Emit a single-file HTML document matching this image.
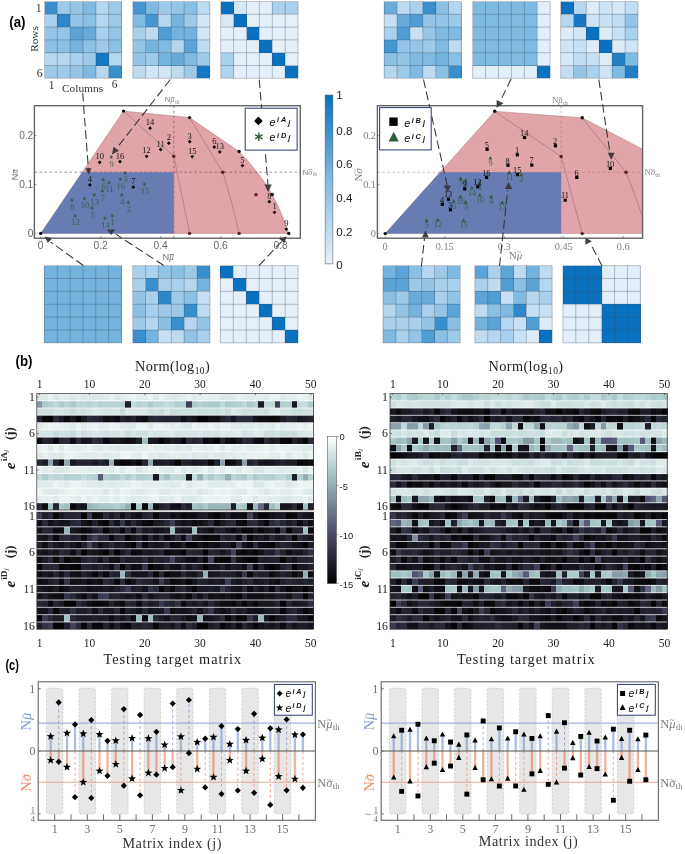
<!DOCTYPE html>
<html><head><meta charset="utf-8"><title>Figure</title><style>html,body{margin:0;padding:0;background:#fff}svg{display:block}.h rect{width:5.95px;height:7.5px}</style></head><body>
<svg width="685" height="854" viewBox="0 0 685 854">
<defs><linearGradient id="gb" x1="0" y1="0" x2="0" y2="1"><stop offset="0" stop-color="#0a71be"/><stop offset=".5" stop-color="#7fbae2"/><stop offset="1" stop-color="#e8f1fa"/></linearGradient>
<linearGradient id="gbone" x1="0" y1="0" x2="0" y2="1"><stop offset="0.000" stop-color="#ffffff"/><stop offset="0.050" stop-color="#edf3f3"/><stop offset="0.100" stop-color="#dbe8e8"/><stop offset="0.150" stop-color="#cadddd"/><stop offset="0.200" stop-color="#b8d2d2"/><stop offset="0.250" stop-color="#a7c7c7"/><stop offset="0.300" stop-color="#9cb7bc"/><stop offset="0.350" stop-color="#91a8b0"/><stop offset="0.400" stop-color="#8599a5"/><stop offset="0.450" stop-color="#7a899a"/><stop offset="0.500" stop-color="#6f7a8f"/><stop offset="0.550" stop-color="#646a84"/><stop offset="0.600" stop-color="#595b79"/><stop offset="0.650" stop-color="#4e4e6b"/><stop offset="0.700" stop-color="#42425c"/><stop offset="0.750" stop-color="#37374d"/><stop offset="0.800" stop-color="#2c2c3d"/><stop offset="0.850" stop-color="#21212e"/><stop offset="0.900" stop-color="#16161e"/><stop offset="0.950" stop-color="#0b0b0f"/><stop offset="1.000" stop-color="#000000"/></linearGradient>
<clipPath id="clipL"><rect x="34.4" y="105.7" width="265.9" height="132.5"/></clipPath>
<clipPath id="clipR"><rect x="377.4" y="105.7" width="265.2" height="132.5"/></clipPath>
</defs>
<rect width="685" height="854" fill="#fff"/>
<g shape-rendering="crispEdges">
<rect x="44.50" y="1.50" width="12.93" height="12.90" fill="#398ecc"/>
<rect x="57.33" y="1.50" width="12.93" height="12.90" fill="#9ecae9"/>
<rect x="70.17" y="1.50" width="12.93" height="12.90" fill="#94c5e7"/>
<rect x="83.00" y="1.50" width="12.93" height="12.90" fill="#7fbae2"/>
<rect x="95.83" y="1.50" width="12.93" height="12.90" fill="#b4d6ee"/>
<rect x="108.67" y="1.50" width="12.93" height="12.90" fill="#9ecae9"/>
<rect x="44.50" y="14.30" width="12.93" height="12.90" fill="#a9d0ec"/>
<rect x="57.33" y="14.30" width="12.93" height="12.90" fill="#2d87c9"/>
<rect x="70.17" y="14.30" width="12.93" height="12.90" fill="#94c5e7"/>
<rect x="83.00" y="14.30" width="12.93" height="12.90" fill="#8ac0e4"/>
<rect x="95.83" y="14.30" width="12.93" height="12.90" fill="#b4d6ee"/>
<rect x="108.67" y="14.30" width="12.93" height="12.90" fill="#9ecae9"/>
<rect x="44.50" y="27.10" width="12.93" height="12.90" fill="#94c5e7"/>
<rect x="57.33" y="27.10" width="12.93" height="12.90" fill="#94c5e7"/>
<rect x="70.17" y="27.10" width="12.93" height="12.90" fill="#5ca4d7"/>
<rect x="83.00" y="27.10" width="12.93" height="12.90" fill="#68abdb"/>
<rect x="95.83" y="27.10" width="12.93" height="12.90" fill="#a9d0ec"/>
<rect x="108.67" y="27.10" width="12.93" height="12.90" fill="#94c5e7"/>
<rect x="44.50" y="39.90" width="12.93" height="12.90" fill="#8ac0e4"/>
<rect x="57.33" y="39.90" width="12.93" height="12.90" fill="#8ac0e4"/>
<rect x="70.17" y="39.90" width="12.93" height="12.90" fill="#73b3de"/>
<rect x="83.00" y="39.90" width="12.93" height="12.90" fill="#8ac0e4"/>
<rect x="95.83" y="39.90" width="12.93" height="12.90" fill="#9ecae9"/>
<rect x="108.67" y="39.90" width="12.93" height="12.90" fill="#8ac0e4"/>
<rect x="44.50" y="52.70" width="12.93" height="12.90" fill="#b4d6ee"/>
<rect x="57.33" y="52.70" width="12.93" height="12.90" fill="#b4d6ee"/>
<rect x="70.17" y="52.70" width="12.93" height="12.90" fill="#a9d0ec"/>
<rect x="83.00" y="52.70" width="12.93" height="12.90" fill="#9ecae9"/>
<rect x="95.83" y="52.70" width="12.93" height="12.90" fill="#1678c2"/>
<rect x="108.67" y="52.70" width="12.93" height="12.90" fill="#b4d6ee"/>
<rect x="44.50" y="65.50" width="12.93" height="12.90" fill="#9ecae9"/>
<rect x="57.33" y="65.50" width="12.93" height="12.90" fill="#9ecae9"/>
<rect x="70.17" y="65.50" width="12.93" height="12.90" fill="#94c5e7"/>
<rect x="83.00" y="65.50" width="12.93" height="12.90" fill="#7fbae2"/>
<rect x="95.83" y="65.50" width="12.93" height="12.90" fill="#b4d6ee"/>
<rect x="108.67" y="65.50" width="12.93" height="12.90" fill="#398ecc"/>
</g>
<path d="M44.50 1.50V78.30M44.50 1.50H121.50M57.33 1.50V78.30M44.50 14.30H121.50M70.17 1.50V78.30M44.50 27.10H121.50M83.00 1.50V78.30M44.50 39.90H121.50M95.83 1.50V78.30M44.50 52.70H121.50M108.67 1.50V78.30M44.50 65.50H121.50M121.50 1.50V78.30M44.50 78.30H121.50" stroke="#3a4a5c" stroke-opacity=".6" stroke-width=".55" fill="none"/>
<g shape-rendering="crispEdges">
<rect x="132.80" y="1.50" width="12.93" height="12.90" fill="#4496d0"/>
<rect x="145.63" y="1.50" width="12.93" height="12.90" fill="#7fbae2"/>
<rect x="158.47" y="1.50" width="12.93" height="12.90" fill="#9ecae9"/>
<rect x="171.30" y="1.50" width="12.93" height="12.90" fill="#94c5e7"/>
<rect x="184.13" y="1.50" width="12.93" height="12.90" fill="#8ac0e4"/>
<rect x="196.97" y="1.50" width="12.93" height="12.90" fill="#bedbf0"/>
<rect x="132.80" y="14.30" width="12.93" height="12.90" fill="#7fbae2"/>
<rect x="145.63" y="14.30" width="12.93" height="12.90" fill="#4496d0"/>
<rect x="158.47" y="14.30" width="12.93" height="12.90" fill="#b4d6ee"/>
<rect x="171.30" y="14.30" width="12.93" height="12.90" fill="#73b3de"/>
<rect x="184.13" y="14.30" width="12.93" height="12.90" fill="#9ecae9"/>
<rect x="196.97" y="14.30" width="12.93" height="12.90" fill="#d3e6f5"/>
<rect x="132.80" y="27.10" width="12.93" height="12.90" fill="#a9d0ec"/>
<rect x="145.63" y="27.10" width="12.93" height="12.90" fill="#bedbf0"/>
<rect x="158.47" y="27.10" width="12.93" height="12.90" fill="#509dd4"/>
<rect x="171.30" y="27.10" width="12.93" height="12.90" fill="#73b3de"/>
<rect x="184.13" y="27.10" width="12.93" height="12.90" fill="#73b3de"/>
<rect x="196.97" y="27.10" width="12.93" height="12.90" fill="#d3e6f5"/>
<rect x="132.80" y="39.90" width="12.93" height="12.90" fill="#94c5e7"/>
<rect x="145.63" y="39.90" width="12.93" height="12.90" fill="#73b3de"/>
<rect x="158.47" y="39.90" width="12.93" height="12.90" fill="#7fbae2"/>
<rect x="171.30" y="39.90" width="12.93" height="12.90" fill="#b4d6ee"/>
<rect x="184.13" y="39.90" width="12.93" height="12.90" fill="#5ca4d7"/>
<rect x="196.97" y="39.90" width="12.93" height="12.90" fill="#bedbf0"/>
<rect x="132.80" y="52.70" width="12.93" height="12.90" fill="#94c5e7"/>
<rect x="145.63" y="52.70" width="12.93" height="12.90" fill="#9ecae9"/>
<rect x="158.47" y="52.70" width="12.93" height="12.90" fill="#73b3de"/>
<rect x="171.30" y="52.70" width="12.93" height="12.90" fill="#68abdb"/>
<rect x="184.13" y="52.70" width="12.93" height="12.90" fill="#7fbae2"/>
<rect x="196.97" y="52.70" width="12.93" height="12.90" fill="#9ecae9"/>
<rect x="132.80" y="65.50" width="12.93" height="12.90" fill="#bedbf0"/>
<rect x="145.63" y="65.50" width="12.93" height="12.90" fill="#d3e6f5"/>
<rect x="158.47" y="65.50" width="12.93" height="12.90" fill="#d3e6f5"/>
<rect x="171.30" y="65.50" width="12.93" height="12.90" fill="#bedbf0"/>
<rect x="184.13" y="65.50" width="12.93" height="12.90" fill="#9ecae9"/>
<rect x="196.97" y="65.50" width="12.93" height="12.90" fill="#1678c2"/>
</g>
<path d="M132.80 1.50V78.30M132.80 1.50H209.80M145.63 1.50V78.30M132.80 14.30H209.80M158.47 1.50V78.30M132.80 27.10H209.80M171.30 1.50V78.30M132.80 39.90H209.80M184.13 1.50V78.30M132.80 52.70H209.80M196.97 1.50V78.30M132.80 65.50H209.80M209.80 1.50V78.30M132.80 78.30H209.80" stroke="#3a4a5c" stroke-opacity=".6" stroke-width=".55" fill="none"/>
<g shape-rendering="crispEdges">
<rect x="220.70" y="1.50" width="13.00" height="12.90" fill="#0a71be"/>
<rect x="233.60" y="1.50" width="13.00" height="12.90" fill="#d7e8f6"/>
<rect x="246.50" y="1.50" width="13.00" height="12.90" fill="#e4eff9"/>
<rect x="259.40" y="1.50" width="13.00" height="12.90" fill="#e4eff9"/>
<rect x="272.30" y="1.50" width="13.00" height="12.90" fill="#a9d0ec"/>
<rect x="285.20" y="1.50" width="13.00" height="12.90" fill="#a9d0ec"/>
<rect x="220.70" y="14.30" width="13.00" height="12.90" fill="#d7e8f6"/>
<rect x="233.60" y="14.30" width="13.00" height="12.90" fill="#0a71be"/>
<rect x="246.50" y="14.30" width="13.00" height="12.90" fill="#e4eff9"/>
<rect x="259.40" y="14.30" width="13.00" height="12.90" fill="#e4eff9"/>
<rect x="272.30" y="14.30" width="13.00" height="12.90" fill="#e4eff9"/>
<rect x="285.20" y="14.30" width="13.00" height="12.90" fill="#e4eff9"/>
<rect x="220.70" y="27.10" width="13.00" height="12.90" fill="#e4eff9"/>
<rect x="233.60" y="27.10" width="13.00" height="12.90" fill="#e4eff9"/>
<rect x="246.50" y="27.10" width="13.00" height="12.90" fill="#0a71be"/>
<rect x="259.40" y="27.10" width="13.00" height="12.90" fill="#e4eff9"/>
<rect x="272.30" y="27.10" width="13.00" height="12.90" fill="#e4eff9"/>
<rect x="285.20" y="27.10" width="13.00" height="12.90" fill="#e4eff9"/>
<rect x="220.70" y="39.90" width="13.00" height="12.90" fill="#e4eff9"/>
<rect x="233.60" y="39.90" width="13.00" height="12.90" fill="#e4eff9"/>
<rect x="246.50" y="39.90" width="13.00" height="12.90" fill="#e4eff9"/>
<rect x="259.40" y="39.90" width="13.00" height="12.90" fill="#0a71be"/>
<rect x="272.30" y="39.90" width="13.00" height="12.90" fill="#e4eff9"/>
<rect x="285.20" y="39.90" width="13.00" height="12.90" fill="#e4eff9"/>
<rect x="220.70" y="52.70" width="13.00" height="12.90" fill="#a9d0ec"/>
<rect x="233.60" y="52.70" width="13.00" height="12.90" fill="#e4eff9"/>
<rect x="246.50" y="52.70" width="13.00" height="12.90" fill="#e4eff9"/>
<rect x="259.40" y="52.70" width="13.00" height="12.90" fill="#e4eff9"/>
<rect x="272.30" y="52.70" width="13.00" height="12.90" fill="#0a71be"/>
<rect x="285.20" y="52.70" width="13.00" height="12.90" fill="#e4eff9"/>
<rect x="220.70" y="65.50" width="13.00" height="12.90" fill="#afd3ed"/>
<rect x="233.60" y="65.50" width="13.00" height="12.90" fill="#e4eff9"/>
<rect x="246.50" y="65.50" width="13.00" height="12.90" fill="#e4eff9"/>
<rect x="259.40" y="65.50" width="13.00" height="12.90" fill="#e4eff9"/>
<rect x="272.30" y="65.50" width="13.00" height="12.90" fill="#e4eff9"/>
<rect x="285.20" y="65.50" width="13.00" height="12.90" fill="#0a71be"/>
</g>
<path d="M220.70 1.50V78.30M220.70 1.50H298.10M233.60 1.50V78.30M220.70 14.30H298.10M246.50 1.50V78.30M220.70 27.10H298.10M259.40 1.50V78.30M220.70 39.90H298.10M272.30 1.50V78.30M220.70 52.70H298.10M285.20 1.50V78.30M220.70 65.50H298.10M298.10 1.50V78.30M220.70 78.30H298.10" stroke="#3a4a5c" stroke-opacity=".6" stroke-width=".55" fill="none"/>
<g shape-rendering="crispEdges">
<rect x="384.20" y="1.50" width="12.97" height="12.90" fill="#68abdb"/>
<rect x="397.07" y="1.50" width="12.97" height="12.90" fill="#bedbf0"/>
<rect x="409.93" y="1.50" width="12.97" height="12.90" fill="#a9d0ec"/>
<rect x="422.80" y="1.50" width="12.97" height="12.90" fill="#398ecc"/>
<rect x="435.67" y="1.50" width="12.97" height="12.90" fill="#8ac0e4"/>
<rect x="448.53" y="1.50" width="12.97" height="12.90" fill="#b4d6ee"/>
<rect x="384.20" y="14.30" width="12.97" height="12.90" fill="#c8e0f3"/>
<rect x="397.07" y="14.30" width="12.97" height="12.90" fill="#68abdb"/>
<rect x="409.93" y="14.30" width="12.97" height="12.90" fill="#509dd4"/>
<rect x="422.80" y="14.30" width="12.97" height="12.90" fill="#94c5e7"/>
<rect x="435.67" y="14.30" width="12.97" height="12.90" fill="#94c5e7"/>
<rect x="448.53" y="14.30" width="12.97" height="12.90" fill="#9ecae9"/>
<rect x="384.20" y="27.10" width="12.97" height="12.90" fill="#a9d0ec"/>
<rect x="397.07" y="27.10" width="12.97" height="12.90" fill="#509dd4"/>
<rect x="409.93" y="27.10" width="12.97" height="12.90" fill="#c8e0f3"/>
<rect x="422.80" y="27.10" width="12.97" height="12.90" fill="#94c5e7"/>
<rect x="435.67" y="27.10" width="12.97" height="12.90" fill="#7fbae2"/>
<rect x="448.53" y="27.10" width="12.97" height="12.90" fill="#7fbae2"/>
<rect x="384.20" y="39.90" width="12.97" height="12.90" fill="#4496d0"/>
<rect x="397.07" y="39.90" width="12.97" height="12.90" fill="#94c5e7"/>
<rect x="409.93" y="39.90" width="12.97" height="12.90" fill="#94c5e7"/>
<rect x="422.80" y="39.90" width="12.97" height="12.90" fill="#9ecae9"/>
<rect x="435.67" y="39.90" width="12.97" height="12.90" fill="#7fbae2"/>
<rect x="448.53" y="39.90" width="12.97" height="12.90" fill="#bedbf0"/>
<rect x="384.20" y="52.70" width="12.97" height="12.90" fill="#8ac0e4"/>
<rect x="397.07" y="52.70" width="12.97" height="12.90" fill="#94c5e7"/>
<rect x="409.93" y="52.70" width="12.97" height="12.90" fill="#7fbae2"/>
<rect x="422.80" y="52.70" width="12.97" height="12.90" fill="#7fbae2"/>
<rect x="435.67" y="52.70" width="12.97" height="12.90" fill="#73b3de"/>
<rect x="448.53" y="52.70" width="12.97" height="12.90" fill="#8ac0e4"/>
<rect x="384.20" y="65.50" width="12.97" height="12.90" fill="#b4d6ee"/>
<rect x="397.07" y="65.50" width="12.97" height="12.90" fill="#9ecae9"/>
<rect x="409.93" y="65.50" width="12.97" height="12.90" fill="#7fbae2"/>
<rect x="422.80" y="65.50" width="12.97" height="12.90" fill="#bedbf0"/>
<rect x="435.67" y="65.50" width="12.97" height="12.90" fill="#8ac0e4"/>
<rect x="448.53" y="65.50" width="12.97" height="12.90" fill="#398ecc"/>
</g>
<path d="M384.20 1.50V78.30M384.20 1.50H461.40M397.07 1.50V78.30M384.20 14.30H461.40M409.93 1.50V78.30M384.20 27.10H461.40M422.80 1.50V78.30M384.20 39.90H461.40M435.67 1.50V78.30M384.20 52.70H461.40M448.53 1.50V78.30M384.20 65.50H461.40M461.40 1.50V78.30M384.20 78.30H461.40" stroke="#3a4a5c" stroke-opacity=".6" stroke-width=".55" fill="none"/>
<g shape-rendering="crispEdges">
<rect x="472.60" y="1.50" width="13.03" height="12.90" fill="#7fbae2"/>
<rect x="485.53" y="1.50" width="13.03" height="12.90" fill="#7fbae2"/>
<rect x="498.47" y="1.50" width="13.03" height="12.90" fill="#7fbae2"/>
<rect x="511.40" y="1.50" width="13.03" height="12.90" fill="#7fbae2"/>
<rect x="524.33" y="1.50" width="13.03" height="12.90" fill="#7fbae2"/>
<rect x="537.27" y="1.50" width="13.03" height="12.90" fill="#e2eef9"/>
<rect x="472.60" y="14.30" width="13.03" height="12.90" fill="#7fbae2"/>
<rect x="485.53" y="14.30" width="13.03" height="12.90" fill="#7fbae2"/>
<rect x="498.47" y="14.30" width="13.03" height="12.90" fill="#7fbae2"/>
<rect x="511.40" y="14.30" width="13.03" height="12.90" fill="#7fbae2"/>
<rect x="524.33" y="14.30" width="13.03" height="12.90" fill="#7fbae2"/>
<rect x="537.27" y="14.30" width="13.03" height="12.90" fill="#e2eef9"/>
<rect x="472.60" y="27.10" width="13.03" height="12.90" fill="#7fbae2"/>
<rect x="485.53" y="27.10" width="13.03" height="12.90" fill="#7fbae2"/>
<rect x="498.47" y="27.10" width="13.03" height="12.90" fill="#7fbae2"/>
<rect x="511.40" y="27.10" width="13.03" height="12.90" fill="#7fbae2"/>
<rect x="524.33" y="27.10" width="13.03" height="12.90" fill="#7fbae2"/>
<rect x="537.27" y="27.10" width="13.03" height="12.90" fill="#e2eef9"/>
<rect x="472.60" y="39.90" width="13.03" height="12.90" fill="#7fbae2"/>
<rect x="485.53" y="39.90" width="13.03" height="12.90" fill="#7fbae2"/>
<rect x="498.47" y="39.90" width="13.03" height="12.90" fill="#7fbae2"/>
<rect x="511.40" y="39.90" width="13.03" height="12.90" fill="#7fbae2"/>
<rect x="524.33" y="39.90" width="13.03" height="12.90" fill="#7fbae2"/>
<rect x="537.27" y="39.90" width="13.03" height="12.90" fill="#e2eef9"/>
<rect x="472.60" y="52.70" width="13.03" height="12.90" fill="#7fbae2"/>
<rect x="485.53" y="52.70" width="13.03" height="12.90" fill="#7fbae2"/>
<rect x="498.47" y="52.70" width="13.03" height="12.90" fill="#7fbae2"/>
<rect x="511.40" y="52.70" width="13.03" height="12.90" fill="#7fbae2"/>
<rect x="524.33" y="52.70" width="13.03" height="12.90" fill="#7fbae2"/>
<rect x="537.27" y="52.70" width="13.03" height="12.90" fill="#e2eef9"/>
<rect x="472.60" y="65.50" width="13.03" height="12.90" fill="#e2eef9"/>
<rect x="485.53" y="65.50" width="13.03" height="12.90" fill="#e2eef9"/>
<rect x="498.47" y="65.50" width="13.03" height="12.90" fill="#e2eef9"/>
<rect x="511.40" y="65.50" width="13.03" height="12.90" fill="#e2eef9"/>
<rect x="524.33" y="65.50" width="13.03" height="12.90" fill="#e2eef9"/>
<rect x="537.27" y="65.50" width="13.03" height="12.90" fill="#0a71be"/>
</g>
<path d="M472.60 1.50V78.30M472.60 1.50H550.20M485.53 1.50V78.30M472.60 14.30H550.20M498.47 1.50V78.30M472.60 27.10H550.20M511.40 1.50V78.30M472.60 39.90H550.20M524.33 1.50V78.30M472.60 52.70H550.20M537.27 1.50V78.30M472.60 65.50H550.20M550.20 1.50V78.30M472.60 78.30H550.20" stroke="#3a4a5c" stroke-opacity=".6" stroke-width=".55" fill="none"/>
<g shape-rendering="crispEdges">
<rect x="560.60" y="1.50" width="13.00" height="12.90" fill="#0a71be"/>
<rect x="573.50" y="1.50" width="13.00" height="12.90" fill="#b4d6ee"/>
<rect x="586.40" y="1.50" width="13.00" height="12.90" fill="#deecf8"/>
<rect x="599.30" y="1.50" width="13.00" height="12.90" fill="#cfe4f4"/>
<rect x="612.20" y="1.50" width="13.00" height="12.90" fill="#d7e8f6"/>
<rect x="625.10" y="1.50" width="13.00" height="12.90" fill="#c2ddf1"/>
<rect x="560.60" y="14.30" width="13.00" height="12.90" fill="#b4d6ee"/>
<rect x="573.50" y="14.30" width="13.00" height="12.90" fill="#1678c2"/>
<rect x="586.40" y="14.30" width="13.00" height="12.90" fill="#cfe4f4"/>
<rect x="599.30" y="14.30" width="13.00" height="12.90" fill="#c8e0f3"/>
<rect x="612.20" y="14.30" width="13.00" height="12.90" fill="#c2ddf1"/>
<rect x="625.10" y="14.30" width="13.00" height="12.90" fill="#94c5e7"/>
<rect x="560.60" y="27.10" width="13.00" height="12.90" fill="#deecf8"/>
<rect x="573.50" y="27.10" width="13.00" height="12.90" fill="#d3e6f5"/>
<rect x="586.40" y="27.10" width="13.00" height="12.90" fill="#0a71be"/>
<rect x="599.30" y="27.10" width="13.00" height="12.90" fill="#deecf8"/>
<rect x="612.20" y="27.10" width="13.00" height="12.90" fill="#c8e0f3"/>
<rect x="625.10" y="27.10" width="13.00" height="12.90" fill="#a9d0ec"/>
<rect x="560.60" y="39.90" width="13.00" height="12.90" fill="#cfe4f4"/>
<rect x="573.50" y="39.90" width="13.00" height="12.90" fill="#c8e0f3"/>
<rect x="586.40" y="39.90" width="13.00" height="12.90" fill="#deecf8"/>
<rect x="599.30" y="39.90" width="13.00" height="12.90" fill="#0a71be"/>
<rect x="612.20" y="39.90" width="13.00" height="12.90" fill="#deecf8"/>
<rect x="625.10" y="39.90" width="13.00" height="12.90" fill="#cfe4f4"/>
<rect x="560.60" y="52.70" width="13.00" height="12.90" fill="#d7e8f6"/>
<rect x="573.50" y="52.70" width="13.00" height="12.90" fill="#c2ddf1"/>
<rect x="586.40" y="52.70" width="13.00" height="12.90" fill="#c8e0f3"/>
<rect x="599.30" y="52.70" width="13.00" height="12.90" fill="#deecf8"/>
<rect x="612.20" y="52.70" width="13.00" height="12.90" fill="#2180c5"/>
<rect x="625.10" y="52.70" width="13.00" height="12.90" fill="#7fbae2"/>
<rect x="560.60" y="65.50" width="13.00" height="12.90" fill="#c2ddf1"/>
<rect x="573.50" y="65.50" width="13.00" height="12.90" fill="#94c5e7"/>
<rect x="586.40" y="65.50" width="13.00" height="12.90" fill="#a9d0ec"/>
<rect x="599.30" y="65.50" width="13.00" height="12.90" fill="#cfe4f4"/>
<rect x="612.20" y="65.50" width="13.00" height="12.90" fill="#7fbae2"/>
<rect x="625.10" y="65.50" width="13.00" height="12.90" fill="#2180c5"/>
</g>
<path d="M560.60 1.50V78.30M560.60 1.50H638.00M573.50 1.50V78.30M560.60 14.30H638.00M586.40 1.50V78.30M560.60 27.10H638.00M599.30 1.50V78.30M560.60 39.90H638.00M612.20 1.50V78.30M560.60 52.70H638.00M625.10 1.50V78.30M560.60 65.50H638.00M638.00 1.50V78.30M560.60 78.30H638.00" stroke="#3a4a5c" stroke-opacity=".6" stroke-width=".55" fill="none"/>
<g shape-rendering="crispEdges">
<rect x="44.40" y="265.60" width="12.95" height="12.98" fill="#73b3de"/>
<rect x="57.25" y="265.60" width="12.95" height="12.98" fill="#73b3de"/>
<rect x="70.10" y="265.60" width="12.95" height="12.98" fill="#73b3de"/>
<rect x="82.95" y="265.60" width="12.95" height="12.98" fill="#73b3de"/>
<rect x="95.80" y="265.60" width="12.95" height="12.98" fill="#73b3de"/>
<rect x="108.65" y="265.60" width="12.95" height="12.98" fill="#73b3de"/>
<rect x="44.40" y="278.48" width="12.95" height="12.98" fill="#73b3de"/>
<rect x="57.25" y="278.48" width="12.95" height="12.98" fill="#73b3de"/>
<rect x="70.10" y="278.48" width="12.95" height="12.98" fill="#73b3de"/>
<rect x="82.95" y="278.48" width="12.95" height="12.98" fill="#73b3de"/>
<rect x="95.80" y="278.48" width="12.95" height="12.98" fill="#73b3de"/>
<rect x="108.65" y="278.48" width="12.95" height="12.98" fill="#73b3de"/>
<rect x="44.40" y="291.37" width="12.95" height="12.98" fill="#73b3de"/>
<rect x="57.25" y="291.37" width="12.95" height="12.98" fill="#73b3de"/>
<rect x="70.10" y="291.37" width="12.95" height="12.98" fill="#73b3de"/>
<rect x="82.95" y="291.37" width="12.95" height="12.98" fill="#73b3de"/>
<rect x="95.80" y="291.37" width="12.95" height="12.98" fill="#73b3de"/>
<rect x="108.65" y="291.37" width="12.95" height="12.98" fill="#73b3de"/>
<rect x="44.40" y="304.25" width="12.95" height="12.98" fill="#73b3de"/>
<rect x="57.25" y="304.25" width="12.95" height="12.98" fill="#73b3de"/>
<rect x="70.10" y="304.25" width="12.95" height="12.98" fill="#73b3de"/>
<rect x="82.95" y="304.25" width="12.95" height="12.98" fill="#73b3de"/>
<rect x="95.80" y="304.25" width="12.95" height="12.98" fill="#73b3de"/>
<rect x="108.65" y="304.25" width="12.95" height="12.98" fill="#73b3de"/>
<rect x="44.40" y="317.13" width="12.95" height="12.98" fill="#73b3de"/>
<rect x="57.25" y="317.13" width="12.95" height="12.98" fill="#73b3de"/>
<rect x="70.10" y="317.13" width="12.95" height="12.98" fill="#73b3de"/>
<rect x="82.95" y="317.13" width="12.95" height="12.98" fill="#73b3de"/>
<rect x="95.80" y="317.13" width="12.95" height="12.98" fill="#73b3de"/>
<rect x="108.65" y="317.13" width="12.95" height="12.98" fill="#73b3de"/>
<rect x="44.40" y="330.02" width="12.95" height="12.98" fill="#73b3de"/>
<rect x="57.25" y="330.02" width="12.95" height="12.98" fill="#73b3de"/>
<rect x="70.10" y="330.02" width="12.95" height="12.98" fill="#73b3de"/>
<rect x="82.95" y="330.02" width="12.95" height="12.98" fill="#73b3de"/>
<rect x="95.80" y="330.02" width="12.95" height="12.98" fill="#73b3de"/>
<rect x="108.65" y="330.02" width="12.95" height="12.98" fill="#73b3de"/>
</g>
<path d="M44.40 265.60V342.90M44.40 265.60H121.50M57.25 265.60V342.90M44.40 278.48H121.50M70.10 265.60V342.90M44.40 291.37H121.50M82.95 265.60V342.90M44.40 304.25H121.50M95.80 265.60V342.90M44.40 317.13H121.50M108.65 265.60V342.90M44.40 330.02H121.50M121.50 265.60V342.90M44.40 342.90H121.50" stroke="#3a4a5c" stroke-opacity=".6" stroke-width=".55" fill="none"/>
<g shape-rendering="crispEdges">
<rect x="132.60" y="265.60" width="13.00" height="12.98" fill="#a9d0ec"/>
<rect x="145.50" y="265.60" width="13.00" height="12.98" fill="#a9d0ec"/>
<rect x="158.40" y="265.60" width="13.00" height="12.98" fill="#94c5e7"/>
<rect x="171.30" y="265.60" width="13.00" height="12.98" fill="#8ac0e4"/>
<rect x="184.20" y="265.60" width="13.00" height="12.98" fill="#9ecae9"/>
<rect x="197.10" y="265.60" width="13.00" height="12.98" fill="#398ecc"/>
<rect x="132.60" y="278.48" width="13.00" height="12.98" fill="#a9d0ec"/>
<rect x="145.50" y="278.48" width="13.00" height="12.98" fill="#398ecc"/>
<rect x="158.40" y="278.48" width="13.00" height="12.98" fill="#a9d0ec"/>
<rect x="171.30" y="278.48" width="13.00" height="12.98" fill="#a9d0ec"/>
<rect x="184.20" y="278.48" width="13.00" height="12.98" fill="#b4d6ee"/>
<rect x="197.10" y="278.48" width="13.00" height="12.98" fill="#73b3de"/>
<rect x="132.60" y="291.37" width="13.00" height="12.98" fill="#94c5e7"/>
<rect x="145.50" y="291.37" width="13.00" height="12.98" fill="#a9d0ec"/>
<rect x="158.40" y="291.37" width="13.00" height="12.98" fill="#2d87c9"/>
<rect x="171.30" y="291.37" width="13.00" height="12.98" fill="#9ecae9"/>
<rect x="184.20" y="291.37" width="13.00" height="12.98" fill="#8ac0e4"/>
<rect x="197.10" y="291.37" width="13.00" height="12.98" fill="#c8e0f3"/>
<rect x="132.60" y="304.25" width="13.00" height="12.98" fill="#8ac0e4"/>
<rect x="145.50" y="304.25" width="13.00" height="12.98" fill="#a9d0ec"/>
<rect x="158.40" y="304.25" width="13.00" height="12.98" fill="#9ecae9"/>
<rect x="171.30" y="304.25" width="13.00" height="12.98" fill="#9ecae9"/>
<rect x="184.20" y="304.25" width="13.00" height="12.98" fill="#398ecc"/>
<rect x="197.10" y="304.25" width="13.00" height="12.98" fill="#bedbf0"/>
<rect x="132.60" y="317.13" width="13.00" height="12.98" fill="#9ecae9"/>
<rect x="145.50" y="317.13" width="13.00" height="12.98" fill="#b4d6ee"/>
<rect x="158.40" y="317.13" width="13.00" height="12.98" fill="#8ac0e4"/>
<rect x="171.30" y="317.13" width="13.00" height="12.98" fill="#398ecc"/>
<rect x="184.20" y="317.13" width="13.00" height="12.98" fill="#b4d6ee"/>
<rect x="197.10" y="317.13" width="13.00" height="12.98" fill="#94c5e7"/>
<rect x="132.60" y="330.02" width="13.00" height="12.98" fill="#398ecc"/>
<rect x="145.50" y="330.02" width="13.00" height="12.98" fill="#73b3de"/>
<rect x="158.40" y="330.02" width="13.00" height="12.98" fill="#c8e0f3"/>
<rect x="171.30" y="330.02" width="13.00" height="12.98" fill="#bedbf0"/>
<rect x="184.20" y="330.02" width="13.00" height="12.98" fill="#94c5e7"/>
<rect x="197.10" y="330.02" width="13.00" height="12.98" fill="#a9d0ec"/>
</g>
<path d="M132.60 265.60V342.90M132.60 265.60H210.00M145.50 265.60V342.90M132.60 278.48H210.00M158.40 265.60V342.90M132.60 291.37H210.00M171.30 265.60V342.90M132.60 304.25H210.00M184.20 265.60V342.90M132.60 317.13H210.00M197.10 265.60V342.90M132.60 330.02H210.00M210.00 265.60V342.90M132.60 342.90H210.00" stroke="#3a4a5c" stroke-opacity=".6" stroke-width=".55" fill="none"/>
<g shape-rendering="crispEdges">
<rect x="220.40" y="265.60" width="13.05" height="12.98" fill="#0a71be"/>
<rect x="233.35" y="265.60" width="13.05" height="12.98" fill="#e4eff9"/>
<rect x="246.30" y="265.60" width="13.05" height="12.98" fill="#e4eff9"/>
<rect x="259.25" y="265.60" width="13.05" height="12.98" fill="#e4eff9"/>
<rect x="272.20" y="265.60" width="13.05" height="12.98" fill="#e4eff9"/>
<rect x="285.15" y="265.60" width="13.05" height="12.98" fill="#e4eff9"/>
<rect x="220.40" y="278.48" width="13.05" height="12.98" fill="#e4eff9"/>
<rect x="233.35" y="278.48" width="13.05" height="12.98" fill="#0a71be"/>
<rect x="246.30" y="278.48" width="13.05" height="12.98" fill="#e4eff9"/>
<rect x="259.25" y="278.48" width="13.05" height="12.98" fill="#e4eff9"/>
<rect x="272.20" y="278.48" width="13.05" height="12.98" fill="#e4eff9"/>
<rect x="285.15" y="278.48" width="13.05" height="12.98" fill="#e4eff9"/>
<rect x="220.40" y="291.37" width="13.05" height="12.98" fill="#e4eff9"/>
<rect x="233.35" y="291.37" width="13.05" height="12.98" fill="#e4eff9"/>
<rect x="246.30" y="291.37" width="13.05" height="12.98" fill="#0a71be"/>
<rect x="259.25" y="291.37" width="13.05" height="12.98" fill="#e4eff9"/>
<rect x="272.20" y="291.37" width="13.05" height="12.98" fill="#e4eff9"/>
<rect x="285.15" y="291.37" width="13.05" height="12.98" fill="#e4eff9"/>
<rect x="220.40" y="304.25" width="13.05" height="12.98" fill="#e4eff9"/>
<rect x="233.35" y="304.25" width="13.05" height="12.98" fill="#e4eff9"/>
<rect x="246.30" y="304.25" width="13.05" height="12.98" fill="#e4eff9"/>
<rect x="259.25" y="304.25" width="13.05" height="12.98" fill="#0a71be"/>
<rect x="272.20" y="304.25" width="13.05" height="12.98" fill="#e4eff9"/>
<rect x="285.15" y="304.25" width="13.05" height="12.98" fill="#e4eff9"/>
<rect x="220.40" y="317.13" width="13.05" height="12.98" fill="#e4eff9"/>
<rect x="233.35" y="317.13" width="13.05" height="12.98" fill="#e4eff9"/>
<rect x="246.30" y="317.13" width="13.05" height="12.98" fill="#e4eff9"/>
<rect x="259.25" y="317.13" width="13.05" height="12.98" fill="#e4eff9"/>
<rect x="272.20" y="317.13" width="13.05" height="12.98" fill="#0a71be"/>
<rect x="285.15" y="317.13" width="13.05" height="12.98" fill="#e4eff9"/>
<rect x="220.40" y="330.02" width="13.05" height="12.98" fill="#e4eff9"/>
<rect x="233.35" y="330.02" width="13.05" height="12.98" fill="#e4eff9"/>
<rect x="246.30" y="330.02" width="13.05" height="12.98" fill="#e4eff9"/>
<rect x="259.25" y="330.02" width="13.05" height="12.98" fill="#e4eff9"/>
<rect x="272.20" y="330.02" width="13.05" height="12.98" fill="#e4eff9"/>
<rect x="285.15" y="330.02" width="13.05" height="12.98" fill="#0a71be"/>
</g>
<path d="M220.40 265.60V342.90M220.40 265.60H298.10M233.35 265.60V342.90M220.40 278.48H298.10M246.30 265.60V342.90M220.40 291.37H298.10M259.25 265.60V342.90M220.40 304.25H298.10M272.20 265.60V342.90M220.40 317.13H298.10M285.15 265.60V342.90M220.40 330.02H298.10M298.10 265.60V342.90M220.40 342.90H298.10" stroke="#3a4a5c" stroke-opacity=".6" stroke-width=".55" fill="none"/>
<g shape-rendering="crispEdges">
<rect x="383.00" y="265.60" width="12.98" height="12.98" fill="#73b3de"/>
<rect x="395.88" y="265.60" width="12.98" height="12.98" fill="#5ca4d7"/>
<rect x="408.77" y="265.60" width="12.98" height="12.98" fill="#8ac0e4"/>
<rect x="421.65" y="265.60" width="12.98" height="12.98" fill="#b4d6ee"/>
<rect x="434.53" y="265.60" width="12.98" height="12.98" fill="#9ecae9"/>
<rect x="447.42" y="265.60" width="12.98" height="12.98" fill="#7fbae2"/>
<rect x="383.00" y="278.48" width="12.98" height="12.98" fill="#5ca4d7"/>
<rect x="395.88" y="278.48" width="12.98" height="12.98" fill="#5ca4d7"/>
<rect x="408.77" y="278.48" width="12.98" height="12.98" fill="#9ecae9"/>
<rect x="421.65" y="278.48" width="12.98" height="12.98" fill="#94c5e7"/>
<rect x="434.53" y="278.48" width="12.98" height="12.98" fill="#a9d0ec"/>
<rect x="447.42" y="278.48" width="12.98" height="12.98" fill="#a9d0ec"/>
<rect x="383.00" y="291.37" width="12.98" height="12.98" fill="#8ac0e4"/>
<rect x="395.88" y="291.37" width="12.98" height="12.98" fill="#9ecae9"/>
<rect x="408.77" y="291.37" width="12.98" height="12.98" fill="#68abdb"/>
<rect x="421.65" y="291.37" width="12.98" height="12.98" fill="#68abdb"/>
<rect x="434.53" y="291.37" width="12.98" height="12.98" fill="#a9d0ec"/>
<rect x="447.42" y="291.37" width="12.98" height="12.98" fill="#94c5e7"/>
<rect x="383.00" y="304.25" width="12.98" height="12.98" fill="#b4d6ee"/>
<rect x="395.88" y="304.25" width="12.98" height="12.98" fill="#94c5e7"/>
<rect x="408.77" y="304.25" width="12.98" height="12.98" fill="#73b3de"/>
<rect x="421.65" y="304.25" width="12.98" height="12.98" fill="#a9d0ec"/>
<rect x="434.53" y="304.25" width="12.98" height="12.98" fill="#94c5e7"/>
<rect x="447.42" y="304.25" width="12.98" height="12.98" fill="#5ca4d7"/>
<rect x="383.00" y="317.13" width="12.98" height="12.98" fill="#a9d0ec"/>
<rect x="395.88" y="317.13" width="12.98" height="12.98" fill="#a9d0ec"/>
<rect x="408.77" y="317.13" width="12.98" height="12.98" fill="#a9d0ec"/>
<rect x="421.65" y="317.13" width="12.98" height="12.98" fill="#94c5e7"/>
<rect x="434.53" y="317.13" width="12.98" height="12.98" fill="#398ecc"/>
<rect x="447.42" y="317.13" width="12.98" height="12.98" fill="#8ac0e4"/>
<rect x="383.00" y="330.02" width="12.98" height="12.98" fill="#7fbae2"/>
<rect x="395.88" y="330.02" width="12.98" height="12.98" fill="#a9d0ec"/>
<rect x="408.77" y="330.02" width="12.98" height="12.98" fill="#94c5e7"/>
<rect x="421.65" y="330.02" width="12.98" height="12.98" fill="#509dd4"/>
<rect x="434.53" y="330.02" width="12.98" height="12.98" fill="#8ac0e4"/>
<rect x="447.42" y="330.02" width="12.98" height="12.98" fill="#9ecae9"/>
</g>
<path d="M383.00 265.60V342.90M383.00 265.60H460.30M395.88 265.60V342.90M383.00 278.48H460.30M408.77 265.60V342.90M383.00 291.37H460.30M421.65 265.60V342.90M383.00 304.25H460.30M434.53 265.60V342.90M383.00 317.13H460.30M447.42 265.60V342.90M383.00 330.02H460.30M460.30 265.60V342.90M383.00 342.90H460.30" stroke="#3a4a5c" stroke-opacity=".6" stroke-width=".55" fill="none"/>
<g shape-rendering="crispEdges">
<rect x="474.80" y="265.60" width="13.00" height="12.98" fill="#5ca4d7"/>
<rect x="487.70" y="265.60" width="13.00" height="12.98" fill="#a9d0ec"/>
<rect x="500.60" y="265.60" width="13.00" height="12.98" fill="#5ca4d7"/>
<rect x="513.50" y="265.60" width="13.00" height="12.98" fill="#bedbf0"/>
<rect x="526.40" y="265.60" width="13.00" height="12.98" fill="#73b3de"/>
<rect x="539.30" y="265.60" width="13.00" height="12.98" fill="#bedbf0"/>
<rect x="474.80" y="278.48" width="13.00" height="12.98" fill="#a9d0ec"/>
<rect x="487.70" y="278.48" width="13.00" height="12.98" fill="#bedbf0"/>
<rect x="500.60" y="278.48" width="13.00" height="12.98" fill="#509dd4"/>
<rect x="513.50" y="278.48" width="13.00" height="12.98" fill="#8ac0e4"/>
<rect x="526.40" y="278.48" width="13.00" height="12.98" fill="#5ca4d7"/>
<rect x="539.30" y="278.48" width="13.00" height="12.98" fill="#b4d6ee"/>
<rect x="474.80" y="291.37" width="13.00" height="12.98" fill="#5ca4d7"/>
<rect x="487.70" y="291.37" width="13.00" height="12.98" fill="#509dd4"/>
<rect x="500.60" y="291.37" width="13.00" height="12.98" fill="#c8e0f3"/>
<rect x="513.50" y="291.37" width="13.00" height="12.98" fill="#7fbae2"/>
<rect x="526.40" y="291.37" width="13.00" height="12.98" fill="#b4d6ee"/>
<rect x="539.30" y="291.37" width="13.00" height="12.98" fill="#a9d0ec"/>
<rect x="474.80" y="304.25" width="13.00" height="12.98" fill="#bedbf0"/>
<rect x="487.70" y="304.25" width="13.00" height="12.98" fill="#8ac0e4"/>
<rect x="500.60" y="304.25" width="13.00" height="12.98" fill="#7fbae2"/>
<rect x="513.50" y="304.25" width="13.00" height="12.98" fill="#2d87c9"/>
<rect x="526.40" y="304.25" width="13.00" height="12.98" fill="#c8e0f3"/>
<rect x="539.30" y="304.25" width="13.00" height="12.98" fill="#c8e0f3"/>
<rect x="474.80" y="317.13" width="13.00" height="12.98" fill="#73b3de"/>
<rect x="487.70" y="317.13" width="13.00" height="12.98" fill="#5ca4d7"/>
<rect x="500.60" y="317.13" width="13.00" height="12.98" fill="#b4d6ee"/>
<rect x="513.50" y="317.13" width="13.00" height="12.98" fill="#c8e0f3"/>
<rect x="526.40" y="317.13" width="13.00" height="12.98" fill="#509dd4"/>
<rect x="539.30" y="317.13" width="13.00" height="12.98" fill="#deecf8"/>
<rect x="474.80" y="330.02" width="13.00" height="12.98" fill="#bedbf0"/>
<rect x="487.70" y="330.02" width="13.00" height="12.98" fill="#b4d6ee"/>
<rect x="500.60" y="330.02" width="13.00" height="12.98" fill="#a9d0ec"/>
<rect x="513.50" y="330.02" width="13.00" height="12.98" fill="#c8e0f3"/>
<rect x="526.40" y="330.02" width="13.00" height="12.98" fill="#deecf8"/>
<rect x="539.30" y="330.02" width="13.00" height="12.98" fill="#0a71be"/>
</g>
<path d="M474.80 265.60V342.90M474.80 265.60H552.20M487.70 265.60V342.90M474.80 278.48H552.20M500.60 265.60V342.90M474.80 291.37H552.20M513.50 265.60V342.90M474.80 304.25H552.20M526.40 265.60V342.90M474.80 317.13H552.20M539.30 265.60V342.90M474.80 330.02H552.20M552.20 265.60V342.90M474.80 342.90H552.20" stroke="#3a4a5c" stroke-opacity=".6" stroke-width=".55" fill="none"/>
<g shape-rendering="crispEdges">
<rect x="562.90" y="265.60" width="13.02" height="12.98" fill="#0a71be"/>
<rect x="575.82" y="265.60" width="13.02" height="12.98" fill="#0a71be"/>
<rect x="588.73" y="265.60" width="13.02" height="12.98" fill="#0a71be"/>
<rect x="601.65" y="265.60" width="13.02" height="12.98" fill="#e2eef9"/>
<rect x="614.57" y="265.60" width="13.02" height="12.98" fill="#e2eef9"/>
<rect x="627.48" y="265.60" width="13.02" height="12.98" fill="#e2eef9"/>
<rect x="562.90" y="278.48" width="13.02" height="12.98" fill="#0a71be"/>
<rect x="575.82" y="278.48" width="13.02" height="12.98" fill="#0a71be"/>
<rect x="588.73" y="278.48" width="13.02" height="12.98" fill="#0a71be"/>
<rect x="601.65" y="278.48" width="13.02" height="12.98" fill="#e2eef9"/>
<rect x="614.57" y="278.48" width="13.02" height="12.98" fill="#e2eef9"/>
<rect x="627.48" y="278.48" width="13.02" height="12.98" fill="#e2eef9"/>
<rect x="562.90" y="291.37" width="13.02" height="12.98" fill="#0a71be"/>
<rect x="575.82" y="291.37" width="13.02" height="12.98" fill="#0a71be"/>
<rect x="588.73" y="291.37" width="13.02" height="12.98" fill="#0a71be"/>
<rect x="601.65" y="291.37" width="13.02" height="12.98" fill="#e2eef9"/>
<rect x="614.57" y="291.37" width="13.02" height="12.98" fill="#e2eef9"/>
<rect x="627.48" y="291.37" width="13.02" height="12.98" fill="#e2eef9"/>
<rect x="562.90" y="304.25" width="13.02" height="12.98" fill="#e2eef9"/>
<rect x="575.82" y="304.25" width="13.02" height="12.98" fill="#e2eef9"/>
<rect x="588.73" y="304.25" width="13.02" height="12.98" fill="#e2eef9"/>
<rect x="601.65" y="304.25" width="13.02" height="12.98" fill="#0a71be"/>
<rect x="614.57" y="304.25" width="13.02" height="12.98" fill="#0a71be"/>
<rect x="627.48" y="304.25" width="13.02" height="12.98" fill="#0a71be"/>
<rect x="562.90" y="317.13" width="13.02" height="12.98" fill="#e2eef9"/>
<rect x="575.82" y="317.13" width="13.02" height="12.98" fill="#e2eef9"/>
<rect x="588.73" y="317.13" width="13.02" height="12.98" fill="#e2eef9"/>
<rect x="601.65" y="317.13" width="13.02" height="12.98" fill="#0a71be"/>
<rect x="614.57" y="317.13" width="13.02" height="12.98" fill="#0a71be"/>
<rect x="627.48" y="317.13" width="13.02" height="12.98" fill="#0a71be"/>
<rect x="562.90" y="330.02" width="13.02" height="12.98" fill="#e2eef9"/>
<rect x="575.82" y="330.02" width="13.02" height="12.98" fill="#e2eef9"/>
<rect x="588.73" y="330.02" width="13.02" height="12.98" fill="#e2eef9"/>
<rect x="601.65" y="330.02" width="13.02" height="12.98" fill="#0a71be"/>
<rect x="614.57" y="330.02" width="13.02" height="12.98" fill="#0a71be"/>
<rect x="627.48" y="330.02" width="13.02" height="12.98" fill="#0a71be"/>
</g>
<path d="M562.90 265.60V342.90M562.90 265.60H640.40M575.82 265.60V342.90M562.90 278.48H640.40M588.73 265.60V342.90M562.90 291.37H640.40M601.65 265.60V342.90M562.90 304.25H640.40M614.57 265.60V342.90M562.90 317.13H640.40M627.48 265.60V342.90M562.90 330.02H640.40M640.40 265.60V342.90M562.90 342.90H640.40" stroke="#3a4a5c" stroke-opacity=".6" stroke-width=".55" fill="none"/>
<g clip-path="url(#clipL)">
<path d="M34.4 172.2H300.3" stroke="#8a8a8a" stroke-width="0.9" stroke-dasharray="2.6 2.4" fill="none"/>
<path d="M173.8 105.7V238.2" stroke="#8a8a8a" stroke-width="0.9" stroke-dasharray="2.6 2.4" fill="none"/>
<path d="M40.7 233.4L123.5 111.1L189.6 117.6L239.1 151.5Q258.2 170.7 272.3 194.5Q282.2 212.8 288.8 233.4 Z" fill="#d88d94" fill-opacity=".8" stroke="#9a6a70" stroke-width=".4"/>
<clipPath id="redL"><path d="M40.7 233.4L123.5 111.1L189.6 117.6L239.1 151.5Q258.2 170.7 272.3 194.5Q282.2 212.8 288.8 233.4 Z"/></clipPath>
<g clip-path="url(#redL)"><path d="M34.4 172.2H300.3M173.8 105.7V238.2" stroke="#b06a74" stroke-width="0.9" stroke-dasharray="2.6 2.4" fill="none"/></g>
<path d="M40.7 233.4L82.2 172.2L173.8 172.2L173.8 233.4Z" fill="#687bb2"/>
<path d="M123.5 111.1L173.8 156.3Q181.7 194.2 189.6 233.4" fill="none" stroke="#7a5c62" stroke-width=".45"/>
<path d="M189.6 117.6L222.8 172.2Q232.7 204.0 239.1 233.4" fill="none" stroke="#7a5c62" stroke-width=".45"/>
<circle cx="40.7" cy="233.4" r="1.7" fill="#111"/>
<circle cx="123.5" cy="111.1" r="1.7" fill="#111"/>
<circle cx="189.6" cy="117.6" r="1.7" fill="#111"/>
<circle cx="239.1" cy="151.5" r="1.7" fill="#111"/>
<circle cx="272.3" cy="194.5" r="1.7" fill="#111"/>
<circle cx="288.8" cy="233.4" r="1.7" fill="#111"/>
<circle cx="173.8" cy="156.3" r="1.7" fill="#5a2025"/>
<circle cx="222.8" cy="172.2" r="1.7" fill="#5a2025"/>
<circle cx="256.0" cy="194.7" r="1.7" fill="#5a2025"/>
<circle cx="189.6" cy="233.4" r="1.7" fill="#5a2025"/>
<circle cx="239.1" cy="233.4" r="1.7" fill="#5a2025"/>
</g>
<rect x="34.4" y="105.7" width="265.9" height="132.5" fill="none" stroke="#646464" stroke-width="1.4"/>
<g clip-path="url(#clipR)">
<path d="M377.4 172.3H642.6" stroke="#a8a8a8" stroke-width="0.7" stroke-dasharray="2.6 2.4" fill="none"/>
<path d="M561.1 105.7V238.2" stroke="#a8a8a8" stroke-width="0.7" stroke-dasharray="2.6 2.4" fill="none"/>
<path d="M385.2 233.6L494.7 111.3L582.2 117.8L647.5 151.7Q672.8 170.9 691.5 194.7Q704.5 213.0 713.3 233.6 Z" fill="#d88d94" fill-opacity=".8" stroke="#9a6a70" stroke-width=".4"/>
<clipPath id="redR"><path d="M385.2 233.6L494.7 111.3L582.2 117.8L647.5 151.7Q672.8 170.9 691.5 194.7Q704.5 213.0 713.3 233.6 Z"/></clipPath>
<g clip-path="url(#redR)"><path d="M377.4 172.3H642.6M561.1 105.7V238.2" stroke="#c08890" stroke-width="0.7" stroke-dasharray="2.6 2.4" fill="none"/></g>
<path d="M385.2 233.6L440.0 172.3L561.1 172.3L561.1 233.6Z" fill="#687bb2"/>
<path d="M494.7 111.3L561.1 156.5Q571.6 194.4 582.2 233.6" fill="none" stroke="#7a5c62" stroke-width=".45"/>
<path d="M582.2 117.8L626.0 172.3Q639.1 204.2 647.5 233.6" fill="none" stroke="#7a5c62" stroke-width=".45"/>
<circle cx="385.2" cy="233.6" r="1.7" fill="#111"/>
<circle cx="494.7" cy="111.3" r="1.7" fill="#111"/>
<circle cx="582.2" cy="117.8" r="1.7" fill="#111"/>
<circle cx="647.5" cy="151.7" r="1.7" fill="#111"/>
<circle cx="691.5" cy="194.7" r="1.7" fill="#111"/>
<circle cx="713.3" cy="233.6" r="1.7" fill="#111"/>
<circle cx="561.1" cy="156.5" r="1.7" fill="#5a2025"/>
<circle cx="626.0" cy="172.3" r="1.7" fill="#5a2025"/>
<circle cx="669.9" cy="194.9" r="1.7" fill="#5a2025"/>
<circle cx="582.2" cy="233.6" r="1.7" fill="#5a2025"/>
<circle cx="647.5" cy="233.6" r="1.7" fill="#5a2025"/>
</g>
<rect x="377.4" y="105.7" width="265.2" height="132.5" fill="none" stroke="#646464" stroke-width="1.4"/>
<path d="M40.7 238.2v-2M100.7 238.2v-2M160.7 238.2v-2M220.7 238.2v-2M280.7 238.2v-2M34.4 233.4h2M34.4 184.4h2M34.4 135.4h2" stroke="#666" stroke-width=".7" fill="none"/>
<path d="M385.2 238.2v-2M444.7 238.2v-2M504.2 238.2v-2M563.7 238.2v-2M623.2 238.2v-2M377.4 233.6h2M377.4 184.6h2M377.4 135.6h2" stroke="#666" stroke-width=".7" fill="none"/>
<path d="M111.20 155.40L111.20 158.80M112.67 156.25L109.73 157.95M112.67 157.95L109.73 156.25" stroke="#2f5d3a" stroke-width="0.8" fill="none"/>
<text x="111.7" y="166.6" font-family='"Liberation Serif","DejaVu Serif",serif' font-size="8.5" fill="#2f5d3a" text-anchor="middle" fill-opacity=".85">9</text>
<path d="M125.00 171.20L125.00 174.60M126.47 172.05L123.53 173.75M126.47 173.75L123.53 172.05" stroke="#2f5d3a" stroke-width="0.8" fill="none"/>
<text x="125.5" y="182.4" font-family='"Liberation Serif","DejaVu Serif",serif' font-size="8.5" fill="#2f5d3a" text-anchor="middle" fill-opacity=".85">3</text>
<path d="M103.20 178.20L103.20 181.60M104.67 179.05L101.73 180.75M104.67 180.75L101.73 179.05" stroke="#2f5d3a" stroke-width="0.8" fill="none"/>
<text x="103.7" y="189.4" font-family='"Liberation Serif","DejaVu Serif",serif' font-size="8.5" fill="#2f5d3a" text-anchor="middle" fill-opacity=".85">6</text>
<path d="M109.00 181.20L109.00 184.60M110.47 182.05L107.53 183.75M110.47 183.75L107.53 182.05" stroke="#2f5d3a" stroke-width="0.8" fill="none"/>
<text x="109.5" y="192.4" font-family='"Liberation Serif","DejaVu Serif",serif' font-size="8.5" fill="#2f5d3a" text-anchor="middle" fill-opacity=".85">11</text>
<path d="M120.30 177.50L120.30 180.90M121.77 178.35L118.83 180.05M121.77 180.05L118.83 178.35" stroke="#2f5d3a" stroke-width="0.8" fill="none"/>
<text x="120.8" y="188.7" font-family='"Liberation Serif","DejaVu Serif",serif' font-size="8.5" fill="#2f5d3a" text-anchor="middle" fill-opacity=".85">16</text>
<path d="M144.40 182.50L144.40 185.90M145.87 183.35L142.93 185.05M145.87 185.05L142.93 183.35" stroke="#2f5d3a" stroke-width="0.8" fill="none"/>
<text x="144.9" y="193.7" font-family='"Liberation Serif","DejaVu Serif",serif' font-size="8.5" fill="#2f5d3a" text-anchor="middle" fill-opacity=".85">15</text>
<path d="M102.40 189.30L102.40 192.70M103.87 190.15L100.93 191.85M103.87 191.85L100.93 190.15" stroke="#2f5d3a" stroke-width="0.8" fill="none"/>
<text x="102.9" y="200.5" font-family='"Liberation Serif","DejaVu Serif",serif' font-size="8.5" fill="#2f5d3a" text-anchor="middle" fill-opacity=".85">7</text>
<path d="M94.20 193.30L94.20 196.70M95.67 194.15L92.73 195.85M95.67 195.85L92.73 194.15" stroke="#2f5d3a" stroke-width="0.8" fill="none"/>
<text x="94.7" y="204.5" font-family='"Liberation Serif","DejaVu Serif",serif' font-size="8.5" fill="#2f5d3a" text-anchor="middle" fill-opacity=".85">13</text>
<path d="M121.80 193.30L121.80 196.70M123.27 194.15L120.33 195.85M123.27 195.85L120.33 194.15" stroke="#2f5d3a" stroke-width="0.8" fill="none"/>
<text x="122.3" y="204.5" font-family='"Liberation Serif","DejaVu Serif",serif' font-size="8.5" fill="#2f5d3a" text-anchor="middle" fill-opacity=".85">4</text>
<path d="M84.40 197.00L84.40 200.40M85.87 197.85L82.93 199.55M85.87 199.55L82.93 197.85" stroke="#2f5d3a" stroke-width="0.8" fill="none"/>
<text x="84.9" y="208.2" font-family='"Liberation Serif","DejaVu Serif",serif' font-size="8.5" fill="#2f5d3a" text-anchor="middle" fill-opacity=".85">10</text>
<path d="M71.80 198.50L71.80 201.90M73.27 199.35L70.33 201.05M73.27 201.05L70.33 199.35" stroke="#2f5d3a" stroke-width="0.8" fill="none"/>
<text x="72.3" y="209.7" font-family='"Liberation Serif","DejaVu Serif",serif' font-size="8.5" fill="#2f5d3a" text-anchor="middle" fill-opacity=".85">8</text>
<path d="M128.30 200.80L128.30 204.20M129.77 201.65L126.83 203.35M129.77 203.35L126.83 201.65" stroke="#2f5d3a" stroke-width="0.8" fill="none"/>
<text x="128.8" y="212.0" font-family='"Liberation Serif","DejaVu Serif",serif' font-size="8.5" fill="#2f5d3a" text-anchor="middle" fill-opacity=".85">2</text>
<path d="M92.10 206.30L92.10 209.70M93.57 207.15L90.63 208.85M93.57 208.85L90.63 207.15" stroke="#2f5d3a" stroke-width="0.8" fill="none"/>
<text x="92.6" y="217.5" font-family='"Liberation Serif","DejaVu Serif",serif' font-size="8.5" fill="#2f5d3a" text-anchor="middle" fill-opacity=".85">5</text>
<path d="M75.10 214.10L75.10 217.50M76.57 214.95L73.63 216.65M76.57 216.65L73.63 214.95" stroke="#2f5d3a" stroke-width="0.8" fill="none"/>
<text x="75.6" y="225.3" font-family='"Liberation Serif","DejaVu Serif",serif' font-size="8.5" fill="#2f5d3a" text-anchor="middle" fill-opacity=".85">12</text>
<path d="M104.90 216.60L104.90 220.00M106.37 217.45L103.43 219.15M106.37 219.15L103.43 217.45" stroke="#2f5d3a" stroke-width="0.8" fill="none"/>
<text x="105.4" y="227.8" font-family='"Liberation Serif","DejaVu Serif",serif' font-size="8.5" fill="#2f5d3a" text-anchor="middle" fill-opacity=".85">14</text>
<path d="M112.20 214.10L112.20 217.50M113.67 214.95L110.73 216.65M113.67 216.65L110.73 214.95" stroke="#2f5d3a" stroke-width="0.8" fill="none"/>
<text x="112.7" y="225.3" font-family='"Liberation Serif","DejaVu Serif",serif' font-size="8.5" fill="#2f5d3a" text-anchor="middle" fill-opacity=".85">1</text>
<path d="M150.1 126.3L152.0 128.2L150.1 130.1L148.2 128.2Z" fill="#000"/>
<text x="150.1" y="125.2" font-family='"Liberation Serif","DejaVu Serif",serif' font-size="8.5" fill="#111" text-anchor="middle" >14</text>
<path d="M168.8 141.3L170.7 143.2L168.8 145.1L166.9 143.2Z" fill="#000"/>
<text x="168.8" y="140.2" font-family='"Liberation Serif","DejaVu Serif",serif' font-size="8.5" fill="#111" text-anchor="middle" >2</text>
<path d="M160.7 147.6L162.6 149.5L160.7 151.4L158.8 149.5Z" fill="#000"/>
<text x="160.7" y="146.5" font-family='"Liberation Serif","DejaVu Serif",serif' font-size="8.5" fill="#111" text-anchor="middle" >11</text>
<path d="M146.6 154.4L148.5 156.3L146.6 158.2L144.7 156.3Z" fill="#000"/>
<text x="146.6" y="153.3" font-family='"Liberation Serif","DejaVu Serif",serif' font-size="8.5" fill="#111" text-anchor="middle" >12</text>
<path d="M99.7 160.4L101.6 162.3L99.7 164.2L97.8 162.3Z" fill="#000"/>
<text x="99.7" y="159.3" font-family='"Liberation Serif","DejaVu Serif",serif' font-size="8.5" fill="#111" text-anchor="middle" >10</text>
<path d="M120.0 159.7L121.9 161.6L120.0 163.5L118.1 161.6Z" fill="#000"/>
<text x="120.0" y="158.6" font-family='"Liberation Serif","DejaVu Serif",serif' font-size="8.5" fill="#111" text-anchor="middle" >16</text>
<path d="M89.9 183.0L91.8 184.9L89.9 186.8L88.0 184.9Z" fill="#000"/>
<text x="89.9" y="181.9" font-family='"Liberation Serif","DejaVu Serif",serif' font-size="8.5" fill="#111" text-anchor="middle" >4</text>
<path d="M133.3 185.3L135.2 187.2L133.3 189.1L131.4 187.2Z" fill="#000"/>
<text x="133.3" y="184.2" font-family='"Liberation Serif","DejaVu Serif",serif' font-size="8.5" fill="#111" text-anchor="middle" >7</text>
<path d="M189.7 139.8L191.6 141.7L189.7 143.6L187.8 141.7Z" fill="#000"/>
<text x="189.7" y="138.7" font-family='"Liberation Serif","DejaVu Serif",serif' font-size="8.5" fill="#111" text-anchor="middle" >3</text>
<path d="M192.2 154.7L194.1 156.6L192.2 158.5L190.3 156.6Z" fill="#000"/>
<text x="192.2" y="153.6" font-family='"Liberation Serif","DejaVu Serif",serif' font-size="8.5" fill="#111" text-anchor="middle" >15</text>
<path d="M214.3 145.1L216.2 147.0L214.3 148.9L212.4 147.0Z" fill="#000"/>
<text x="214.3" y="144.0" font-family='"Liberation Serif","DejaVu Serif",serif' font-size="8.5" fill="#111" text-anchor="middle" >6</text>
<path d="M219.8 149.9L221.7 151.8L219.8 153.7L217.9 151.8Z" fill="#000"/>
<text x="219.8" y="148.8" font-family='"Liberation Serif","DejaVu Serif",serif' font-size="8.5" fill="#111" text-anchor="middle" >13</text>
<path d="M242.4 163.7L244.3 165.6L242.4 167.5L240.5 165.6Z" fill="#000"/>
<text x="242.4" y="162.6" font-family='"Liberation Serif","DejaVu Serif",serif' font-size="8.5" fill="#111" text-anchor="middle" >5</text>
<path d="M269.3 199.8L271.2 201.7L269.3 203.6L267.4 201.7Z" fill="#000"/>
<text x="269.3" y="198.7" font-family='"Liberation Serif","DejaVu Serif",serif' font-size="8.5" fill="#111" text-anchor="middle" >8</text>
<path d="M274.5 210.4L276.4 212.3L274.5 214.2L272.6 212.3Z" fill="#000"/>
<text x="274.5" y="209.3" font-family='"Liberation Serif","DejaVu Serif",serif' font-size="8.5" fill="#111" text-anchor="middle" >1</text>
<path d="M286.3 227.2L288.2 229.1L286.3 231.0L284.4 229.1Z" fill="#000"/>
<text x="286.3" y="226.1" font-family='"Liberation Serif","DejaVu Serif",serif' font-size="8.5" fill="#111" text-anchor="middle" >9</text>
<path d="M490.4 156.0L492.3 159.6L488.5 159.6Z" fill="#2f5d3a"/>
<text x="490.7" y="165.7" font-family='"Liberation Serif","DejaVu Serif",serif' font-size="8.3" fill="#2f5d3a" text-anchor="middle" fill-opacity=".85">9</text>
<path d="M509.2 170.3L511.1 173.9L507.3 173.9Z" fill="#2f5d3a"/>
<text x="509.5" y="180.0" font-family='"Liberation Serif","DejaVu Serif",serif' font-size="8.3" fill="#2f5d3a" text-anchor="middle" fill-opacity=".85">11</text>
<path d="M460.5 176.5L462.4 180.1L458.6 180.1Z" fill="#2f5d3a"/>
<text x="460.8" y="186.2" font-family='"Liberation Serif","DejaVu Serif",serif' font-size="8.3" fill="#2f5d3a" text-anchor="middle" fill-opacity=".85">7</text>
<path d="M465.8 177.8L467.7 181.4L463.9 181.4Z" fill="#2f5d3a"/>
<text x="466.1" y="187.5" font-family='"Liberation Serif","DejaVu Serif",serif' font-size="8.3" fill="#2f5d3a" text-anchor="middle" fill-opacity=".85">8</text>
<path d="M479.8 180.1L481.7 183.7L477.9 183.7Z" fill="#2f5d3a"/>
<text x="480.1" y="189.8" font-family='"Liberation Serif","DejaVu Serif",serif' font-size="8.3" fill="#2f5d3a" text-anchor="middle" fill-opacity=".85">1</text>
<path d="M471.8 185.8L473.7 189.4L469.9 189.4Z" fill="#2f5d3a"/>
<text x="472.1" y="195.5" font-family='"Liberation Serif","DejaVu Serif",serif' font-size="8.3" fill="#2f5d3a" text-anchor="middle" fill-opacity=".85">14</text>
<path d="M479.8 192.9L481.7 196.5L477.9 196.5Z" fill="#2f5d3a"/>
<text x="480.1" y="202.6" font-family='"Liberation Serif","DejaVu Serif",serif' font-size="8.3" fill="#2f5d3a" text-anchor="middle" fill-opacity=".85">10</text>
<path d="M491.1 194.6L493.0 198.2L489.2 198.2Z" fill="#2f5d3a"/>
<text x="491.4" y="204.3" font-family='"Liberation Serif","DejaVu Serif",serif' font-size="8.3" fill="#2f5d3a" text-anchor="middle" fill-opacity=".85">4</text>
<path d="M460.5 194.6L462.4 198.2L458.6 198.2Z" fill="#2f5d3a"/>
<text x="460.8" y="204.3" font-family='"Liberation Serif","DejaVu Serif",serif' font-size="8.3" fill="#2f5d3a" text-anchor="middle" fill-opacity=".85">16</text>
<path d="M453.7 198.9L455.6 202.5L451.8 202.5Z" fill="#2f5d3a"/>
<text x="454.0" y="208.6" font-family='"Liberation Serif","DejaVu Serif",serif' font-size="8.3" fill="#2f5d3a" text-anchor="middle" fill-opacity=".85">6</text>
<path d="M465.8 200.1L467.7 203.7L463.9 203.7Z" fill="#2f5d3a"/>
<text x="466.1" y="209.8" font-family='"Liberation Serif","DejaVu Serif",serif' font-size="8.3" fill="#2f5d3a" text-anchor="middle" fill-opacity=".85">3</text>
<path d="M502.2 200.4L504.1 204.0L500.3 204.0Z" fill="#2f5d3a"/>
<text x="502.5" y="210.1" font-family='"Liberation Serif","DejaVu Serif",serif' font-size="8.3" fill="#2f5d3a" text-anchor="middle" fill-opacity=".85">13</text>
<path d="M426.6 218.2L428.5 221.8L424.7 221.8Z" fill="#2f5d3a"/>
<text x="426.9" y="227.9" font-family='"Liberation Serif","DejaVu Serif",serif' font-size="8.3" fill="#2f5d3a" text-anchor="middle" fill-opacity=".85">5</text>
<path d="M437.7 217.7L439.6 221.3L435.8 221.3Z" fill="#2f5d3a"/>
<text x="438.0" y="227.4" font-family='"Liberation Serif","DejaVu Serif",serif' font-size="8.3" fill="#2f5d3a" text-anchor="middle" fill-opacity=".85">12</text>
<path d="M463.5 218.2L465.4 221.8L461.6 221.8Z" fill="#2f5d3a"/>
<text x="463.8" y="227.9" font-family='"Liberation Serif","DejaVu Serif",serif' font-size="8.3" fill="#2f5d3a" text-anchor="middle" fill-opacity=".85">15</text>
<path d="M521.3 172.5L523.2 176.1L519.4 176.1Z" fill="#2f5d3a"/>
<text x="521.6" y="182.2" font-family='"Liberation Serif","DejaVu Serif",serif' font-size="8.3" fill="#2f5d3a" text-anchor="middle" fill-opacity=".85">2</text>
<rect x="485.5" y="147.7" width="3.2" height="3.2" fill="#000"/>
<text x="486.8" y="147.5" font-family='"Liberation Serif","DejaVu Serif",serif' font-size="8.3" fill="#111" text-anchor="middle" >5</text>
<rect x="506.4" y="163.7" width="3.2" height="3.2" fill="#000"/>
<text x="507.7" y="163.5" font-family='"Liberation Serif","DejaVu Serif",serif' font-size="8.3" fill="#111" text-anchor="middle" >8</text>
<rect x="485.0" y="175.8" width="3.2" height="3.2" fill="#000"/>
<text x="486.3" y="175.6" font-family='"Liberation Serif","DejaVu Serif",serif' font-size="8.3" fill="#111" text-anchor="middle" >16</text>
<rect x="476.2" y="185.1" width="3.2" height="3.2" fill="#000"/>
<text x="477.5" y="184.9" font-family='"Liberation Serif","DejaVu Serif",serif' font-size="8.3" fill="#111" text-anchor="middle" >12</text>
<rect x="463.2" y="187.3" width="3.2" height="3.2" fill="#000"/>
<text x="464.5" y="187.1" font-family='"Liberation Serif","DejaVu Serif",serif' font-size="8.3" fill="#111" text-anchor="middle" >9</text>
<rect x="446.8" y="197.6" width="3.2" height="3.2" fill="#000"/>
<text x="448.1" y="197.4" font-family='"Liberation Serif","DejaVu Serif",serif' font-size="8.3" fill="#111" text-anchor="middle" >13</text>
<rect x="440.8" y="202.7" width="3.2" height="3.2" fill="#000"/>
<text x="442.1" y="202.5" font-family='"Liberation Serif","DejaVu Serif",serif' font-size="8.3" fill="#111" text-anchor="middle" >4</text>
<rect x="448.9" y="208.2" width="3.2" height="3.2" fill="#000"/>
<text x="450.2" y="208.0" font-family='"Liberation Serif","DejaVu Serif",serif' font-size="8.3" fill="#111" text-anchor="middle" >3</text>
<rect x="522.9" y="135.9" width="3.2" height="3.2" fill="#000"/>
<text x="524.2" y="135.7" font-family='"Liberation Serif","DejaVu Serif",serif' font-size="8.3" fill="#111" text-anchor="middle" >14</text>
<rect x="553.8" y="144.2" width="3.2" height="3.2" fill="#000"/>
<text x="555.1" y="144.0" font-family='"Liberation Serif","DejaVu Serif",serif' font-size="8.3" fill="#111" text-anchor="middle" >2</text>
<rect x="515.7" y="153.2" width="3.2" height="3.2" fill="#000"/>
<text x="517.0" y="153.0" font-family='"Liberation Serif","DejaVu Serif",serif' font-size="8.3" fill="#111" text-anchor="middle" >1</text>
<rect x="530.2" y="163.5" width="3.2" height="3.2" fill="#000"/>
<text x="531.5" y="163.3" font-family='"Liberation Serif","DejaVu Serif",serif' font-size="8.3" fill="#111" text-anchor="middle" >7</text>
<rect x="515.9" y="173.0" width="3.2" height="3.2" fill="#000"/>
<text x="517.2" y="172.8" font-family='"Liberation Serif","DejaVu Serif",serif' font-size="8.3" fill="#111" text-anchor="middle" >15</text>
<rect x="575.2" y="175.8" width="3.2" height="3.2" fill="#000"/>
<text x="576.5" y="175.6" font-family='"Liberation Serif","DejaVu Serif",serif' font-size="8.3" fill="#111" text-anchor="middle" >6</text>
<rect x="563.6" y="198.6" width="3.2" height="3.2" fill="#000"/>
<text x="564.9" y="198.4" font-family='"Liberation Serif","DejaVu Serif",serif' font-size="8.3" fill="#111" text-anchor="middle" >11</text>
<rect x="608.8" y="166.8" width="3.2" height="3.2" fill="#000"/>
<text x="610.1" y="166.6" font-family='"Liberation Serif","DejaVu Serif",serif' font-size="8.3" fill="#111" text-anchor="middle" >10</text>
<text x="40.7" y="249.2" font-family='"Liberation Sans","DejaVu Sans",sans-serif' font-size="10.2" fill="#686868" text-anchor="middle" >0</text>
<text x="100.7" y="249.2" font-family='"Liberation Sans","DejaVu Sans",sans-serif' font-size="10.2" fill="#686868" text-anchor="middle" >0.2</text>
<text x="160.7" y="249.2" font-family='"Liberation Sans","DejaVu Sans",sans-serif' font-size="10.2" fill="#686868" text-anchor="middle" >0.4</text>
<text x="220.7" y="249.2" font-family='"Liberation Sans","DejaVu Sans",sans-serif' font-size="10.2" fill="#686868" text-anchor="middle" >0.6</text>
<text x="280.7" y="249.2" font-family='"Liberation Sans","DejaVu Sans",sans-serif' font-size="10.2" fill="#686868" text-anchor="middle" >0.8</text>
<text x="33.3" y="237.1" font-family='"Liberation Sans","DejaVu Sans",sans-serif' font-size="10.2" fill="#686868" text-anchor="end" >0</text>
<text x="33.3" y="188.1" font-family='"Liberation Sans","DejaVu Sans",sans-serif' font-size="10.2" fill="#686868" text-anchor="end" >0.1</text>
<text x="33.3" y="139.1" font-family='"Liberation Sans","DejaVu Sans",sans-serif' font-size="10.2" fill="#686868" text-anchor="end" >0.2</text>
<text x="168.3" y="260.0" font-family='"Liberation Sans","DejaVu Sans",sans-serif' font-size="9.3" fill="#6e6e6e" text-anchor="middle" >N<tspan font-family='"Liberation Serif","DejaVu Serif",serif' font-style="italic">&#956;</tspan><tspan font-size="7.9" font-weight="bold" dx="-4.55" dy="-2.79">~</tspan><tspan font-family='"Liberation Serif","DejaVu Serif",serif' font-size="9.3" dy="2.79" dx="0.28">&#8203;</tspan></text>
<text x="18.5" y="174.6" font-family='"Liberation Sans","DejaVu Sans",sans-serif' font-size="9.0" fill="#6e6e6e" text-anchor="middle" transform="rotate(-90 18.5 174.6)">N<tspan font-family='"Liberation Serif","DejaVu Serif",serif' font-style="italic">&#963;</tspan><tspan font-size="7.6" font-weight="bold" dx="-4.41" dy="-2.70">~</tspan><tspan font-family='"Liberation Serif","DejaVu Serif",serif' font-size="9.0" dy="2.70" dx="0.27">&#8203;</tspan></text>
<text x="164.8" y="102.2" font-family='"Liberation Sans","DejaVu Sans",sans-serif' font-size="8.0" fill="#8a8a8a" text-anchor="start" >N<tspan font-family='"Liberation Serif","DejaVu Serif",serif' font-style="italic">&#956;</tspan><tspan font-size="6.8" font-weight="bold" dx="-3.92" dy="-2.40">~</tspan><tspan font-family='"Liberation Serif","DejaVu Serif",serif' font-size="5.5" dy="3.84" dx="0.54">th</tspan></text>
<text x="302.5" y="174.8" font-family='"Liberation Sans","DejaVu Sans",sans-serif' font-size="8.0" fill="#8a8a8a" text-anchor="start" >N<tspan font-family='"Liberation Serif","DejaVu Serif",serif' font-style="italic">&#963;</tspan><tspan font-size="6.8" font-weight="bold" dx="-3.92" dy="-2.40">~</tspan><tspan font-family='"Liberation Serif","DejaVu Serif",serif' font-size="5.5" dy="3.84" dx="0.54">th</tspan></text>
<text x="385.2" y="249.6" font-family='"Liberation Serif","DejaVu Serif",serif' font-size="10.3" fill="#808080" text-anchor="middle" >0</text>
<text x="444.7" y="249.6" font-family='"Liberation Serif","DejaVu Serif",serif' font-size="10.3" fill="#808080" text-anchor="middle" >0.15</text>
<text x="504.2" y="249.6" font-family='"Liberation Serif","DejaVu Serif",serif' font-size="10.3" fill="#808080" text-anchor="middle" >0.3</text>
<text x="563.7" y="249.6" font-family='"Liberation Serif","DejaVu Serif",serif' font-size="10.3" fill="#808080" text-anchor="middle" >0.45</text>
<text x="623.2" y="249.6" font-family='"Liberation Serif","DejaVu Serif",serif' font-size="10.3" fill="#808080" text-anchor="middle" >0.6</text>
<text x="376.0" y="236.9" font-family='"Liberation Serif","DejaVu Serif",serif' font-size="10.3" fill="#808080" text-anchor="end" >0</text>
<text x="376.0" y="187.9" font-family='"Liberation Serif","DejaVu Serif",serif' font-size="10.3" fill="#808080" text-anchor="end" >0.1</text>
<text x="376.0" y="138.9" font-family='"Liberation Serif","DejaVu Serif",serif' font-size="10.3" fill="#808080" text-anchor="end" >0.2</text>
<text x="515.5" y="258.5" font-family='"Liberation Serif","DejaVu Serif",serif' font-size="11.0" fill="#808080" text-anchor="middle" >N<tspan font-family='"Liberation Serif","DejaVu Serif",serif' font-style="italic">&#956;</tspan><tspan font-size="7.5" font-weight="normal" dx="-4.88" dy="-3.74">~</tspan><tspan font-family='"Liberation Serif","DejaVu Serif",serif' font-size="11.0" dy="3.74" dx="0.84">&#8203;</tspan></text>
<text x="362.0" y="174.8" font-family='"Liberation Serif","DejaVu Serif",serif' font-size="11.0" fill="#808080" text-anchor="middle" transform="rotate(-90 362.0 174.8)">N<tspan font-family='"Liberation Serif","DejaVu Serif",serif' font-style="italic">&#963;</tspan><tspan font-size="7.5" font-weight="normal" dx="-4.88" dy="-3.74">~</tspan><tspan font-family='"Liberation Serif","DejaVu Serif",serif' font-size="11.0" dy="3.74" dx="0.84">&#8203;</tspan></text>
<text x="552.0" y="103.2" font-family='"Liberation Serif","DejaVu Serif",serif' font-size="8.8" fill="#8a8a8a" text-anchor="start" >N<tspan font-family='"Liberation Serif","DejaVu Serif",serif' font-style="italic">&#956;</tspan><tspan font-size="7.5" font-weight="bold" dx="-4.31" dy="-2.64">~</tspan><tspan font-family='"Liberation Serif","DejaVu Serif",serif' font-size="6.2" dy="4.22" dx="0.57">th</tspan></text>
<text x="644.4" y="175.2" font-family='"Liberation Serif","DejaVu Serif",serif' font-size="8.8" fill="#8a8a8a" text-anchor="start" >N<tspan font-family='"Liberation Serif","DejaVu Serif",serif' font-style="italic">&#963;</tspan><tspan font-size="7.5" font-weight="bold" dx="-4.31" dy="-2.64">~</tspan><tspan font-family='"Liberation Serif","DejaVu Serif",serif' font-size="6.2" dy="4.22" dx="0.57">th</tspan></text>
<path d="M82.7 93.0L88.5 170.0" stroke="#333336" stroke-width="1.05" stroke-dasharray="8.6 3.9" fill="none"/>
<polygon points="85.3,168.3 91.5,168.3 88.7,174.8" fill="#38363a" fill-opacity=".95"/>
<path d="M170.3 79.5L116.5 148.5" stroke="#333336" stroke-width="1.05" stroke-dasharray="8.6 3.9" fill="none"/>
<polygon points="113.5,146.8 119.0,150.8 111.9,154.4" fill="#38363a" fill-opacity=".95"/>
<path d="M259.2 79.5L268.1 186.0" stroke="#333336" stroke-width="1.05" stroke-dasharray="8.6 3.9" fill="none"/>
<polygon points="264.4,184.6 271.8,184.6 268.2,191.9" fill="#38363a" fill-opacity=".95"/>
<path d="M83.3 265.5L50.4 241.9" stroke="#333336" stroke-width="1.05" stroke-dasharray="8.6 3.9" fill="none"/>
<polygon points="44.6,236.4 52.2,238.2 47.8,243.1" fill="#38363a" fill-opacity=".95"/>
<path d="M163.7 265.5L116.1 234.3" stroke="#333336" stroke-width="1.05" stroke-dasharray="8.6 3.9" fill="none"/>
<polygon points="106.9,229.5 115.1,229.5 111.0,234.9" fill="#38363a" fill-opacity=".95"/>
<path d="M259.0 265.6L281.6 241.5" stroke="#333336" stroke-width="1.05" stroke-dasharray="8.6 3.9" fill="none"/>
<polygon points="286.7,236.4 278.7,238.6 284.5,243.0" fill="#38363a" fill-opacity=".95"/>
<path d="M423.5 79.5L447.3 186.0" stroke="#333336" stroke-width="1.05" stroke-dasharray="8.6 3.9" fill="none"/>
<polygon points="443.8,185.4 450.8,185.4 447.7,192.4" fill="#38363a" fill-opacity=".95"/>
<path d="M511.1 78.9L501.5 98.6" stroke="#333336" stroke-width="1.05" stroke-dasharray="8.6 3.9" fill="none"/>
<polygon points="496.6,100.0 496.6,107.8 503.5,103.3" fill="#38363a" fill-opacity=".95"/>
<path d="M598.8 79.5L610.0 153.0" stroke="#333336" stroke-width="1.05" stroke-dasharray="8.6 3.9" fill="none"/>
<polygon points="607.7,152.8 614.7,152.8 611.2,159.8" fill="#38363a" fill-opacity=".95"/>
<path d="M421.4 266.0L424.5 238.3" stroke="#333336" stroke-width="1.05" stroke-dasharray="8.6 3.9" fill="none"/>
<polygon points="421.9,237.4 428.9,237.4 425.4,230.4" fill="#38363a" fill-opacity=".95"/>
<path d="M499.5 266.0L507.7 190.1" stroke="#333336" stroke-width="1.05" stroke-dasharray="8.6 3.9" fill="none"/>
<polygon points="504.8,188.9 512.1,188.9 508.6,181.9" fill="#38363a" fill-opacity=".95"/>
<path d="M602.0 265.8L591.5 245.6" stroke="#333336" stroke-width="1.05" stroke-dasharray="8.6 3.9" fill="none"/>
<polygon points="585.4,237.7 585.4,244.8 591.9,241.2" fill="#38363a" fill-opacity=".95"/>
<rect x="245.2" y="108.2" width="51.9" height="41.9" fill="#fff" stroke="#33427a" stroke-width="1.05"/>
<path d="M258.4 116.6L262.7 120.9L258.4 125.2L254.1 120.9Z" fill="#000"/>
<text font-family='"Liberation Sans","DejaVu Sans",sans-serif' font-style="italic" fill="#111"><tspan x="269.6" y="126.0" font-size="10.8">e</tspan><tspan x="277.0" y="122.4" font-size="7.2" font-weight="bold">i</tspan><tspan x="280.9" font-size="7.4" font-weight="bold">A</tspan><tspan x="288.2" y="124.6" font-size="7.2" font-weight="bold">j</tspan></text>
<path d="M258.80 132.40L258.80 141.00M262.52 134.55L255.08 138.85M262.52 138.85L255.08 134.55" stroke="#2f5d3a" stroke-width="1.4" fill="none"/>
<text font-family='"Liberation Sans","DejaVu Sans",sans-serif' font-style="italic" fill="#111"><tspan x="269.6" y="141.3" font-size="10.8">e</tspan><tspan x="277.0" y="137.7" font-size="7.2" font-weight="bold">i</tspan><tspan x="280.9" font-size="7.4" font-weight="bold">D</tspan><tspan x="288.2" y="139.9" font-size="7.2" font-weight="bold">j</tspan></text>
<rect x="379.6" y="107.6" width="51.6" height="42.3" fill="#fff" stroke="#33427a" stroke-width="1.05"/>
<rect x="389.3" y="117.5" width="8.4" height="8.4" fill="#000"/>
<text font-family='"Liberation Sans","DejaVu Sans",sans-serif' font-style="italic" fill="#111"><tspan x="404.3" y="126.6" font-size="10.8">e</tspan><tspan x="411.7" y="123.0" font-size="7.2" font-weight="bold">i</tspan><tspan x="415.6" font-size="7.4" font-weight="bold">B</tspan><tspan x="422.9" y="125.2" font-size="7.2" font-weight="bold">j</tspan></text>
<path d="M393.7 131.8L398.8 141.5L388.6 141.5Z" fill="#2f5d3a"/>
<text font-family='"Liberation Sans","DejaVu Sans",sans-serif' font-style="italic" fill="#111"><tspan x="404.3" y="142.2" font-size="10.8">e</tspan><tspan x="411.7" y="138.6" font-size="7.2" font-weight="bold">i</tspan><tspan x="415.6" font-size="7.4" font-weight="bold">C</tspan><tspan x="422.9" y="140.8" font-size="7.2" font-weight="bold">j</tspan></text>
<rect x="325.1" y="95" width="7.8" height="168.9" fill="url(#gb)" stroke="#555" stroke-width=".5"/>
<text x="336.3" y="99.2" font-family='"Liberation Sans","DejaVu Sans",sans-serif' font-size="11.6" fill="#222" text-anchor="start" >1</text>
<text x="336.3" y="134.8" font-family='"Liberation Sans","DejaVu Sans",sans-serif' font-size="11.6" fill="#222" text-anchor="start" >0.8</text>
<text x="336.3" y="168.1" font-family='"Liberation Sans","DejaVu Sans",sans-serif' font-size="11.6" fill="#222" text-anchor="start" >0.6</text>
<text x="336.3" y="202.1" font-family='"Liberation Sans","DejaVu Sans",sans-serif' font-size="11.6" fill="#222" text-anchor="start" >0.4</text>
<text x="336.3" y="235.9" font-family='"Liberation Sans","DejaVu Sans",sans-serif' font-size="11.6" fill="#222" text-anchor="start" >0.2</text>
<text x="336.3" y="269.2" font-family='"Liberation Sans","DejaVu Sans",sans-serif' font-size="11.6" fill="#222" text-anchor="start" >0</text>
<text x="9.3" y="26.6" font-family='"Liberation Sans","DejaVu Sans",sans-serif' font-size="15.5" fill="#000" text-anchor="start" font-weight="bold" textLength="16.2" lengthAdjust="spacingAndGlyphs">(a)</text>
<text x="41.7" y="12.2" font-family='"Liberation Serif","DejaVu Serif",serif' font-size="11.8" fill="#333" text-anchor="end" >1</text>
<text x="42.6" y="77.0" font-family='"Liberation Serif","DejaVu Serif",serif' font-size="11.8" fill="#333" text-anchor="end" >6</text>
<text x="38.3" y="39.0" font-family='"Liberation Serif","DejaVu Serif",serif' font-size="11.2" fill="#333" text-anchor="middle" transform="rotate(-90 38.3 39)">Rows</text>
<text x="51.5" y="88.5" font-family='"Liberation Serif","DejaVu Serif",serif' font-size="11.5" fill="#333" text-anchor="middle" >1</text>
<text x="114.5" y="88.0" font-family='"Liberation Serif","DejaVu Serif",serif' font-size="11.5" fill="#333" text-anchor="middle" >6</text>
<text x="82.5" y="91.7" font-family='"Liberation Serif","DejaVu Serif",serif' font-size="11.4" fill="#333" text-anchor="middle" >Columns</text>
<g shape-rendering="crispEdges" class="h">
<g transform="translate(36.80 393.50)">
<rect x="0" fill="#e1ecec"/><rect x="5.536" fill="#deeaea"/><rect x="11.07" fill="#e8f0f0"/><rect x="16.61" fill="#dde9e9"/><rect x="22.14" fill="#e5efef"/><rect x="27.68" fill="#e2eded"/><rect x="33.22" fill="#dde9e9"/><rect x="38.75" fill="#e5eeee"/><rect x="44.29" fill="#dce9e9"/><rect x="49.82" fill="#e4eded"/><rect x="55.36" fill="#dde9e9"/><rect x="60.9" fill="#dde9e9"/><rect x="66.43" fill="#e3eded"/><rect x="71.97" fill="#ebf2f2"/><rect x="77.5" fill="#deeaea"/><rect x="83.04" fill="#e0ebeb"/><rect x="88.58" fill="#e7f0f0"/><rect x="94.11" fill="#edf3f3"/><rect x="99.65" fill="#e6efef"/><rect x="105.2" fill="#e3eded"/><rect x="110.7" fill="#eef4f4"/><rect x="116.3" fill="#dce9e9"/><rect x="121.8" fill="#ebf2f2"/><rect x="127.3" fill="#e1ecec"/><rect x="132.9" fill="#deeaea"/><rect x="138.4" fill="#deeaea"/><rect x="143.9" fill="#e1ecec"/><rect x="149.5" fill="#ebf2f2"/><rect x="155" fill="#dfeaea"/><rect x="160.5" fill="#e6efef"/><rect x="166.1" fill="#e7f0f0"/><rect x="171.6" fill="#e2eded"/><rect x="177.2" fill="#e6efef"/><rect x="182.7" fill="#dde9e9"/><rect x="188.2" fill="#dde9e9"/><rect x="193.8" fill="#dfebeb"/><rect x="199.3" fill="#e8f0f0"/><rect x="204.8" fill="#e3eded"/><rect x="210.4" fill="#e1ecec"/><rect x="215.9" fill="#e6efef"/><rect x="221.4" fill="#e4eeee"/><rect x="227" fill="#e1ecec"/><rect x="232.5" fill="#eaf2f2"/><rect x="238" fill="#e9f1f1"/><rect x="243.6" fill="#e0ebeb"/><rect x="249.1" fill="#e6efef"/><rect x="254.7" fill="#e5eeee"/><rect x="260.2" fill="#ecf3f3"/><rect x="265.7" fill="#e9f1f1"/><rect x="271.3" fill="#e1ecec"/>
</g>
<g transform="translate(36.80 400.78)">
<rect x="0" fill="#8395a3"/><rect x="5.536" fill="#aecbcb"/><rect x="11.07" fill="#b6d0d0"/><rect x="16.61" fill="#c0d6d6"/><rect x="22.14" fill="#afcccc"/><rect x="27.68" fill="#b8d2d2"/><rect x="33.22" fill="#abcaca"/><rect x="38.75" fill="#bdd5d5"/><rect x="44.29" fill="#c0d7d7"/><rect x="49.82" fill="#bad3d3"/><rect x="55.36" fill="#c3d9d9"/><rect x="60.9" fill="#b3cfcf"/><rect x="66.43" fill="#bed5d5"/><rect x="71.97" fill="#bbd4d4"/><rect x="77.5" fill="#bbd3d3"/><rect x="83.04" fill="#b7d1d1"/><rect x="88.58" fill="#1c1c26"/><rect x="94.11" fill="#c5dada"/><rect x="99.65" fill="#b8d1d1"/><rect x="105.2" fill="#bdd5d5"/><rect x="110.7" fill="#accaca"/><rect x="116.3" fill="#bed5d5"/><rect x="121.8" fill="#bdd5d5"/><rect x="127.3" fill="#c6dbdb"/><rect x="132.9" fill="#c1d8d8"/><rect x="138.4" fill="#b2cece"/><rect x="143.9" fill="#b5d0d0"/><rect x="149.5" fill="#3f3f58"/><rect x="155" fill="#abc9c9"/><rect x="160.5" fill="#b7d1d1"/><rect x="166.1" fill="#afcccc"/><rect x="171.6" fill="#aecbcb"/><rect x="177.2" fill="#accaca"/><rect x="182.7" fill="#c0d7d7"/><rect x="188.2" fill="#aecbcb"/><rect x="193.8" fill="#b1cdcd"/><rect x="199.3" fill="#b5d0d0"/><rect x="204.8" fill="#c3d9d9"/><rect x="210.4" fill="#adcaca"/><rect x="215.9" fill="#b7d1d1"/><rect x="221.4" fill="#1b1b25"/><rect x="227" fill="#c3d9d9"/><rect x="232.5" fill="#c1d8d8"/><rect x="238" fill="#3f3f57"/><rect x="243.6" fill="#b2cece"/><rect x="249.1" fill="#b6d0d0"/><rect x="254.7" fill="#181821"/><rect x="260.2" fill="#c3d9d9"/><rect x="265.7" fill="#c5dada"/><rect x="271.3" fill="#afcccc"/>
</g>
<g transform="translate(36.80 408.06)">
<rect x="0" fill="#cddfdf"/><rect x="5.536" fill="#cee0e0"/><rect x="11.07" fill="#cee0e0"/><rect x="16.61" fill="#d4e4e4"/><rect x="22.14" fill="#d7e5e5"/><rect x="27.68" fill="#cfe0e0"/><rect x="33.22" fill="#c9dcdc"/><rect x="38.75" fill="#d3e3e3"/><rect x="44.29" fill="#d1e2e2"/><rect x="49.82" fill="#d6e5e5"/><rect x="55.36" fill="#dfeaea"/><rect x="60.9" fill="#d9e7e7"/><rect x="66.43" fill="#d5e4e4"/><rect x="71.97" fill="#d7e5e5"/><rect x="77.5" fill="#d9e6e6"/><rect x="83.04" fill="#cadddd"/><rect x="88.58" fill="#deeaea"/><rect x="94.11" fill="#dbe8e8"/><rect x="99.65" fill="#dde9e9"/><rect x="105.2" fill="#dbe8e8"/><rect x="110.7" fill="#d2e2e2"/><rect x="116.3" fill="#d2e2e2"/><rect x="121.8" fill="#cbdede"/><rect x="127.3" fill="#d8e6e6"/><rect x="132.9" fill="#cadddd"/><rect x="138.4" fill="#cadddd"/><rect x="143.9" fill="#cedfdf"/><rect x="149.5" fill="#cddfdf"/><rect x="155" fill="#d1e1e1"/><rect x="160.5" fill="#cadddd"/><rect x="166.1" fill="#c9dcdc"/><rect x="171.6" fill="#ccdfdf"/><rect x="177.2" fill="#cbdede"/><rect x="182.7" fill="#d1e2e2"/><rect x="188.2" fill="#c9dddd"/><rect x="193.8" fill="#dde9e9"/><rect x="199.3" fill="#d7e5e5"/><rect x="204.8" fill="#ccdede"/><rect x="210.4" fill="#cfe0e0"/><rect x="215.9" fill="#d1e1e1"/><rect x="221.4" fill="#d1e2e2"/><rect x="227" fill="#ccdede"/><rect x="232.5" fill="#dde9e9"/><rect x="238" fill="#e0ebeb"/><rect x="243.6" fill="#d4e3e3"/><rect x="249.1" fill="#d4e3e3"/><rect x="254.7" fill="#cbdede"/><rect x="260.2" fill="#cbdede"/><rect x="265.7" fill="#d1e1e1"/><rect x="271.3" fill="#cfe0e0"/>
</g>
<g transform="translate(36.80 415.34)">
<rect x="0" fill="#242432"/><rect x="5.536" fill="#0a0a0e"/><rect x="11.07" fill="#050507"/><rect x="16.61" fill="#292938"/><rect x="22.14" fill="#181822"/><rect x="27.68" fill="#0a0a0d"/><rect x="33.22" fill="#191923"/><rect x="38.75" fill="#050507"/><rect x="44.29" fill="#181822"/><rect x="49.82" fill="#2a2a3a"/><rect x="55.36" fill="#252534"/><rect x="60.9" fill="#1f1f2b"/><rect x="66.43" fill="#0e0e14"/><rect x="71.97" fill="#121219"/><rect x="77.5" fill="#0a0a0f"/><rect x="83.04" fill="#22222f"/><rect x="88.58" fill="#191922"/><rect x="94.11" fill="#22222f"/><rect x="99.65" fill="#111117"/><rect x="105.2" fill="#0d0d12"/><rect x="110.7" fill="#232331"/><rect x="116.3" fill="#2a2a3a"/><rect x="121.8" fill="#252533"/><rect x="127.3" fill="#232331"/><rect x="132.9" fill="#242431"/><rect x="138.4" fill="#21212d"/><rect x="143.9" fill="#0d0d12"/><rect x="149.5" fill="#181821"/><rect x="155" fill="#121219"/><rect x="160.5" fill="#050507"/><rect x="166.1" fill="#050507"/><rect x="171.6" fill="#0f0f15"/><rect x="177.2" fill="#0e0e14"/><rect x="182.7" fill="#1f1f2b"/><rect x="188.2" fill="#292939"/><rect x="193.8" fill="#15151e"/><rect x="199.3" fill="#282838"/><rect x="204.8" fill="#2a2a3a"/><rect x="210.4" fill="#292939"/><rect x="215.9" fill="#121219"/><rect x="221.4" fill="#0c0c11"/><rect x="227" fill="#0d0d12"/><rect x="232.5" fill="#0c0c10"/><rect x="238" fill="#0c0c11"/><rect x="243.6" fill="#1c1c27"/><rect x="249.1" fill="#272736"/><rect x="254.7" fill="#242433"/><rect x="260.2" fill="#17171f"/><rect x="265.7" fill="#1d1d29"/><rect x="271.3" fill="#232330"/>
</g>
<g transform="translate(36.80 422.62)">
<rect x="0" fill="#dde9e9"/><rect x="5.536" fill="#e8f0f0"/><rect x="11.07" fill="#ecf3f3"/><rect x="16.61" fill="#eaf1f1"/><rect x="22.14" fill="#e9f1f1"/><rect x="27.68" fill="#e4eeee"/><rect x="33.22" fill="#dfeaea"/><rect x="38.75" fill="#eaf2f2"/><rect x="44.29" fill="#e2ecec"/><rect x="49.82" fill="#eaf2f2"/><rect x="55.36" fill="#eef4f4"/><rect x="60.9" fill="#e3eded"/><rect x="66.43" fill="#e3eded"/><rect x="71.97" fill="#edf3f3"/><rect x="77.5" fill="#e9f1f1"/><rect x="83.04" fill="#dfeaea"/><rect x="88.58" fill="#deeaea"/><rect x="94.11" fill="#deeaea"/><rect x="99.65" fill="#ecf3f3"/><rect x="105.2" fill="#ebf2f2"/><rect x="110.7" fill="#deeaea"/><rect x="116.3" fill="#ebf2f2"/><rect x="121.8" fill="#eef4f4"/><rect x="127.3" fill="#e8f0f0"/><rect x="132.9" fill="#e2ecec"/><rect x="138.4" fill="#e6efef"/><rect x="143.9" fill="#deeaea"/><rect x="149.5" fill="#dce8e8"/><rect x="155" fill="#eef4f4"/><rect x="160.5" fill="#e8f0f0"/><rect x="166.1" fill="#e5eeee"/><rect x="171.6" fill="#edf3f3"/><rect x="177.2" fill="#e4eded"/><rect x="182.7" fill="#ecf3f3"/><rect x="188.2" fill="#ebf2f2"/><rect x="193.8" fill="#dfebeb"/><rect x="199.3" fill="#e0ebeb"/><rect x="204.8" fill="#e1ecec"/><rect x="210.4" fill="#e0ebeb"/><rect x="215.9" fill="#e6efef"/><rect x="221.4" fill="#e0ebeb"/><rect x="227" fill="#e3eded"/><rect x="232.5" fill="#deeaea"/><rect x="238" fill="#ecf3f3"/><rect x="243.6" fill="#e2ecec"/><rect x="249.1" fill="#e4eeee"/><rect x="254.7" fill="#e6efef"/><rect x="260.2" fill="#ecf3f3"/><rect x="265.7" fill="#e3eded"/><rect x="271.3" fill="#edf3f3"/>
</g>
<g transform="translate(36.80 429.91)">
<rect x="0" fill="#d4e4e4"/><rect x="5.536" fill="#d5e4e4"/><rect x="11.07" fill="#d5e4e4"/><rect x="16.61" fill="#c9dddd"/><rect x="22.14" fill="#d3e3e3"/><rect x="27.68" fill="#cddfdf"/><rect x="33.22" fill="#c9dcdc"/><rect x="38.75" fill="#dbe8e8"/><rect x="44.29" fill="#cddfdf"/><rect x="49.82" fill="#d4e3e3"/><rect x="55.36" fill="#dae7e7"/><rect x="60.9" fill="#d6e5e5"/><rect x="66.43" fill="#d0e1e1"/><rect x="71.97" fill="#d5e4e4"/><rect x="77.5" fill="#d6e5e5"/><rect x="83.04" fill="#dbe8e8"/><rect x="88.58" fill="#cbdede"/><rect x="94.11" fill="#d6e5e5"/><rect x="99.65" fill="#cfe0e0"/><rect x="105.2" fill="#cfe0e0"/><rect x="110.7" fill="#dbe8e8"/><rect x="116.3" fill="#d5e4e4"/><rect x="121.8" fill="#d6e5e5"/><rect x="127.3" fill="#dbe8e8"/><rect x="132.9" fill="#deeaea"/><rect x="138.4" fill="#d3e3e3"/><rect x="143.9" fill="#d7e5e5"/><rect x="149.5" fill="#d5e4e4"/><rect x="155" fill="#d5e4e4"/><rect x="160.5" fill="#d9e7e7"/><rect x="166.1" fill="#d3e3e3"/><rect x="171.6" fill="#d5e4e4"/><rect x="177.2" fill="#d4e3e3"/><rect x="182.7" fill="#dfeaea"/><rect x="188.2" fill="#d9e7e7"/><rect x="193.8" fill="#dde9e9"/><rect x="199.3" fill="#dfeaea"/><rect x="204.8" fill="#cfe0e0"/><rect x="210.4" fill="#d6e5e5"/><rect x="215.9" fill="#dfeaea"/><rect x="221.4" fill="#dce9e9"/><rect x="227" fill="#ccdede"/><rect x="232.5" fill="#ccdede"/><rect x="238" fill="#d3e3e3"/><rect x="243.6" fill="#cadddd"/><rect x="249.1" fill="#cee0e0"/><rect x="254.7" fill="#cadddd"/><rect x="260.2" fill="#d8e6e6"/><rect x="265.7" fill="#dbe8e8"/><rect x="271.3" fill="#deeaea"/>
</g>
<g transform="translate(36.80 437.19)">
<rect x="0" fill="#0a0a0e"/><rect x="5.536" fill="#20202c"/><rect x="11.07" fill="#1d1d29"/><rect x="16.61" fill="#09090d"/><rect x="22.14" fill="#262635"/><rect x="27.68" fill="#292939"/><rect x="33.22" fill="#0c0c11"/><rect x="38.75" fill="#292939"/><rect x="44.29" fill="#13131b"/><rect x="49.82" fill="#171720"/><rect x="55.36" fill="#2a2a3b"/><rect x="60.9" fill="#242432"/><rect x="66.43" fill="#0a0a0e"/><rect x="71.97" fill="#15151d"/><rect x="77.5" fill="#181821"/><rect x="83.04" fill="#111118"/><rect x="88.58" fill="#0c0c10"/><rect x="94.11" fill="#101017"/><rect x="99.65" fill="#20202c"/><rect x="105.2" fill="#a1bec1"/><rect x="110.7" fill="#191923"/><rect x="116.3" fill="#15151d"/><rect x="121.8" fill="#050507"/><rect x="127.3" fill="#111117"/><rect x="132.9" fill="#1c1c27"/><rect x="138.4" fill="#181821"/><rect x="143.9" fill="#060609"/><rect x="149.5" fill="#2a2a3a"/><rect x="155" fill="#222230"/><rect x="160.5" fill="#2a2a3a"/><rect x="166.1" fill="#08080b"/><rect x="171.6" fill="#0e0e14"/><rect x="177.2" fill="#050508"/><rect x="182.7" fill="#22222f"/><rect x="188.2" fill="#0e0e14"/><rect x="193.8" fill="#09090d"/><rect x="199.3" fill="#14141c"/><rect x="204.8" fill="#272736"/><rect x="210.4" fill="#242431"/><rect x="215.9" fill="#0e0e13"/><rect x="221.4" fill="#0a0a0e"/><rect x="227" fill="#282837"/><rect x="232.5" fill="#1a1a24"/><rect x="238" fill="#1f1f2b"/><rect x="243.6" fill="#07070a"/><rect x="249.1" fill="#060609"/><rect x="254.7" fill="#1f1f2a"/><rect x="260.2" fill="#14141c"/><rect x="265.7" fill="#07070a"/><rect x="271.3" fill="#282838"/>
</g>
<g transform="translate(36.80 444.47)">
<rect x="0" fill="#e7f0f0"/><rect x="5.536" fill="#eaf2f2"/><rect x="11.07" fill="#dde9e9"/><rect x="16.61" fill="#ebf2f2"/><rect x="22.14" fill="#dde9e9"/><rect x="27.68" fill="#ecf2f2"/><rect x="33.22" fill="#e4eeee"/><rect x="38.75" fill="#e2ecec"/><rect x="44.29" fill="#e6efef"/><rect x="49.82" fill="#edf3f3"/><rect x="55.36" fill="#e0ebeb"/><rect x="60.9" fill="#deeaea"/><rect x="66.43" fill="#e5eeee"/><rect x="71.97" fill="#e0ebeb"/><rect x="77.5" fill="#dde9e9"/><rect x="83.04" fill="#deeaea"/><rect x="88.58" fill="#dce9e9"/><rect x="94.11" fill="#dfebeb"/><rect x="99.65" fill="#e1ecec"/><rect x="105.2" fill="#e1ecec"/><rect x="110.7" fill="#eaf1f1"/><rect x="116.3" fill="#e1ecec"/><rect x="121.8" fill="#e5eeee"/><rect x="127.3" fill="#dfeaea"/><rect x="132.9" fill="#e2ecec"/><rect x="138.4" fill="#dce8e8"/><rect x="143.9" fill="#e0ebeb"/><rect x="149.5" fill="#dce8e8"/><rect x="155" fill="#e9f1f1"/><rect x="160.5" fill="#e6efef"/><rect x="166.1" fill="#dfeaea"/><rect x="171.6" fill="#e4eeee"/><rect x="177.2" fill="#edf3f3"/><rect x="182.7" fill="#dde9e9"/><rect x="188.2" fill="#ebf2f2"/><rect x="193.8" fill="#e4eded"/><rect x="199.3" fill="#e5eeee"/><rect x="204.8" fill="#ebf2f2"/><rect x="210.4" fill="#e3eded"/><rect x="215.9" fill="#e5eeee"/><rect x="221.4" fill="#e8f0f0"/><rect x="227" fill="#eef4f4"/><rect x="232.5" fill="#e2ecec"/><rect x="238" fill="#ebf2f2"/><rect x="243.6" fill="#e9f1f1"/><rect x="249.1" fill="#e7f0f0"/><rect x="254.7" fill="#e3eded"/><rect x="260.2" fill="#e2ecec"/><rect x="265.7" fill="#dce9e9"/><rect x="271.3" fill="#deeaea"/>
</g>
<g transform="translate(36.80 451.75)">
<rect x="0" fill="#dde9e9"/><rect x="5.536" fill="#e9f1f1"/><rect x="11.07" fill="#e0ebeb"/><rect x="16.61" fill="#deeaea"/><rect x="22.14" fill="#dde9e9"/><rect x="27.68" fill="#ebf2f2"/><rect x="33.22" fill="#ecf3f3"/><rect x="38.75" fill="#e8f0f0"/><rect x="44.29" fill="#e1ecec"/><rect x="49.82" fill="#e0ebeb"/><rect x="55.36" fill="#e1ecec"/><rect x="60.9" fill="#e4eeee"/><rect x="66.43" fill="#deeaea"/><rect x="71.97" fill="#e4eded"/><rect x="77.5" fill="#e0ebeb"/><rect x="83.04" fill="#edf4f4"/><rect x="88.58" fill="#eef4f4"/><rect x="94.11" fill="#e6efef"/><rect x="99.65" fill="#e0ebeb"/><rect x="105.2" fill="#edf4f4"/><rect x="110.7" fill="#e1ecec"/><rect x="116.3" fill="#e2ecec"/><rect x="121.8" fill="#dbe8e8"/><rect x="127.3" fill="#e3eded"/><rect x="132.9" fill="#e4eeee"/><rect x="138.4" fill="#e5eeee"/><rect x="143.9" fill="#dfebeb"/><rect x="149.5" fill="#e5eeee"/><rect x="155" fill="#dce8e8"/><rect x="160.5" fill="#e0ebeb"/><rect x="166.1" fill="#dde9e9"/><rect x="171.6" fill="#e3eded"/><rect x="177.2" fill="#dce9e9"/><rect x="182.7" fill="#dce8e8"/><rect x="188.2" fill="#e1ecec"/><rect x="193.8" fill="#e0ebeb"/><rect x="199.3" fill="#e6efef"/><rect x="204.8" fill="#e5eeee"/><rect x="210.4" fill="#e9f1f1"/><rect x="215.9" fill="#e8f0f0"/><rect x="221.4" fill="#e9f1f1"/><rect x="227" fill="#ecf3f3"/><rect x="232.5" fill="#e3eded"/><rect x="238" fill="#e2ecec"/><rect x="243.6" fill="#eef4f4"/><rect x="249.1" fill="#deeaea"/><rect x="254.7" fill="#e9f1f1"/><rect x="260.2" fill="#e7f0f0"/><rect x="265.7" fill="#dce9e9"/><rect x="271.3" fill="#ebf2f2"/>
</g>
<g transform="translate(36.80 459.03)">
<rect x="0" fill="#262635"/><rect x="5.536" fill="#1c1c27"/><rect x="11.07" fill="#8da3ad"/><rect x="16.61" fill="#232331"/><rect x="22.14" fill="#09090d"/><rect x="27.68" fill="#8fa6af"/><rect x="33.22" fill="#171721"/><rect x="38.75" fill="#242432"/><rect x="44.29" fill="#232331"/><rect x="49.82" fill="#242432"/><rect x="55.36" fill="#1b1b25"/><rect x="60.9" fill="#262635"/><rect x="66.43" fill="#1e1e2a"/><rect x="71.97" fill="#99b3b9"/><rect x="77.5" fill="#0d0d12"/><rect x="83.04" fill="#050507"/><rect x="88.58" fill="#09090d"/><rect x="94.11" fill="#121219"/><rect x="99.65" fill="#08080b"/><rect x="105.2" fill="#242432"/><rect x="110.7" fill="#90a7b0"/><rect x="116.3" fill="#1c1c27"/><rect x="121.8" fill="#1c1c27"/><rect x="127.3" fill="#1e1e2a"/><rect x="132.9" fill="#171720"/><rect x="138.4" fill="#040406"/><rect x="143.9" fill="#232330"/><rect x="149.5" fill="#21212e"/><rect x="155" fill="#171721"/><rect x="160.5" fill="#191922"/><rect x="166.1" fill="#1d1d29"/><rect x="171.6" fill="#070709"/><rect x="177.2" fill="#20202d"/><rect x="182.7" fill="#8ca2ac"/><rect x="188.2" fill="#07070a"/><rect x="193.8" fill="#0e0e14"/><rect x="199.3" fill="#20202d"/><rect x="204.8" fill="#8ca2ac"/><rect x="210.4" fill="#21212d"/><rect x="215.9" fill="#2a2a3a"/><rect x="221.4" fill="#171720"/><rect x="227" fill="#13131a"/><rect x="232.5" fill="#16161f"/><rect x="238" fill="#1e1e2a"/><rect x="243.6" fill="#22222f"/><rect x="249.1" fill="#1c1c27"/><rect x="254.7" fill="#1d1d28"/><rect x="260.2" fill="#07070a"/><rect x="265.7" fill="#0a0a0e"/><rect x="271.3" fill="#0e0e13"/>
</g>
<g transform="translate(36.80 466.31)">
<rect x="0" fill="#e9f1f1"/><rect x="5.536" fill="#e1ecec"/><rect x="11.07" fill="#e6efef"/><rect x="16.61" fill="#dce8e8"/><rect x="22.14" fill="#dde9e9"/><rect x="27.68" fill="#e0ebeb"/><rect x="33.22" fill="#e8f0f0"/><rect x="38.75" fill="#e8f0f0"/><rect x="44.29" fill="#e8f0f0"/><rect x="49.82" fill="#e1ecec"/><rect x="55.36" fill="#e5eeee"/><rect x="60.9" fill="#e4eeee"/><rect x="66.43" fill="#e4eeee"/><rect x="71.97" fill="#deeaea"/><rect x="77.5" fill="#ecf3f3"/><rect x="83.04" fill="#dfebeb"/><rect x="88.58" fill="#eef4f4"/><rect x="94.11" fill="#edf3f3"/><rect x="99.65" fill="#dce8e8"/><rect x="105.2" fill="#e4eeee"/><rect x="110.7" fill="#ebf2f2"/><rect x="116.3" fill="#eef4f4"/><rect x="121.8" fill="#e4eeee"/><rect x="127.3" fill="#e0ebeb"/><rect x="132.9" fill="#dfebeb"/><rect x="138.4" fill="#edf3f3"/><rect x="143.9" fill="#dfebeb"/><rect x="149.5" fill="#e6efef"/><rect x="155" fill="#deeaea"/><rect x="160.5" fill="#e5eeee"/><rect x="166.1" fill="#edf4f4"/><rect x="171.6" fill="#deeaea"/><rect x="177.2" fill="#ebf2f2"/><rect x="182.7" fill="#e5eeee"/><rect x="188.2" fill="#ecf3f3"/><rect x="193.8" fill="#e9f1f1"/><rect x="199.3" fill="#e0ebeb"/><rect x="204.8" fill="#ecf3f3"/><rect x="210.4" fill="#e5eeee"/><rect x="215.9" fill="#dce8e8"/><rect x="221.4" fill="#dce8e8"/><rect x="227" fill="#e5eeee"/><rect x="232.5" fill="#e4eeee"/><rect x="238" fill="#e1ecec"/><rect x="243.6" fill="#deeaea"/><rect x="249.1" fill="#e2ecec"/><rect x="254.7" fill="#e1ecec"/><rect x="260.2" fill="#ebf2f2"/><rect x="265.7" fill="#dbe8e8"/><rect x="271.3" fill="#e9f1f1"/>
</g>
<g transform="translate(36.80 473.59)">
<rect x="0" fill="#c2d8d8"/><rect x="5.536" fill="#aecbcb"/><rect x="11.07" fill="#c4d9d9"/><rect x="16.61" fill="#bed6d6"/><rect x="22.14" fill="#c4d9d9"/><rect x="27.68" fill="#b2cece"/><rect x="33.22" fill="#b5d0d0"/><rect x="38.75" fill="#b5d0d0"/><rect x="44.29" fill="#c6dbdb"/><rect x="49.82" fill="#bbd3d3"/><rect x="55.36" fill="#b4cfcf"/><rect x="60.9" fill="#585a78"/><rect x="66.43" fill="#b2cece"/><rect x="71.97" fill="#accaca"/><rect x="77.5" fill="#adcbcb"/><rect x="83.04" fill="#c2d8d8"/><rect x="88.58" fill="#b2cece"/><rect x="94.11" fill="#c5dada"/><rect x="99.65" fill="#b1cdcd"/><rect x="105.2" fill="#b2cece"/><rect x="110.7" fill="#b9d2d2"/><rect x="116.3" fill="#171720"/><rect x="121.8" fill="#b5d0d0"/><rect x="127.3" fill="#a4c3c4"/><rect x="132.9" fill="#c3d9d9"/><rect x="138.4" fill="#c1d7d7"/><rect x="143.9" fill="#bcd4d4"/><rect x="149.5" fill="#13131a"/><rect x="155" fill="#c5dada"/><rect x="160.5" fill="#97b2b7"/><rect x="166.1" fill="#bfd6d6"/><rect x="171.6" fill="#accaca"/><rect x="177.2" fill="#bfd6d6"/><rect x="182.7" fill="#b7d1d1"/><rect x="188.2" fill="#94adb4"/><rect x="193.8" fill="#bcd4d4"/><rect x="199.3" fill="#b2cece"/><rect x="204.8" fill="#accaca"/><rect x="210.4" fill="#c4d9d9"/><rect x="215.9" fill="#aecbcb"/><rect x="221.4" fill="#b8d1d1"/><rect x="227" fill="#b4cfcf"/><rect x="232.5" fill="#b3cece"/><rect x="238" fill="#bfd6d6"/><rect x="243.6" fill="#c6dada"/><rect x="249.1" fill="#b2cece"/><rect x="254.7" fill="#1e1e2a"/><rect x="260.2" fill="#b3cece"/><rect x="265.7" fill="#94adb4"/><rect x="271.3" fill="#b5d0d0"/>
</g>
<g transform="translate(36.80 480.88)">
<rect x="0" fill="#dfeaea"/><rect x="5.536" fill="#deeaea"/><rect x="11.07" fill="#dfebeb"/><rect x="16.61" fill="#ecf3f3"/><rect x="22.14" fill="#e5eeee"/><rect x="27.68" fill="#e0ebeb"/><rect x="33.22" fill="#ecf3f3"/><rect x="38.75" fill="#eef4f4"/><rect x="44.29" fill="#e4eeee"/><rect x="49.82" fill="#deeaea"/><rect x="55.36" fill="#dfeaea"/><rect x="60.9" fill="#dde9e9"/><rect x="66.43" fill="#e2ecec"/><rect x="71.97" fill="#dde9e9"/><rect x="77.5" fill="#e0ebeb"/><rect x="83.04" fill="#e0ebeb"/><rect x="88.58" fill="#e6efef"/><rect x="94.11" fill="#ecf3f3"/><rect x="99.65" fill="#e9f1f1"/><rect x="105.2" fill="#e3eded"/><rect x="110.7" fill="#e3eded"/><rect x="116.3" fill="#e5eeee"/><rect x="121.8" fill="#e2eded"/><rect x="127.3" fill="#e2ecec"/><rect x="132.9" fill="#dde9e9"/><rect x="138.4" fill="#e1ebeb"/><rect x="143.9" fill="#eef4f4"/><rect x="149.5" fill="#deeaea"/><rect x="155" fill="#e5eeee"/><rect x="160.5" fill="#e7f0f0"/><rect x="166.1" fill="#ecf2f2"/><rect x="171.6" fill="#dfebeb"/><rect x="177.2" fill="#e1ebeb"/><rect x="182.7" fill="#e0ebeb"/><rect x="188.2" fill="#e3eded"/><rect x="193.8" fill="#e4eded"/><rect x="199.3" fill="#edf4f4"/><rect x="204.8" fill="#ebf2f2"/><rect x="210.4" fill="#ecf3f3"/><rect x="215.9" fill="#dce8e8"/><rect x="221.4" fill="#dce9e9"/><rect x="227" fill="#e9f1f1"/><rect x="232.5" fill="#ecf3f3"/><rect x="238" fill="#e4eeee"/><rect x="243.6" fill="#e6efef"/><rect x="249.1" fill="#dbe8e8"/><rect x="254.7" fill="#e3eded"/><rect x="260.2" fill="#edf3f3"/><rect x="265.7" fill="#ebf2f2"/><rect x="271.3" fill="#ebf2f2"/>
</g>
<g transform="translate(36.80 488.16)">
<rect x="0" fill="#eef4f4"/><rect x="5.536" fill="#e0ebeb"/><rect x="11.07" fill="#dde9e9"/><rect x="16.61" fill="#deeaea"/><rect x="22.14" fill="#e5eeee"/><rect x="27.68" fill="#e8f0f0"/><rect x="33.22" fill="#edf3f3"/><rect x="38.75" fill="#e9f1f1"/><rect x="44.29" fill="#e8f0f0"/><rect x="49.82" fill="#eaf1f1"/><rect x="55.36" fill="#e4eeee"/><rect x="60.9" fill="#e6efef"/><rect x="66.43" fill="#dce9e9"/><rect x="71.97" fill="#eaf1f1"/><rect x="77.5" fill="#e0ebeb"/><rect x="83.04" fill="#edf3f3"/><rect x="88.58" fill="#e8f0f0"/><rect x="94.11" fill="#e1ecec"/><rect x="99.65" fill="#deeaea"/><rect x="105.2" fill="#e0ebeb"/><rect x="110.7" fill="#e7f0f0"/><rect x="116.3" fill="#e9f1f1"/><rect x="121.8" fill="#deeaea"/><rect x="127.3" fill="#dde9e9"/><rect x="132.9" fill="#e5eeee"/><rect x="138.4" fill="#e6efef"/><rect x="143.9" fill="#e3eded"/><rect x="149.5" fill="#e0ebeb"/><rect x="155" fill="#e7efef"/><rect x="160.5" fill="#dce8e8"/><rect x="166.1" fill="#e1ecec"/><rect x="171.6" fill="#e4eeee"/><rect x="177.2" fill="#edf4f4"/><rect x="182.7" fill="#e7f0f0"/><rect x="188.2" fill="#ecf3f3"/><rect x="193.8" fill="#e4eeee"/><rect x="199.3" fill="#e0ebeb"/><rect x="204.8" fill="#e0ebeb"/><rect x="210.4" fill="#edf4f4"/><rect x="215.9" fill="#e9f1f1"/><rect x="221.4" fill="#e1ecec"/><rect x="227" fill="#dce8e8"/><rect x="232.5" fill="#e5eeee"/><rect x="238" fill="#e8f0f0"/><rect x="243.6" fill="#e3eded"/><rect x="249.1" fill="#e0ebeb"/><rect x="254.7" fill="#e8f0f0"/><rect x="260.2" fill="#edf3f3"/><rect x="265.7" fill="#e0ebeb"/><rect x="271.3" fill="#dce9e9"/>
</g>
<g transform="translate(36.80 495.44)">
<rect x="0" fill="#e2ecec"/><rect x="5.536" fill="#e3eded"/><rect x="11.07" fill="#e8f0f0"/><rect x="16.61" fill="#dfebeb"/><rect x="22.14" fill="#eaf2f2"/><rect x="27.68" fill="#e9f1f1"/><rect x="33.22" fill="#e5eeee"/><rect x="38.75" fill="#dfebeb"/><rect x="44.29" fill="#eef4f4"/><rect x="49.82" fill="#e1ecec"/><rect x="55.36" fill="#ebf2f2"/><rect x="60.9" fill="#e0ebeb"/><rect x="66.43" fill="#e0ebeb"/><rect x="71.97" fill="#eaf1f1"/><rect x="77.5" fill="#e1ecec"/><rect x="83.04" fill="#edf4f4"/><rect x="88.58" fill="#e5eeee"/><rect x="94.11" fill="#dfeaea"/><rect x="99.65" fill="#e0ebeb"/><rect x="105.2" fill="#e3eded"/><rect x="110.7" fill="#e8f0f0"/><rect x="116.3" fill="#edf3f3"/><rect x="121.8" fill="#deeaea"/><rect x="127.3" fill="#e3eded"/><rect x="132.9" fill="#dfebeb"/><rect x="138.4" fill="#eef4f4"/><rect x="143.9" fill="#deeaea"/><rect x="149.5" fill="#dce9e9"/><rect x="155" fill="#dde9e9"/><rect x="160.5" fill="#e3eded"/><rect x="166.1" fill="#ecf3f3"/><rect x="171.6" fill="#ecf3f3"/><rect x="177.2" fill="#e9f1f1"/><rect x="182.7" fill="#eef4f4"/><rect x="188.2" fill="#edf3f3"/><rect x="193.8" fill="#e2ecec"/><rect x="199.3" fill="#dfeaea"/><rect x="204.8" fill="#edf3f3"/><rect x="210.4" fill="#e9f1f1"/><rect x="215.9" fill="#dce9e9"/><rect x="221.4" fill="#e8f0f0"/><rect x="227" fill="#e3eded"/><rect x="232.5" fill="#e2eded"/><rect x="238" fill="#e2ecec"/><rect x="243.6" fill="#dfeaea"/><rect x="249.1" fill="#dbe8e8"/><rect x="254.7" fill="#e1ecec"/><rect x="260.2" fill="#e2ecec"/><rect x="265.7" fill="#edf4f4"/><rect x="271.3" fill="#deeaea"/>
</g>
<g transform="translate(36.80 502.72)">
<rect x="0" fill="#292939"/><rect x="5.536" fill="#0c0c11"/><rect x="11.07" fill="#a3c2c3"/><rect x="16.61" fill="#242432"/><rect x="22.14" fill="#abc9c9"/><rect x="27.68" fill="#a2bfc1"/><rect x="33.22" fill="#060608"/><rect x="38.75" fill="#16161f"/><rect x="44.29" fill="#12121a"/><rect x="49.82" fill="#9bb7bb"/><rect x="55.36" fill="#a1bec1"/><rect x="60.9" fill="#a7c7c7"/><rect x="66.43" fill="#a9c8c8"/><rect x="71.97" fill="#adcaca"/><rect x="77.5" fill="#b1cdcd"/><rect x="83.04" fill="#a9c8c8"/><rect x="88.58" fill="#98b2b8"/><rect x="94.11" fill="#060608"/><rect x="99.65" fill="#b1cdcd"/><rect x="105.2" fill="#060609"/><rect x="110.7" fill="#9db9bd"/><rect x="116.3" fill="#0e0e13"/><rect x="121.8" fill="#21212e"/><rect x="127.3" fill="#272736"/><rect x="132.9" fill="#111118"/><rect x="138.4" fill="#0e0e14"/><rect x="143.9" fill="#292939"/><rect x="149.5" fill="#1c1c27"/><rect x="155" fill="#a5c4c5"/><rect x="160.5" fill="#9fbcbf"/><rect x="166.1" fill="#accaca"/><rect x="171.6" fill="#9ab5ba"/><rect x="177.2" fill="#9cb7bb"/><rect x="182.7" fill="#9cb7bb"/><rect x="188.2" fill="#99b3b9"/><rect x="193.8" fill="#1c1c28"/><rect x="199.3" fill="#b3cece"/><rect x="204.8" fill="#a5c5c5"/><rect x="210.4" fill="#0d0d12"/><rect x="215.9" fill="#9ebabe"/><rect x="221.4" fill="#636983"/><rect x="227" fill="#292939"/><rect x="232.5" fill="#a0bdc0"/><rect x="238" fill="#b8d2d2"/><rect x="243.6" fill="#15151d"/><rect x="249.1" fill="#171720"/><rect x="254.7" fill="#282837"/><rect x="260.2" fill="#0b0b0f"/><rect x="265.7" fill="#a3c2c3"/><rect x="271.3" fill="#21212d"/>
</g>
</g>
<path d="M36.8 400.78H313.6M36.8 408.06H313.6M36.8 415.34H313.6M36.8 422.62H313.6M36.8 429.91H313.6M36.8 437.19H313.6M36.8 444.47H313.6M36.8 451.75H313.6M36.8 459.03H313.6M36.8 466.31H313.6M36.8 473.59H313.6M36.8 480.88H313.6M36.8 488.16H313.6M36.8 495.44H313.6M36.8 502.72H313.6" stroke="#fff" stroke-opacity=".82" stroke-width=".9" fill="none"/>
<rect x="36.8" y="393.5" width="276.8" height="116.5" fill="none" stroke="#333" stroke-width=".7"/>
<path d="M39.6 393.5v1.6M89.4 393.5v1.6M144.8 393.5v1.6M200.1 393.5v1.6M255.5 393.5v1.6M310.8 393.5v1.6M36.8 397.1h1.8M36.8 433.5h1.8M36.8 470.0h1.8M36.8 506.4h1.8" stroke="#222" stroke-width=".6" fill="none"/>
<g shape-rendering="crispEdges" class="h">
<g transform="translate(36.80 512.20)">
<rect x="0" fill="#3f3f57"/><rect x="5.536" fill="#1d1d29"/><rect x="11.07" fill="#2a2a3b"/><rect x="16.61" fill="#08080b"/><rect x="22.14" fill="#16161f"/><rect x="27.68" fill="#242431"/><rect x="33.22" fill="#242433"/><rect x="38.75" fill="#272736"/><rect x="44.29" fill="#060608"/><rect x="49.82" fill="#3a3a51"/><rect x="55.36" fill="#09090c"/><rect x="60.9" fill="#0b0b10"/><rect x="66.43" fill="#2a2a3a"/><rect x="71.97" fill="#1b1b25"/><rect x="77.5" fill="#282837"/><rect x="83.04" fill="#12121a"/><rect x="88.58" fill="#252534"/><rect x="94.11" fill="#15151e"/><rect x="99.65" fill="#0e0e14"/><rect x="105.2" fill="#22222f"/><rect x="110.7" fill="#292938"/><rect x="116.3" fill="#08080b"/><rect x="121.8" fill="#1b1b26"/><rect x="127.3" fill="#1c1c27"/><rect x="132.9" fill="#0c0c11"/><rect x="138.4" fill="#121219"/><rect x="143.9" fill="#09090d"/><rect x="149.5" fill="#0c0c11"/><rect x="155" fill="#0e0e13"/><rect x="160.5" fill="#1b1b26"/><rect x="166.1" fill="#1d1d28"/><rect x="171.6" fill="#0c0c11"/><rect x="177.2" fill="#040406"/><rect x="182.7" fill="#111117"/><rect x="188.2" fill="#1e1e2a"/><rect x="193.8" fill="#0b0b10"/><rect x="199.3" fill="#101016"/><rect x="204.8" fill="#0c0c11"/><rect x="210.4" fill="#42425b"/><rect x="215.9" fill="#191923"/><rect x="221.4" fill="#060609"/><rect x="227" fill="#08080b"/><rect x="232.5" fill="#13131b"/><rect x="238" fill="#191923"/><rect x="243.6" fill="#1d1d28"/><rect x="249.1" fill="#07070b"/><rect x="254.7" fill="#0a0a0e"/><rect x="260.2" fill="#1f1f2b"/><rect x="265.7" fill="#14141c"/><rect x="271.3" fill="#0f0f15"/>
</g>
<g transform="translate(36.80 519.52)">
<rect x="0" fill="#101016"/><rect x="5.536" fill="#292939"/><rect x="11.07" fill="#101016"/><rect x="16.61" fill="#1a1a24"/><rect x="22.14" fill="#121219"/><rect x="27.68" fill="#14141c"/><rect x="33.22" fill="#252534"/><rect x="38.75" fill="#2b2b3b"/><rect x="44.29" fill="#121219"/><rect x="49.82" fill="#0c0c10"/><rect x="55.36" fill="#20202d"/><rect x="60.9" fill="#0c0c11"/><rect x="66.43" fill="#040406"/><rect x="71.97" fill="#272736"/><rect x="77.5" fill="#14141c"/><rect x="83.04" fill="#36364b"/><rect x="88.58" fill="#14141b"/><rect x="94.11" fill="#262635"/><rect x="99.65" fill="#16161e"/><rect x="105.2" fill="#0a0a0e"/><rect x="110.7" fill="#050506"/><rect x="116.3" fill="#191923"/><rect x="121.8" fill="#1d1d28"/><rect x="127.3" fill="#272736"/><rect x="132.9" fill="#3e3e56"/><rect x="138.4" fill="#1c1c27"/><rect x="143.9" fill="#121219"/><rect x="149.5" fill="#171721"/><rect x="155" fill="#0a0a0d"/><rect x="160.5" fill="#0f0f15"/><rect x="166.1" fill="#181821"/><rect x="171.6" fill="#282837"/><rect x="177.2" fill="#08080b"/><rect x="182.7" fill="#171720"/><rect x="188.2" fill="#232331"/><rect x="193.8" fill="#292939"/><rect x="199.3" fill="#0c0c10"/><rect x="204.8" fill="#09090c"/><rect x="210.4" fill="#282838"/><rect x="215.9" fill="#2a2a3a"/><rect x="221.4" fill="#17171f"/><rect x="227" fill="#060609"/><rect x="232.5" fill="#282837"/><rect x="238" fill="#343447"/><rect x="243.6" fill="#272736"/><rect x="249.1" fill="#1c1c27"/><rect x="254.7" fill="#242432"/><rect x="260.2" fill="#0a0a0e"/><rect x="265.7" fill="#222230"/><rect x="271.3" fill="#0d0d12"/>
</g>
<g transform="translate(36.80 526.84)">
<rect x="0" fill="#14141b"/><rect x="5.536" fill="#252533"/><rect x="11.07" fill="#242432"/><rect x="16.61" fill="#0b0b0f"/><rect x="22.14" fill="#0c0c11"/><rect x="27.68" fill="#9ab4ba"/><rect x="33.22" fill="#181821"/><rect x="38.75" fill="#13131a"/><rect x="44.29" fill="#09090c"/><rect x="49.82" fill="#0e0e13"/><rect x="55.36" fill="#20202c"/><rect x="60.9" fill="#272736"/><rect x="66.43" fill="#060608"/><rect x="71.97" fill="#1a1a24"/><rect x="77.5" fill="#21212e"/><rect x="83.04" fill="#050508"/><rect x="88.58" fill="#242432"/><rect x="94.11" fill="#09090c"/><rect x="99.65" fill="#2f2f41"/><rect x="105.2" fill="#191923"/><rect x="110.7" fill="#1c1c27"/><rect x="116.3" fill="#101016"/><rect x="121.8" fill="#14141c"/><rect x="127.3" fill="#1a1a25"/><rect x="132.9" fill="#a1bec1"/><rect x="138.4" fill="#1d1d29"/><rect x="143.9" fill="#15151e"/><rect x="149.5" fill="#15151d"/><rect x="155" fill="#a4c2c4"/><rect x="160.5" fill="#1c1c27"/><rect x="166.1" fill="#171720"/><rect x="171.6" fill="#0d0d12"/><rect x="177.2" fill="#21212e"/><rect x="182.7" fill="#22222f"/><rect x="188.2" fill="#16161e"/><rect x="193.8" fill="#0b0b0f"/><rect x="199.3" fill="#16161f"/><rect x="204.8" fill="#08080b"/><rect x="210.4" fill="#09090d"/><rect x="215.9" fill="#15151d"/><rect x="221.4" fill="#08080b"/><rect x="227" fill="#15151d"/><rect x="232.5" fill="#181821"/><rect x="238" fill="#060608"/><rect x="243.6" fill="#343448"/><rect x="249.1" fill="#07070a"/><rect x="254.7" fill="#20202d"/><rect x="260.2" fill="#22222f"/><rect x="265.7" fill="#a1bec1"/><rect x="271.3" fill="#060609"/>
</g>
<g transform="translate(36.80 534.16)">
<rect x="0" fill="#171721"/><rect x="5.536" fill="#13131a"/><rect x="11.07" fill="#292938"/><rect x="16.61" fill="#09090d"/><rect x="22.14" fill="#252533"/><rect x="27.68" fill="#2a2a3b"/><rect x="33.22" fill="#20202d"/><rect x="38.75" fill="#232331"/><rect x="44.29" fill="#0b0b10"/><rect x="49.82" fill="#2a2a3a"/><rect x="55.36" fill="#3e3e56"/><rect x="60.9" fill="#292939"/><rect x="66.43" fill="#272737"/><rect x="71.97" fill="#0a0a0e"/><rect x="77.5" fill="#222230"/><rect x="83.04" fill="#282837"/><rect x="88.58" fill="#060609"/><rect x="94.11" fill="#121218"/><rect x="99.65" fill="#21212e"/><rect x="105.2" fill="#0a0a0e"/><rect x="110.7" fill="#272736"/><rect x="116.3" fill="#0f0f14"/><rect x="121.8" fill="#242431"/><rect x="127.3" fill="#0a0a0d"/><rect x="132.9" fill="#171720"/><rect x="138.4" fill="#282837"/><rect x="143.9" fill="#0c0c11"/><rect x="149.5" fill="#41415a"/><rect x="155" fill="#181821"/><rect x="160.5" fill="#101017"/><rect x="166.1" fill="#050508"/><rect x="171.6" fill="#0b0b0f"/><rect x="177.2" fill="#0a0a0e"/><rect x="182.7" fill="#282838"/><rect x="188.2" fill="#1e1e2a"/><rect x="193.8" fill="#272735"/><rect x="199.3" fill="#0a0a0f"/><rect x="204.8" fill="#3e3e56"/><rect x="210.4" fill="#08080c"/><rect x="215.9" fill="#181822"/><rect x="221.4" fill="#1d1d28"/><rect x="227" fill="#121219"/><rect x="232.5" fill="#262634"/><rect x="238" fill="#191923"/><rect x="243.6" fill="#1a1a25"/><rect x="249.1" fill="#262635"/><rect x="254.7" fill="#08080b"/><rect x="260.2" fill="#2a2a3b"/><rect x="265.7" fill="#1c1c27"/><rect x="271.3" fill="#13131b"/>
</g>
<g transform="translate(36.80 541.48)">
<rect x="0" fill="#232330"/><rect x="5.536" fill="#0e0e14"/><rect x="11.07" fill="#2a2a3b"/><rect x="16.61" fill="#1a1a24"/><rect x="22.14" fill="#121219"/><rect x="27.68" fill="#22222f"/><rect x="33.22" fill="#15151d"/><rect x="38.75" fill="#0b0b0f"/><rect x="44.29" fill="#21212d"/><rect x="49.82" fill="#42425b"/><rect x="55.36" fill="#242431"/><rect x="60.9" fill="#0e0e13"/><rect x="66.43" fill="#1d1d28"/><rect x="71.97" fill="#2a2a3a"/><rect x="77.5" fill="#1b1b25"/><rect x="83.04" fill="#1e1e29"/><rect x="88.58" fill="#101016"/><rect x="94.11" fill="#040406"/><rect x="99.65" fill="#323245"/><rect x="105.2" fill="#0a0a0e"/><rect x="110.7" fill="#1c1c27"/><rect x="116.3" fill="#15151d"/><rect x="121.8" fill="#181821"/><rect x="127.3" fill="#272735"/><rect x="132.9" fill="#09090d"/><rect x="138.4" fill="#0d0d12"/><rect x="143.9" fill="#1d1d29"/><rect x="149.5" fill="#050507"/><rect x="155" fill="#040406"/><rect x="160.5" fill="#121219"/><rect x="166.1" fill="#08080b"/><rect x="171.6" fill="#121219"/><rect x="177.2" fill="#0d0d12"/><rect x="182.7" fill="#1b1b25"/><rect x="188.2" fill="#1b1b25"/><rect x="193.8" fill="#0c0c11"/><rect x="199.3" fill="#3f3f57"/><rect x="204.8" fill="#16161f"/><rect x="210.4" fill="#09090d"/><rect x="215.9" fill="#282838"/><rect x="221.4" fill="#0d0d13"/><rect x="227" fill="#0a0a0e"/><rect x="232.5" fill="#08080b"/><rect x="238" fill="#1d1d28"/><rect x="243.6" fill="#262634"/><rect x="249.1" fill="#22222f"/><rect x="254.7" fill="#14141b"/><rect x="260.2" fill="#0e0e14"/><rect x="265.7" fill="#040406"/><rect x="271.3" fill="#1d1d28"/>
</g>
<g transform="translate(36.80 548.79)">
<rect x="0" fill="#1a1a24"/><rect x="5.536" fill="#121218"/><rect x="11.07" fill="#1d1d28"/><rect x="16.61" fill="#15151d"/><rect x="22.14" fill="#282838"/><rect x="27.68" fill="#20202d"/><rect x="33.22" fill="#0e0e13"/><rect x="38.75" fill="#272736"/><rect x="44.29" fill="#060608"/><rect x="49.82" fill="#191922"/><rect x="55.36" fill="#14141b"/><rect x="60.9" fill="#0d0d12"/><rect x="66.43" fill="#060609"/><rect x="71.97" fill="#22222f"/><rect x="77.5" fill="#040406"/><rect x="83.04" fill="#191923"/><rect x="88.58" fill="#282838"/><rect x="94.11" fill="#09090d"/><rect x="99.65" fill="#0c0c10"/><rect x="105.2" fill="#1b1b26"/><rect x="110.7" fill="#181821"/><rect x="116.3" fill="#1d1d28"/><rect x="121.8" fill="#232331"/><rect x="127.3" fill="#0b0b0f"/><rect x="132.9" fill="#101016"/><rect x="138.4" fill="#101016"/><rect x="143.9" fill="#060608"/><rect x="149.5" fill="#262635"/><rect x="155" fill="#22222f"/><rect x="160.5" fill="#20202c"/><rect x="166.1" fill="#040406"/><rect x="171.6" fill="#252533"/><rect x="177.2" fill="#21212d"/><rect x="182.7" fill="#16161f"/><rect x="188.2" fill="#21212d"/><rect x="193.8" fill="#41415a"/><rect x="199.3" fill="#0d0d12"/><rect x="204.8" fill="#08080b"/><rect x="210.4" fill="#0d0d12"/><rect x="215.9" fill="#050508"/><rect x="221.4" fill="#111118"/><rect x="227" fill="#21212e"/><rect x="232.5" fill="#1f1f2b"/><rect x="238" fill="#36364a"/><rect x="243.6" fill="#1f1f2c"/><rect x="249.1" fill="#0e0e14"/><rect x="254.7" fill="#191923"/><rect x="260.2" fill="#15151d"/><rect x="265.7" fill="#222230"/><rect x="271.3" fill="#313144"/>
</g>
<g transform="translate(36.80 556.11)">
<rect x="0" fill="#0e0e14"/><rect x="5.536" fill="#1d1d28"/><rect x="11.07" fill="#292939"/><rect x="16.61" fill="#0c0c11"/><rect x="22.14" fill="#262635"/><rect x="27.68" fill="#050506"/><rect x="33.22" fill="#0e0e14"/><rect x="38.75" fill="#0d0d12"/><rect x="44.29" fill="#21212d"/><rect x="49.82" fill="#282838"/><rect x="55.36" fill="#21212e"/><rect x="60.9" fill="#111117"/><rect x="66.43" fill="#262635"/><rect x="71.97" fill="#111117"/><rect x="77.5" fill="#0d0d12"/><rect x="83.04" fill="#272736"/><rect x="88.58" fill="#1c1c27"/><rect x="94.11" fill="#1f1f2b"/><rect x="99.65" fill="#1e1e29"/><rect x="105.2" fill="#2a2a3a"/><rect x="110.7" fill="#16161f"/><rect x="116.3" fill="#242433"/><rect x="121.8" fill="#1f1f2b"/><rect x="127.3" fill="#252533"/><rect x="132.9" fill="#41415a"/><rect x="138.4" fill="#20202c"/><rect x="143.9" fill="#1a1a24"/><rect x="149.5" fill="#101016"/><rect x="155" fill="#0c0c11"/><rect x="160.5" fill="#1c1c27"/><rect x="166.1" fill="#07070a"/><rect x="171.6" fill="#3e3e55"/><rect x="177.2" fill="#0a0a0d"/><rect x="182.7" fill="#050507"/><rect x="188.2" fill="#08080b"/><rect x="193.8" fill="#333347"/><rect x="199.3" fill="#111118"/><rect x="204.8" fill="#09090d"/><rect x="210.4" fill="#050507"/><rect x="215.9" fill="#060608"/><rect x="221.4" fill="#1f1f2b"/><rect x="227" fill="#1c1c28"/><rect x="232.5" fill="#1f1f2b"/><rect x="238" fill="#20202d"/><rect x="243.6" fill="#070709"/><rect x="249.1" fill="#1b1b25"/><rect x="254.7" fill="#121219"/><rect x="260.2" fill="#242431"/><rect x="265.7" fill="#242431"/><rect x="271.3" fill="#262635"/>
</g>
<g transform="translate(36.80 563.43)">
<rect x="0" fill="#070709"/><rect x="5.536" fill="#262634"/><rect x="11.07" fill="#272736"/><rect x="16.61" fill="#282838"/><rect x="22.14" fill="#08080b"/><rect x="27.68" fill="#0c0c11"/><rect x="33.22" fill="#08080c"/><rect x="38.75" fill="#050508"/><rect x="44.29" fill="#252533"/><rect x="49.82" fill="#232331"/><rect x="55.36" fill="#1c1c28"/><rect x="60.9" fill="#242432"/><rect x="66.43" fill="#1c1c27"/><rect x="71.97" fill="#0f0f15"/><rect x="77.5" fill="#303043"/><rect x="83.04" fill="#08080b"/><rect x="88.58" fill="#21212e"/><rect x="94.11" fill="#0c0c11"/><rect x="99.65" fill="#101017"/><rect x="105.2" fill="#37374c"/><rect x="110.7" fill="#050507"/><rect x="116.3" fill="#0e0e13"/><rect x="121.8" fill="#0f0f15"/><rect x="127.3" fill="#20202c"/><rect x="132.9" fill="#121219"/><rect x="138.4" fill="#101017"/><rect x="143.9" fill="#292939"/><rect x="149.5" fill="#171721"/><rect x="155" fill="#252533"/><rect x="160.5" fill="#1c1c27"/><rect x="166.1" fill="#050507"/><rect x="171.6" fill="#14141c"/><rect x="177.2" fill="#15151d"/><rect x="182.7" fill="#22222f"/><rect x="188.2" fill="#111118"/><rect x="193.8" fill="#1f1f2b"/><rect x="199.3" fill="#191922"/><rect x="204.8" fill="#0c0c11"/><rect x="210.4" fill="#3d3d54"/><rect x="215.9" fill="#07070b"/><rect x="221.4" fill="#242431"/><rect x="227" fill="#0b0b0f"/><rect x="232.5" fill="#040406"/><rect x="238" fill="#0c0c10"/><rect x="243.6" fill="#21212e"/><rect x="249.1" fill="#2a2a3a"/><rect x="254.7" fill="#040406"/><rect x="260.2" fill="#171720"/><rect x="265.7" fill="#171720"/><rect x="271.3" fill="#232330"/>
</g>
<g transform="translate(36.80 570.75)">
<rect x="0" fill="#0b0b10"/><rect x="5.536" fill="#171720"/><rect x="11.07" fill="#111118"/><rect x="16.61" fill="#242432"/><rect x="22.14" fill="#0e0e14"/><rect x="27.68" fill="#282838"/><rect x="33.22" fill="#0f0f15"/><rect x="38.75" fill="#0c0c11"/><rect x="44.29" fill="#1f1f2b"/><rect x="49.82" fill="#171720"/><rect x="55.36" fill="#08080c"/><rect x="60.9" fill="#1d1d28"/><rect x="66.43" fill="#07070a"/><rect x="71.97" fill="#222230"/><rect x="77.5" fill="#1f1f2b"/><rect x="83.04" fill="#9db9bd"/><rect x="88.58" fill="#2f2f41"/><rect x="94.11" fill="#121219"/><rect x="99.65" fill="#13131b"/><rect x="105.2" fill="#13131b"/><rect x="110.7" fill="#262635"/><rect x="116.3" fill="#07070a"/><rect x="121.8" fill="#262635"/><rect x="127.3" fill="#050507"/><rect x="132.9" fill="#0c0c11"/><rect x="138.4" fill="#0e0e14"/><rect x="143.9" fill="#272736"/><rect x="149.5" fill="#171720"/><rect x="155" fill="#13131a"/><rect x="160.5" fill="#262635"/><rect x="166.1" fill="#98b2b8"/><rect x="171.6" fill="#16161e"/><rect x="177.2" fill="#191922"/><rect x="182.7" fill="#21212e"/><rect x="188.2" fill="#21212e"/><rect x="193.8" fill="#1d1d28"/><rect x="199.3" fill="#111118"/><rect x="204.8" fill="#37374c"/><rect x="210.4" fill="#0a0a0e"/><rect x="215.9" fill="#252533"/><rect x="221.4" fill="#1e1e29"/><rect x="227" fill="#21212d"/><rect x="232.5" fill="#0b0b0f"/><rect x="238" fill="#15151d"/><rect x="243.6" fill="#22222f"/><rect x="249.1" fill="#1a1a25"/><rect x="254.7" fill="#09090c"/><rect x="260.2" fill="#16161e"/><rect x="265.7" fill="#94acb4"/><rect x="271.3" fill="#0d0d12"/>
</g>
<g transform="translate(36.80 578.07)">
<rect x="0" fill="#0b0b10"/><rect x="5.536" fill="#101016"/><rect x="11.07" fill="#1f1f2b"/><rect x="16.61" fill="#252533"/><rect x="22.14" fill="#0a0a0e"/><rect x="27.68" fill="#343447"/><rect x="33.22" fill="#0e0e13"/><rect x="38.75" fill="#111117"/><rect x="44.29" fill="#181822"/><rect x="49.82" fill="#0a0a0e"/><rect x="55.36" fill="#111117"/><rect x="60.9" fill="#0b0b10"/><rect x="66.43" fill="#2a2a3a"/><rect x="71.97" fill="#20202d"/><rect x="77.5" fill="#08080b"/><rect x="83.04" fill="#292939"/><rect x="88.58" fill="#08080b"/><rect x="94.11" fill="#13131a"/><rect x="99.65" fill="#2a2a3a"/><rect x="105.2" fill="#232330"/><rect x="110.7" fill="#20202d"/><rect x="116.3" fill="#15151d"/><rect x="121.8" fill="#3a3a51"/><rect x="127.3" fill="#1d1d28"/><rect x="132.9" fill="#08080b"/><rect x="138.4" fill="#0c0c11"/><rect x="143.9" fill="#13131a"/><rect x="149.5" fill="#050507"/><rect x="155" fill="#13131b"/><rect x="160.5" fill="#232330"/><rect x="166.1" fill="#1f1f2b"/><rect x="171.6" fill="#171720"/><rect x="177.2" fill="#1c1c27"/><rect x="182.7" fill="#16161e"/><rect x="188.2" fill="#3e3e56"/><rect x="193.8" fill="#1b1b26"/><rect x="199.3" fill="#14141b"/><rect x="204.8" fill="#21212d"/><rect x="210.4" fill="#272736"/><rect x="215.9" fill="#15151d"/><rect x="221.4" fill="#1a1a24"/><rect x="227" fill="#21212e"/><rect x="232.5" fill="#14141c"/><rect x="238" fill="#0d0d12"/><rect x="243.6" fill="#20202c"/><rect x="249.1" fill="#262635"/><rect x="254.7" fill="#22222f"/><rect x="260.2" fill="#1f1f2b"/><rect x="265.7" fill="#252533"/><rect x="271.3" fill="#1e1e2a"/>
</g>
<g transform="translate(36.80 585.39)">
<rect x="0" fill="#1d1d28"/><rect x="5.536" fill="#16161e"/><rect x="11.07" fill="#101016"/><rect x="16.61" fill="#1c1c27"/><rect x="22.14" fill="#08080b"/><rect x="27.68" fill="#14141c"/><rect x="33.22" fill="#22222f"/><rect x="38.75" fill="#20202c"/><rect x="44.29" fill="#1c1c27"/><rect x="49.82" fill="#0e0e13"/><rect x="55.36" fill="#14141c"/><rect x="60.9" fill="#16161e"/><rect x="66.43" fill="#1c1c27"/><rect x="71.97" fill="#14141c"/><rect x="77.5" fill="#1e1e2a"/><rect x="83.04" fill="#282837"/><rect x="88.58" fill="#38384e"/><rect x="94.11" fill="#1d1d29"/><rect x="99.65" fill="#22222f"/><rect x="105.2" fill="#13131a"/><rect x="110.7" fill="#333346"/><rect x="116.3" fill="#2a2a3a"/><rect x="121.8" fill="#050508"/><rect x="127.3" fill="#191923"/><rect x="132.9" fill="#0a0a0e"/><rect x="138.4" fill="#22222f"/><rect x="143.9" fill="#282838"/><rect x="149.5" fill="#181821"/><rect x="155" fill="#08080b"/><rect x="160.5" fill="#1a1a24"/><rect x="166.1" fill="#191923"/><rect x="171.6" fill="#20202c"/><rect x="177.2" fill="#181821"/><rect x="182.7" fill="#3a3a51"/><rect x="188.2" fill="#242432"/><rect x="193.8" fill="#181822"/><rect x="199.3" fill="#14141c"/><rect x="204.8" fill="#292938"/><rect x="210.4" fill="#0c0c11"/><rect x="215.9" fill="#1e1e2a"/><rect x="221.4" fill="#13131b"/><rect x="227" fill="#21212e"/><rect x="232.5" fill="#09090c"/><rect x="238" fill="#2a2a3a"/><rect x="243.6" fill="#121219"/><rect x="249.1" fill="#060609"/><rect x="254.7" fill="#0f0f14"/><rect x="260.2" fill="#13131b"/><rect x="265.7" fill="#040406"/><rect x="271.3" fill="#14141c"/>
</g>
<g transform="translate(36.80 592.71)">
<rect x="0" fill="#14141c"/><rect x="5.536" fill="#1f1f2b"/><rect x="11.07" fill="#121218"/><rect x="16.61" fill="#0e0e14"/><rect x="22.14" fill="#0d0d12"/><rect x="27.68" fill="#353549"/><rect x="33.22" fill="#282838"/><rect x="38.75" fill="#181822"/><rect x="44.29" fill="#0c0c11"/><rect x="49.82" fill="#232330"/><rect x="55.36" fill="#13131b"/><rect x="60.9" fill="#3a3a51"/><rect x="66.43" fill="#3f3f57"/><rect x="71.97" fill="#22222f"/><rect x="77.5" fill="#232331"/><rect x="83.04" fill="#1c1c28"/><rect x="88.58" fill="#16161f"/><rect x="94.11" fill="#1a1a24"/><rect x="99.65" fill="#0d0d12"/><rect x="105.2" fill="#292939"/><rect x="110.7" fill="#121219"/><rect x="116.3" fill="#1d1d28"/><rect x="121.8" fill="#242431"/><rect x="127.3" fill="#242431"/><rect x="132.9" fill="#16161f"/><rect x="138.4" fill="#0f0f15"/><rect x="143.9" fill="#191923"/><rect x="149.5" fill="#09090c"/><rect x="155" fill="#242432"/><rect x="160.5" fill="#121219"/><rect x="166.1" fill="#252533"/><rect x="171.6" fill="#0e0e14"/><rect x="177.2" fill="#13131a"/><rect x="182.7" fill="#0e0e13"/><rect x="188.2" fill="#14141c"/><rect x="193.8" fill="#0b0b10"/><rect x="199.3" fill="#040406"/><rect x="204.8" fill="#20202c"/><rect x="210.4" fill="#0f0f15"/><rect x="215.9" fill="#0d0d13"/><rect x="221.4" fill="#101016"/><rect x="227" fill="#17171f"/><rect x="232.5" fill="#15151d"/><rect x="238" fill="#1d1d28"/><rect x="243.6" fill="#1d1d29"/><rect x="249.1" fill="#121219"/><rect x="254.7" fill="#282837"/><rect x="260.2" fill="#252533"/><rect x="265.7" fill="#060609"/><rect x="271.3" fill="#242432"/>
</g>
<g transform="translate(36.80 600.02)">
<rect x="0" fill="#272736"/><rect x="5.536" fill="#222230"/><rect x="11.07" fill="#09090d"/><rect x="16.61" fill="#242432"/><rect x="22.14" fill="#1c1c27"/><rect x="27.68" fill="#050506"/><rect x="33.22" fill="#040406"/><rect x="38.75" fill="#292938"/><rect x="44.29" fill="#1d1d29"/><rect x="49.82" fill="#0e0e13"/><rect x="55.36" fill="#08080b"/><rect x="60.9" fill="#09090d"/><rect x="66.43" fill="#0d0d12"/><rect x="71.97" fill="#22222f"/><rect x="77.5" fill="#111118"/><rect x="83.04" fill="#0a0a0e"/><rect x="88.58" fill="#272736"/><rect x="94.11" fill="#232330"/><rect x="99.65" fill="#0a0a0f"/><rect x="105.2" fill="#262635"/><rect x="110.7" fill="#1b1b26"/><rect x="116.3" fill="#22222f"/><rect x="121.8" fill="#39394f"/><rect x="127.3" fill="#272735"/><rect x="132.9" fill="#222230"/><rect x="138.4" fill="#323245"/><rect x="143.9" fill="#0c0c10"/><rect x="149.5" fill="#1f1f2b"/><rect x="155" fill="#181822"/><rect x="160.5" fill="#21212d"/><rect x="166.1" fill="#15151d"/><rect x="171.6" fill="#262635"/><rect x="177.2" fill="#191923"/><rect x="182.7" fill="#0e0e14"/><rect x="188.2" fill="#0d0d12"/><rect x="193.8" fill="#09090d"/><rect x="199.3" fill="#171720"/><rect x="204.8" fill="#060609"/><rect x="210.4" fill="#16161f"/><rect x="215.9" fill="#0a0a0d"/><rect x="221.4" fill="#171720"/><rect x="227" fill="#171720"/><rect x="232.5" fill="#191922"/><rect x="238" fill="#252534"/><rect x="243.6" fill="#040406"/><rect x="249.1" fill="#242433"/><rect x="254.7" fill="#16161f"/><rect x="260.2" fill="#1a1a24"/><rect x="265.7" fill="#1e1e29"/><rect x="271.3" fill="#303042"/>
</g>
<g transform="translate(36.80 607.34)">
<rect x="0" fill="#12121a"/><rect x="5.536" fill="#14141c"/><rect x="11.07" fill="#292939"/><rect x="16.61" fill="#07070a"/><rect x="22.14" fill="#1d1d28"/><rect x="27.68" fill="#1d1d28"/><rect x="33.22" fill="#313143"/><rect x="38.75" fill="#1c1c26"/><rect x="44.29" fill="#1e1e2a"/><rect x="49.82" fill="#282837"/><rect x="55.36" fill="#111117"/><rect x="60.9" fill="#2a2a3a"/><rect x="66.43" fill="#181821"/><rect x="71.97" fill="#171720"/><rect x="77.5" fill="#272736"/><rect x="83.04" fill="#050507"/><rect x="88.58" fill="#20202c"/><rect x="94.11" fill="#1c1c27"/><rect x="99.65" fill="#111118"/><rect x="105.2" fill="#252534"/><rect x="110.7" fill="#121219"/><rect x="116.3" fill="#16161f"/><rect x="121.8" fill="#181822"/><rect x="127.3" fill="#38384e"/><rect x="132.9" fill="#0c0c11"/><rect x="138.4" fill="#15151d"/><rect x="143.9" fill="#14141c"/><rect x="149.5" fill="#191923"/><rect x="155" fill="#242432"/><rect x="160.5" fill="#0f0f15"/><rect x="166.1" fill="#242432"/><rect x="171.6" fill="#36364b"/><rect x="177.2" fill="#171721"/><rect x="182.7" fill="#0e0e14"/><rect x="188.2" fill="#181821"/><rect x="193.8" fill="#2a2a3a"/><rect x="199.3" fill="#1d1d29"/><rect x="204.8" fill="#232330"/><rect x="210.4" fill="#111117"/><rect x="215.9" fill="#101017"/><rect x="221.4" fill="#101016"/><rect x="227" fill="#1b1b25"/><rect x="232.5" fill="#1d1d28"/><rect x="238" fill="#222230"/><rect x="243.6" fill="#060608"/><rect x="249.1" fill="#20202c"/><rect x="254.7" fill="#262635"/><rect x="260.2" fill="#191923"/><rect x="265.7" fill="#060608"/><rect x="271.3" fill="#101016"/>
</g>
<g transform="translate(36.80 614.66)">
<rect x="0" fill="#040406"/><rect x="5.536" fill="#39394f"/><rect x="11.07" fill="#282837"/><rect x="16.61" fill="#1c1c26"/><rect x="22.14" fill="#1d1d29"/><rect x="27.68" fill="#a4c3c4"/><rect x="33.22" fill="#272736"/><rect x="38.75" fill="#1c1c26"/><rect x="44.29" fill="#1c1c27"/><rect x="49.82" fill="#1c1c27"/><rect x="55.36" fill="#1f1f2b"/><rect x="60.9" fill="#1b1b26"/><rect x="66.43" fill="#1e1e2a"/><rect x="71.97" fill="#0c0c11"/><rect x="77.5" fill="#1e1e29"/><rect x="83.04" fill="#16161e"/><rect x="88.58" fill="#21212e"/><rect x="94.11" fill="#08080b"/><rect x="99.65" fill="#9fbcbf"/><rect x="105.2" fill="#050508"/><rect x="110.7" fill="#a2bfc1"/><rect x="116.3" fill="#272736"/><rect x="121.8" fill="#1d1d29"/><rect x="127.3" fill="#121219"/><rect x="132.9" fill="#242432"/><rect x="138.4" fill="#222230"/><rect x="143.9" fill="#1a1a24"/><rect x="149.5" fill="#0e0e13"/><rect x="155" fill="#101016"/><rect x="160.5" fill="#99b3b9"/><rect x="166.1" fill="#101017"/><rect x="171.6" fill="#15151d"/><rect x="177.2" fill="#1d1d28"/><rect x="182.7" fill="#282838"/><rect x="188.2" fill="#060609"/><rect x="193.8" fill="#1a1a24"/><rect x="199.3" fill="#050508"/><rect x="204.8" fill="#09090c"/><rect x="210.4" fill="#36364a"/><rect x="215.9" fill="#1a1a24"/><rect x="221.4" fill="#9ebabd"/><rect x="227" fill="#15151e"/><rect x="232.5" fill="#050506"/><rect x="238" fill="#13131a"/><rect x="243.6" fill="#1b1b25"/><rect x="249.1" fill="#282838"/><rect x="254.7" fill="#2a2a3a"/><rect x="260.2" fill="#16161f"/><rect x="265.7" fill="#14141c"/><rect x="271.3" fill="#08080b"/>
</g>
<g transform="translate(36.80 621.98)">
<rect x="0" fill="#1d1d28"/><rect x="5.536" fill="#333347"/><rect x="11.07" fill="#3a3a50"/><rect x="16.61" fill="#050506"/><rect x="22.14" fill="#040406"/><rect x="27.68" fill="#1e1e2a"/><rect x="33.22" fill="#404058"/><rect x="38.75" fill="#292939"/><rect x="44.29" fill="#07070a"/><rect x="49.82" fill="#262634"/><rect x="55.36" fill="#09090d"/><rect x="60.9" fill="#050507"/><rect x="66.43" fill="#20202c"/><rect x="71.97" fill="#0d0d13"/><rect x="77.5" fill="#20202d"/><rect x="83.04" fill="#0b0b10"/><rect x="88.58" fill="#060608"/><rect x="94.11" fill="#22222f"/><rect x="99.65" fill="#20202c"/><rect x="105.2" fill="#252533"/><rect x="110.7" fill="#20202d"/><rect x="116.3" fill="#07070a"/><rect x="121.8" fill="#1c1c27"/><rect x="127.3" fill="#1f1f2c"/><rect x="132.9" fill="#16161e"/><rect x="138.4" fill="#282837"/><rect x="143.9" fill="#0e0e13"/><rect x="149.5" fill="#292939"/><rect x="155" fill="#20202c"/><rect x="160.5" fill="#040406"/><rect x="166.1" fill="#050506"/><rect x="171.6" fill="#1d1d28"/><rect x="177.2" fill="#242431"/><rect x="182.7" fill="#07070a"/><rect x="188.2" fill="#101016"/><rect x="193.8" fill="#20202d"/><rect x="199.3" fill="#0a0a0f"/><rect x="204.8" fill="#252534"/><rect x="210.4" fill="#171720"/><rect x="215.9" fill="#060609"/><rect x="221.4" fill="#121219"/><rect x="227" fill="#1a1a24"/><rect x="232.5" fill="#15151d"/><rect x="238" fill="#1e1e2a"/><rect x="243.6" fill="#0a0a0d"/><rect x="249.1" fill="#232330"/><rect x="254.7" fill="#121219"/><rect x="260.2" fill="#1d1d28"/><rect x="265.7" fill="#1c1c27"/><rect x="271.3" fill="#14141c"/>
</g>
</g>
<path d="M36.8 519.52H313.6M36.8 526.84H313.6M36.8 534.16H313.6M36.8 541.48H313.6M36.8 548.79H313.6M36.8 556.11H313.6M36.8 563.43H313.6M36.8 570.75H313.6M36.8 578.07H313.6M36.8 585.39H313.6M36.8 592.71H313.6M36.8 600.02H313.6M36.8 607.34H313.6M36.8 614.66H313.6M36.8 621.98H313.6" stroke="#fff" stroke-opacity=".82" stroke-width=".9" fill="none"/>
<rect x="36.8" y="512.2" width="276.8" height="117.1" fill="none" stroke="#333" stroke-width=".7"/>
<path d="M39.6 512.2v1.6M89.4 512.2v1.6M144.8 512.2v1.6M200.1 512.2v1.6M255.5 512.2v1.6M310.8 512.2v1.6M36.8 515.9h1.8M36.8 552.5h1.8M36.8 589.0h1.8M36.8 625.6h1.8" stroke="#222" stroke-width=".6" fill="none"/>
<g shape-rendering="crispEdges" class="h">
<g transform="translate(390.00 393.50)">
<rect x="0" fill="#bbd3d3"/><rect x="5.544" fill="#b0cdcd"/><rect x="11.09" fill="#c4d9d9"/><rect x="16.63" fill="#b2cece"/><rect x="22.18" fill="#adcbcb"/><rect x="27.72" fill="#b7d1d1"/><rect x="33.26" fill="#bbd4d4"/><rect x="38.81" fill="#bbd4d4"/><rect x="44.35" fill="#aecbcb"/><rect x="49.9" fill="#c2d8d8"/><rect x="55.44" fill="#b4cfcf"/><rect x="60.98" fill="#c6dbdb"/><rect x="66.53" fill="#b5d0d0"/><rect x="72.07" fill="#abc9c9"/><rect x="77.62" fill="#abcaca"/><rect x="83.16" fill="#b5d0d0"/><rect x="88.7" fill="#bed6d6"/><rect x="94.25" fill="#b8d2d2"/><rect x="99.79" fill="#c2d8d8"/><rect x="105.3" fill="#c3d9d9"/><rect x="110.9" fill="#c3d8d8"/><rect x="116.4" fill="#bcd4d4"/><rect x="122" fill="#c4d9d9"/><rect x="127.5" fill="#bed6d6"/><rect x="133.1" fill="#adcbcb"/><rect x="138.6" fill="#b3cfcf"/><rect x="144.1" fill="#b1cdcd"/><rect x="149.7" fill="#adcbcb"/><rect x="155.2" fill="#c4d9d9"/><rect x="160.8" fill="#b9d2d2"/><rect x="166.3" fill="#afcccc"/><rect x="171.9" fill="#c2d8d8"/><rect x="177.4" fill="#b5d0d0"/><rect x="183" fill="#b1cdcd"/><rect x="188.5" fill="#bfd6d6"/><rect x="194" fill="#afcccc"/><rect x="199.6" fill="#c5dada"/><rect x="205.1" fill="#c5dada"/><rect x="210.7" fill="#accaca"/><rect x="216.2" fill="#bad3d3"/><rect x="221.8" fill="#abc9c9"/><rect x="227.3" fill="#c4d9d9"/><rect x="232.8" fill="#b2cece"/><rect x="238.4" fill="#b9d2d2"/><rect x="243.9" fill="#bfd6d6"/><rect x="249.5" fill="#c0d7d7"/><rect x="255" fill="#b8d2d2"/><rect x="260.6" fill="#adcbcb"/><rect x="266.1" fill="#b3cfcf"/><rect x="271.7" fill="#abc9c9"/>
</g>
<g transform="translate(390.00 400.78)">
<rect x="0" fill="#cddfdf"/><rect x="5.544" fill="#dae7e7"/><rect x="11.09" fill="#d7e5e5"/><rect x="16.63" fill="#d3e3e3"/><rect x="22.18" fill="#d8e6e6"/><rect x="27.72" fill="#d4e3e3"/><rect x="33.26" fill="#d1e2e2"/><rect x="38.81" fill="#d2e2e2"/><rect x="44.35" fill="#d2e2e2"/><rect x="49.9" fill="#d2e2e2"/><rect x="55.44" fill="#d3e3e3"/><rect x="60.98" fill="#dce8e8"/><rect x="66.53" fill="#deeaea"/><rect x="72.07" fill="#deeaea"/><rect x="77.62" fill="#d4e3e3"/><rect x="83.16" fill="#deeaea"/><rect x="88.7" fill="#dbe8e8"/><rect x="94.25" fill="#ccdfdf"/><rect x="99.79" fill="#dce9e9"/><rect x="105.3" fill="#cbdddd"/><rect x="110.9" fill="#d7e5e5"/><rect x="116.4" fill="#d1e2e2"/><rect x="122" fill="#dae7e7"/><rect x="127.5" fill="#dbe8e8"/><rect x="133.1" fill="#dfebeb"/><rect x="138.6" fill="#deeaea"/><rect x="144.1" fill="#d2e2e2"/><rect x="149.7" fill="#c9dddd"/><rect x="155.2" fill="#cadddd"/><rect x="160.8" fill="#dfebeb"/><rect x="166.3" fill="#d0e1e1"/><rect x="171.9" fill="#cee0e0"/><rect x="177.4" fill="#cbdede"/><rect x="183" fill="#d1e2e2"/><rect x="188.5" fill="#d0e1e1"/><rect x="194" fill="#dae7e7"/><rect x="199.6" fill="#cddfdf"/><rect x="205.1" fill="#d3e3e3"/><rect x="210.7" fill="#deeaea"/><rect x="216.2" fill="#d3e3e3"/><rect x="221.8" fill="#ccdfdf"/><rect x="227.3" fill="#d3e3e3"/><rect x="232.8" fill="#cfe0e0"/><rect x="238.4" fill="#c9dddd"/><rect x="243.9" fill="#d6e5e5"/><rect x="249.5" fill="#d0e1e1"/><rect x="255" fill="#dce8e8"/><rect x="260.6" fill="#cfe0e0"/><rect x="266.1" fill="#cbdede"/><rect x="271.7" fill="#d3e3e3"/>
</g>
<g transform="translate(390.00 408.06)">
<rect x="0" fill="#17171f"/><rect x="5.544" fill="#0a0a0e"/><rect x="11.09" fill="#181821"/><rect x="16.63" fill="#1c1c27"/><rect x="22.18" fill="#222230"/><rect x="27.72" fill="#282837"/><rect x="33.26" fill="#1a1a24"/><rect x="38.81" fill="#242432"/><rect x="44.35" fill="#09090c"/><rect x="49.9" fill="#21212e"/><rect x="55.44" fill="#2a2a3a"/><rect x="60.98" fill="#15151d"/><rect x="66.53" fill="#0e0e14"/><rect x="72.07" fill="#0d0d12"/><rect x="77.62" fill="#0d0d12"/><rect x="83.16" fill="#13131a"/><rect x="88.7" fill="#14141c"/><rect x="94.25" fill="#0a0a0e"/><rect x="99.79" fill="#242432"/><rect x="105.3" fill="#2a2a3a"/><rect x="110.9" fill="#0a0a0d"/><rect x="116.4" fill="#1d1d28"/><rect x="122" fill="#15151d"/><rect x="127.5" fill="#181821"/><rect x="133.1" fill="#181821"/><rect x="138.6" fill="#15151d"/><rect x="144.1" fill="#222230"/><rect x="149.7" fill="#282838"/><rect x="155.2" fill="#0f0f15"/><rect x="160.8" fill="#121219"/><rect x="166.3" fill="#060608"/><rect x="171.9" fill="#14141c"/><rect x="177.4" fill="#0f0f14"/><rect x="183" fill="#0b0b0f"/><rect x="188.5" fill="#252533"/><rect x="194" fill="#181822"/><rect x="199.6" fill="#0d0d12"/><rect x="205.1" fill="#0b0b0f"/><rect x="210.7" fill="#1b1b26"/><rect x="216.2" fill="#242432"/><rect x="221.8" fill="#262635"/><rect x="227.3" fill="#20202d"/><rect x="232.8" fill="#21212e"/><rect x="238.4" fill="#0b0b0f"/><rect x="243.9" fill="#09090d"/><rect x="249.5" fill="#1e1e29"/><rect x="255" fill="#1c1c27"/><rect x="260.6" fill="#0b0b10"/><rect x="266.1" fill="#101016"/><rect x="271.7" fill="#040406"/>
</g>
<g transform="translate(390.00 415.34)">
<rect x="0" fill="#1f1f2b"/><rect x="5.544" fill="#181821"/><rect x="11.09" fill="#242433"/><rect x="16.63" fill="#272737"/><rect x="22.18" fill="#181821"/><rect x="27.72" fill="#111118"/><rect x="33.26" fill="#0f0f15"/><rect x="38.81" fill="#1d1d28"/><rect x="44.35" fill="#292938"/><rect x="49.9" fill="#07070a"/><rect x="55.44" fill="#14141c"/><rect x="60.98" fill="#21212e"/><rect x="66.53" fill="#09090d"/><rect x="72.07" fill="#1e1e29"/><rect x="77.62" fill="#0e0e13"/><rect x="83.16" fill="#1a1a24"/><rect x="88.7" fill="#2a2a3a"/><rect x="94.25" fill="#050508"/><rect x="99.79" fill="#1f1f2b"/><rect x="105.3" fill="#1a1a24"/><rect x="110.9" fill="#252533"/><rect x="116.4" fill="#121219"/><rect x="122" fill="#282837"/><rect x="127.5" fill="#292939"/><rect x="133.1" fill="#070709"/><rect x="138.6" fill="#121219"/><rect x="144.1" fill="#0d0d13"/><rect x="149.7" fill="#242432"/><rect x="155.2" fill="#272736"/><rect x="160.8" fill="#22222f"/><rect x="166.3" fill="#262634"/><rect x="171.9" fill="#1a1a24"/><rect x="177.4" fill="#272736"/><rect x="183" fill="#0f0f15"/><rect x="188.5" fill="#08080b"/><rect x="194" fill="#20202d"/><rect x="199.6" fill="#15151e"/><rect x="205.1" fill="#050507"/><rect x="210.7" fill="#232331"/><rect x="216.2" fill="#09090d"/><rect x="221.8" fill="#0d0d13"/><rect x="227.3" fill="#07070a"/><rect x="232.8" fill="#1c1c27"/><rect x="238.4" fill="#0a0a0f"/><rect x="243.9" fill="#101016"/><rect x="249.5" fill="#191923"/><rect x="255" fill="#292939"/><rect x="260.6" fill="#050507"/><rect x="266.1" fill="#282837"/><rect x="271.7" fill="#21212d"/>
</g>
<g transform="translate(390.00 422.62)">
<rect x="0" fill="#8a9faa"/><rect x="5.544" fill="#8ca1ac"/><rect x="11.09" fill="#c0d7d7"/><rect x="16.63" fill="#869aa6"/><rect x="22.18" fill="#8a9faa"/><rect x="27.72" fill="#c0d6d6"/><rect x="33.26" fill="#8598a5"/><rect x="38.81" fill="#1c1c26"/><rect x="44.35" fill="#a6c6c6"/><rect x="49.9" fill="#b9d2d2"/><rect x="55.44" fill="#c1d7d7"/><rect x="60.98" fill="#bfd6d6"/><rect x="66.53" fill="#bbd4d4"/><rect x="72.07" fill="#bad3d3"/><rect x="77.62" fill="#c1d7d7"/><rect x="83.16" fill="#b5cfcf"/><rect x="88.7" fill="#91a8b1"/><rect x="94.25" fill="#8ca1ac"/><rect x="99.79" fill="#c0d7d7"/><rect x="105.3" fill="#c5dada"/><rect x="110.9" fill="#b7d1d1"/><rect x="116.4" fill="#8fa6af"/><rect x="122" fill="#c2d8d8"/><rect x="127.5" fill="#0c0c11"/><rect x="133.1" fill="#bfd6d6"/><rect x="138.6" fill="#bed6d6"/><rect x="144.1" fill="#92aab2"/><rect x="149.7" fill="#111118"/><rect x="155.2" fill="#b7d1d1"/><rect x="160.8" fill="#bcd4d4"/><rect x="166.3" fill="#b7d1d1"/><rect x="171.9" fill="#b7d1d1"/><rect x="177.4" fill="#92aab2"/><rect x="183" fill="#879ba7"/><rect x="188.5" fill="#c3d9d9"/><rect x="194" fill="#0e0e13"/><rect x="199.6" fill="#1c1c27"/><rect x="205.1" fill="#c1d7d7"/><rect x="210.7" fill="#879aa7"/><rect x="216.2" fill="#c1d7d7"/><rect x="221.8" fill="#c2d8d8"/><rect x="227.3" fill="#0e0e13"/><rect x="232.8" fill="#bcd4d4"/><rect x="238.4" fill="#bed5d5"/><rect x="243.9" fill="#c2d8d8"/><rect x="249.5" fill="#c3d8d8"/><rect x="255" fill="#1e1e2a"/><rect x="260.6" fill="#bfd6d6"/><rect x="266.1" fill="#c5dada"/><rect x="271.7" fill="#c1d8d8"/>
</g>
<g transform="translate(390.00 429.91)">
<rect x="0" fill="#d0e1e1"/><rect x="5.544" fill="#cddfdf"/><rect x="11.09" fill="#d8e6e6"/><rect x="16.63" fill="#cee0e0"/><rect x="22.18" fill="#d3e3e3"/><rect x="27.72" fill="#d2e2e2"/><rect x="33.26" fill="#e0ebeb"/><rect x="38.81" fill="#d3e3e3"/><rect x="44.35" fill="#cadddd"/><rect x="49.9" fill="#e0ebeb"/><rect x="55.44" fill="#dfebeb"/><rect x="60.98" fill="#cadddd"/><rect x="66.53" fill="#dde9e9"/><rect x="72.07" fill="#d7e6e6"/><rect x="77.62" fill="#deeaea"/><rect x="83.16" fill="#d7e6e6"/><rect x="88.7" fill="#d7e6e6"/><rect x="94.25" fill="#dce8e8"/><rect x="99.79" fill="#cadddd"/><rect x="105.3" fill="#cbdede"/><rect x="110.9" fill="#ccdede"/><rect x="116.4" fill="#c9dcdc"/><rect x="122" fill="#cee0e0"/><rect x="127.5" fill="#cadddd"/><rect x="133.1" fill="#cbdede"/><rect x="138.6" fill="#d1e1e1"/><rect x="144.1" fill="#cddfdf"/><rect x="149.7" fill="#cadddd"/><rect x="155.2" fill="#dfebeb"/><rect x="160.8" fill="#deeaea"/><rect x="166.3" fill="#deeaea"/><rect x="171.9" fill="#cbdede"/><rect x="177.4" fill="#d7e5e5"/><rect x="183" fill="#dfeaea"/><rect x="188.5" fill="#d3e3e3"/><rect x="194" fill="#d5e4e4"/><rect x="199.6" fill="#dde9e9"/><rect x="205.1" fill="#deeaea"/><rect x="210.7" fill="#d6e5e5"/><rect x="216.2" fill="#cfe0e0"/><rect x="221.8" fill="#dae7e7"/><rect x="227.3" fill="#dae7e7"/><rect x="232.8" fill="#cfe1e1"/><rect x="238.4" fill="#d3e3e3"/><rect x="243.9" fill="#d9e7e7"/><rect x="249.5" fill="#cee0e0"/><rect x="255" fill="#d2e2e2"/><rect x="260.6" fill="#d6e4e4"/><rect x="266.1" fill="#d1e2e2"/><rect x="271.7" fill="#deeaea"/>
</g>
<g transform="translate(390.00 437.19)">
<rect x="0" fill="#a8c7c7"/><rect x="5.544" fill="#9ebabe"/><rect x="11.09" fill="#a3c2c3"/><rect x="16.63" fill="#8ba1ab"/><rect x="22.18" fill="#1c1c27"/><rect x="27.72" fill="#abcaca"/><rect x="33.26" fill="#171720"/><rect x="38.81" fill="#accaca"/><rect x="44.35" fill="#15151d"/><rect x="49.9" fill="#a3c1c2"/><rect x="55.44" fill="#a6c5c6"/><rect x="60.98" fill="#8ca2ac"/><rect x="66.53" fill="#accaca"/><rect x="72.07" fill="#9fbbbe"/><rect x="77.62" fill="#14141b"/><rect x="83.16" fill="#9db9bd"/><rect x="88.7" fill="#111118"/><rect x="94.25" fill="#8da3ad"/><rect x="99.79" fill="#a2c0c2"/><rect x="105.3" fill="#525271"/><rect x="110.9" fill="#09090d"/><rect x="116.4" fill="#a6c6c6"/><rect x="122" fill="#accaca"/><rect x="127.5" fill="#a3c1c2"/><rect x="133.1" fill="#8699a6"/><rect x="138.6" fill="#8699a6"/><rect x="144.1" fill="#abc9c9"/><rect x="149.7" fill="#0b0b0f"/><rect x="155.2" fill="#accaca"/><rect x="160.8" fill="#9fbbbf"/><rect x="166.3" fill="#9dbabd"/><rect x="171.9" fill="#a7c6c6"/><rect x="177.4" fill="#a1bfc1"/><rect x="183" fill="#111118"/><rect x="188.5" fill="#1c1c27"/><rect x="194" fill="#a8c8c8"/><rect x="199.6" fill="#1a1a24"/><rect x="205.1" fill="#9cb8bc"/><rect x="210.7" fill="#555675"/><rect x="216.2" fill="#555675"/><rect x="221.8" fill="#595b79"/><rect x="227.3" fill="#a3c2c3"/><rect x="232.8" fill="#a1bfc1"/><rect x="238.4" fill="#a3c1c3"/><rect x="243.9" fill="#a8c8c8"/><rect x="249.5" fill="#575876"/><rect x="255" fill="#a1bfc1"/><rect x="260.6" fill="#101017"/><rect x="266.1" fill="#8da3ad"/><rect x="271.7" fill="#9cb8bc"/>
</g>
<g transform="translate(390.00 444.47)">
<rect x="0" fill="#0e0e14"/><rect x="5.544" fill="#899ea9"/><rect x="11.09" fill="#a6c6c6"/><rect x="16.63" fill="#09090d"/><rect x="22.18" fill="#accaca"/><rect x="27.72" fill="#a2c0c2"/><rect x="33.26" fill="#90a7b0"/><rect x="38.81" fill="#a3c1c3"/><rect x="44.35" fill="#9db9bd"/><rect x="49.9" fill="#a0bdbf"/><rect x="55.44" fill="#9ebabe"/><rect x="60.98" fill="#1f1f2a"/><rect x="66.53" fill="#5e637e"/><rect x="72.07" fill="#a6c5c6"/><rect x="77.62" fill="#a9c8c8"/><rect x="83.16" fill="#a4c3c4"/><rect x="88.7" fill="#9fbcbf"/><rect x="94.25" fill="#20202d"/><rect x="99.79" fill="#a7c7c7"/><rect x="105.3" fill="#0f0f15"/><rect x="110.9" fill="#8aa0aa"/><rect x="116.4" fill="#09090d"/><rect x="122" fill="#adcaca"/><rect x="127.5" fill="#14141c"/><rect x="133.1" fill="#14141c"/><rect x="138.6" fill="#9cb8bc"/><rect x="144.1" fill="#a9c8c8"/><rect x="149.7" fill="#0a0a0e"/><rect x="155.2" fill="#8da3ad"/><rect x="160.8" fill="#a5c5c5"/><rect x="166.3" fill="#a5c4c4"/><rect x="171.9" fill="#a9c8c8"/><rect x="177.4" fill="#606480"/><rect x="183" fill="#a6c6c6"/><rect x="188.5" fill="#a2c1c2"/><rect x="194" fill="#9fbcbf"/><rect x="199.6" fill="#1f1f2b"/><rect x="205.1" fill="#a3c2c3"/><rect x="210.7" fill="#a1bfc1"/><rect x="216.2" fill="#15151d"/><rect x="221.8" fill="#101016"/><rect x="227.3" fill="#8699a6"/><rect x="232.8" fill="#171720"/><rect x="238.4" fill="#545574"/><rect x="243.9" fill="#a8c8c8"/><rect x="249.5" fill="#a7c6c6"/><rect x="255" fill="#a1bec0"/><rect x="260.6" fill="#14141b"/><rect x="266.1" fill="#abcaca"/><rect x="271.7" fill="#a0bec0"/>
</g>
<g transform="translate(390.00 451.75)">
<rect x="0" fill="#040406"/><rect x="5.544" fill="#070709"/><rect x="11.09" fill="#0d0d12"/><rect x="16.63" fill="#14141c"/><rect x="22.18" fill="#171720"/><rect x="27.72" fill="#1d1d28"/><rect x="33.26" fill="#282837"/><rect x="38.81" fill="#0a0a0e"/><rect x="44.35" fill="#0b0b10"/><rect x="49.9" fill="#14141c"/><rect x="55.44" fill="#13131b"/><rect x="60.98" fill="#22222f"/><rect x="66.53" fill="#272736"/><rect x="72.07" fill="#1b1b25"/><rect x="77.62" fill="#1f1f2b"/><rect x="83.16" fill="#21212e"/><rect x="88.7" fill="#08080b"/><rect x="94.25" fill="#121219"/><rect x="99.79" fill="#121219"/><rect x="105.3" fill="#07070a"/><rect x="110.9" fill="#101016"/><rect x="116.4" fill="#0b0b0f"/><rect x="122" fill="#1d1d29"/><rect x="127.5" fill="#0f0f15"/><rect x="133.1" fill="#111118"/><rect x="138.6" fill="#282838"/><rect x="144.1" fill="#181821"/><rect x="149.7" fill="#2a2a3a"/><rect x="155.2" fill="#1c1c27"/><rect x="160.8" fill="#181822"/><rect x="166.3" fill="#242431"/><rect x="171.9" fill="#0c0c11"/><rect x="177.4" fill="#272735"/><rect x="183" fill="#14141c"/><rect x="188.5" fill="#060609"/><rect x="194" fill="#1a1a24"/><rect x="199.6" fill="#08080b"/><rect x="205.1" fill="#1a1a24"/><rect x="210.7" fill="#1c1c27"/><rect x="216.2" fill="#20202c"/><rect x="221.8" fill="#1f1f2b"/><rect x="227.3" fill="#040406"/><rect x="232.8" fill="#040406"/><rect x="238.4" fill="#1f1f2c"/><rect x="243.9" fill="#191923"/><rect x="249.5" fill="#272737"/><rect x="255" fill="#13131b"/><rect x="260.6" fill="#08080b"/><rect x="266.1" fill="#050506"/><rect x="271.7" fill="#050507"/>
</g>
<g transform="translate(390.00 459.03)">
<rect x="0" fill="#cddfdf"/><rect x="5.544" fill="#dbe8e8"/><rect x="11.09" fill="#d6e5e5"/><rect x="16.63" fill="#dde9e9"/><rect x="22.18" fill="#deeaea"/><rect x="27.72" fill="#d5e4e4"/><rect x="33.26" fill="#ccdede"/><rect x="38.81" fill="#cddfdf"/><rect x="44.35" fill="#d7e5e5"/><rect x="49.9" fill="#ccdede"/><rect x="55.44" fill="#d5e4e4"/><rect x="60.98" fill="#d5e4e4"/><rect x="66.53" fill="#c9dddd"/><rect x="72.07" fill="#cbdddd"/><rect x="77.62" fill="#dfeaea"/><rect x="83.16" fill="#d4e4e4"/><rect x="88.7" fill="#d4e3e3"/><rect x="94.25" fill="#d3e3e3"/><rect x="99.79" fill="#dbe8e8"/><rect x="105.3" fill="#d8e6e6"/><rect x="110.9" fill="#d9e6e6"/><rect x="116.4" fill="#d6e5e5"/><rect x="122" fill="#ccdede"/><rect x="127.5" fill="#cee0e0"/><rect x="133.1" fill="#cfe0e0"/><rect x="138.6" fill="#cadddd"/><rect x="144.1" fill="#d7e6e6"/><rect x="149.7" fill="#dde9e9"/><rect x="155.2" fill="#dfeaea"/><rect x="160.8" fill="#cadddd"/><rect x="166.3" fill="#cddfdf"/><rect x="171.9" fill="#d7e6e6"/><rect x="177.4" fill="#c9dddd"/><rect x="183" fill="#cee0e0"/><rect x="188.5" fill="#d2e2e2"/><rect x="194" fill="#dbe8e8"/><rect x="199.6" fill="#cadddd"/><rect x="205.1" fill="#cadddd"/><rect x="210.7" fill="#cee0e0"/><rect x="216.2" fill="#cee0e0"/><rect x="221.8" fill="#ccdfdf"/><rect x="227.3" fill="#d6e5e5"/><rect x="232.8" fill="#cddfdf"/><rect x="238.4" fill="#c9dcdc"/><rect x="243.9" fill="#dde9e9"/><rect x="249.5" fill="#d3e3e3"/><rect x="255" fill="#d3e3e3"/><rect x="260.6" fill="#cfe0e0"/><rect x="266.1" fill="#dde9e9"/><rect x="271.7" fill="#e0ebeb"/>
</g>
<g transform="translate(390.00 466.31)">
<rect x="0" fill="#cadddd"/><rect x="5.544" fill="#d9e6e6"/><rect x="11.09" fill="#d9e6e6"/><rect x="16.63" fill="#d6e5e5"/><rect x="22.18" fill="#d2e2e2"/><rect x="27.72" fill="#d2e2e2"/><rect x="33.26" fill="#d9e7e7"/><rect x="38.81" fill="#c9dddd"/><rect x="44.35" fill="#dde9e9"/><rect x="49.9" fill="#cbdede"/><rect x="55.44" fill="#cddfdf"/><rect x="60.98" fill="#d2e2e2"/><rect x="66.53" fill="#c9dcdc"/><rect x="72.07" fill="#dde9e9"/><rect x="77.62" fill="#d2e2e2"/><rect x="83.16" fill="#d1e2e2"/><rect x="88.7" fill="#d1e1e1"/><rect x="94.25" fill="#dde9e9"/><rect x="99.79" fill="#d1e1e1"/><rect x="105.3" fill="#d8e6e6"/><rect x="110.9" fill="#dfebeb"/><rect x="116.4" fill="#d3e3e3"/><rect x="122" fill="#deeaea"/><rect x="127.5" fill="#d6e5e5"/><rect x="133.1" fill="#d2e2e2"/><rect x="138.6" fill="#d4e3e3"/><rect x="144.1" fill="#d1e1e1"/><rect x="149.7" fill="#d3e3e3"/><rect x="155.2" fill="#cfe0e0"/><rect x="160.8" fill="#c9dddd"/><rect x="166.3" fill="#dce8e8"/><rect x="171.9" fill="#cee0e0"/><rect x="177.4" fill="#ccdede"/><rect x="183" fill="#cddfdf"/><rect x="188.5" fill="#d5e4e4"/><rect x="194" fill="#dbe8e8"/><rect x="199.6" fill="#d6e5e5"/><rect x="205.1" fill="#d4e3e3"/><rect x="210.7" fill="#dbe8e8"/><rect x="216.2" fill="#cee0e0"/><rect x="221.8" fill="#d1e2e2"/><rect x="227.3" fill="#cee0e0"/><rect x="232.8" fill="#d2e2e2"/><rect x="238.4" fill="#d7e6e6"/><rect x="243.9" fill="#d6e5e5"/><rect x="249.5" fill="#d0e1e1"/><rect x="255" fill="#d4e3e3"/><rect x="260.6" fill="#cedfdf"/><rect x="266.1" fill="#dde9e9"/><rect x="271.7" fill="#d9e6e6"/>
</g>
<g transform="translate(390.00 473.59)">
<rect x="0" fill="#282838"/><rect x="5.544" fill="#2b2b3b"/><rect x="11.09" fill="#1b1b25"/><rect x="16.63" fill="#15151d"/><rect x="22.18" fill="#2a2a3b"/><rect x="27.72" fill="#191922"/><rect x="33.26" fill="#14141b"/><rect x="38.81" fill="#181821"/><rect x="44.35" fill="#09090c"/><rect x="49.9" fill="#21212e"/><rect x="55.44" fill="#1e1e2a"/><rect x="60.98" fill="#08080b"/><rect x="66.53" fill="#252533"/><rect x="72.07" fill="#20202d"/><rect x="77.62" fill="#22222f"/><rect x="83.16" fill="#050507"/><rect x="88.7" fill="#20202c"/><rect x="94.25" fill="#0a0a0d"/><rect x="99.79" fill="#050506"/><rect x="105.3" fill="#1f1f2c"/><rect x="110.9" fill="#1f1f2b"/><rect x="116.4" fill="#22222f"/><rect x="122" fill="#0d0d12"/><rect x="127.5" fill="#0b0b10"/><rect x="133.1" fill="#262635"/><rect x="138.6" fill="#070709"/><rect x="144.1" fill="#272736"/><rect x="149.7" fill="#232331"/><rect x="155.2" fill="#21212e"/><rect x="160.8" fill="#0b0b10"/><rect x="166.3" fill="#20202c"/><rect x="171.9" fill="#07070a"/><rect x="177.4" fill="#0f0f15"/><rect x="183" fill="#242431"/><rect x="188.5" fill="#13131b"/><rect x="194" fill="#121219"/><rect x="199.6" fill="#252533"/><rect x="205.1" fill="#16161e"/><rect x="210.7" fill="#1c1c27"/><rect x="216.2" fill="#1c1c27"/><rect x="221.8" fill="#252534"/><rect x="227.3" fill="#282838"/><rect x="232.8" fill="#0b0b0f"/><rect x="238.4" fill="#121219"/><rect x="243.9" fill="#232330"/><rect x="249.5" fill="#1f1f2b"/><rect x="255" fill="#272736"/><rect x="260.6" fill="#050507"/><rect x="266.1" fill="#1f1f2b"/><rect x="271.7" fill="#16161e"/>
</g>
<g transform="translate(390.00 480.88)">
<rect x="0" fill="#2b2b3b"/><rect x="5.544" fill="#13131b"/><rect x="11.09" fill="#272736"/><rect x="16.63" fill="#08080b"/><rect x="22.18" fill="#0f0f15"/><rect x="27.72" fill="#0e0e14"/><rect x="33.26" fill="#1c1c26"/><rect x="38.81" fill="#0c0c11"/><rect x="44.35" fill="#1e1e2a"/><rect x="49.9" fill="#14141b"/><rect x="55.44" fill="#1b1b26"/><rect x="60.98" fill="#15151d"/><rect x="66.53" fill="#21212e"/><rect x="72.07" fill="#0a0a0e"/><rect x="77.62" fill="#21212d"/><rect x="83.16" fill="#191923"/><rect x="88.7" fill="#1c1c27"/><rect x="94.25" fill="#282838"/><rect x="99.79" fill="#1a1a24"/><rect x="105.3" fill="#0d0d12"/><rect x="110.9" fill="#171720"/><rect x="116.4" fill="#181821"/><rect x="122" fill="#282837"/><rect x="127.5" fill="#1e1e29"/><rect x="133.1" fill="#1a1a24"/><rect x="138.6" fill="#282838"/><rect x="144.1" fill="#08080c"/><rect x="149.7" fill="#21212e"/><rect x="155.2" fill="#1d1d29"/><rect x="160.8" fill="#272736"/><rect x="166.3" fill="#262634"/><rect x="171.9" fill="#1b1b25"/><rect x="177.4" fill="#1f1f2b"/><rect x="183" fill="#2a2a3a"/><rect x="188.5" fill="#1e1e2a"/><rect x="194" fill="#050508"/><rect x="199.6" fill="#101017"/><rect x="205.1" fill="#22222f"/><rect x="210.7" fill="#111118"/><rect x="216.2" fill="#272736"/><rect x="221.8" fill="#14141c"/><rect x="227.3" fill="#21212d"/><rect x="232.8" fill="#2b2b3b"/><rect x="238.4" fill="#1c1c27"/><rect x="243.9" fill="#0d0d11"/><rect x="249.5" fill="#181822"/><rect x="255" fill="#111118"/><rect x="260.6" fill="#292938"/><rect x="266.1" fill="#15151d"/><rect x="271.7" fill="#111118"/>
</g>
<g transform="translate(390.00 488.16)">
<rect x="0" fill="#d4e4e4"/><rect x="5.544" fill="#d9e7e7"/><rect x="11.09" fill="#dce9e9"/><rect x="16.63" fill="#d7e6e6"/><rect x="22.18" fill="#d5e4e4"/><rect x="27.72" fill="#d9e6e6"/><rect x="33.26" fill="#cedfdf"/><rect x="38.81" fill="#d8e6e6"/><rect x="44.35" fill="#dde9e9"/><rect x="49.9" fill="#dbe8e8"/><rect x="55.44" fill="#d4e4e4"/><rect x="60.98" fill="#cddfdf"/><rect x="66.53" fill="#dfeaea"/><rect x="72.07" fill="#dce9e9"/><rect x="77.62" fill="#d6e5e5"/><rect x="83.16" fill="#cddfdf"/><rect x="88.7" fill="#cddfdf"/><rect x="94.25" fill="#dbe8e8"/><rect x="99.79" fill="#cee0e0"/><rect x="105.3" fill="#cfe0e0"/><rect x="110.9" fill="#dfebeb"/><rect x="116.4" fill="#cddfdf"/><rect x="122" fill="#d1e1e1"/><rect x="127.5" fill="#cbdede"/><rect x="133.1" fill="#d8e6e6"/><rect x="138.6" fill="#ccdede"/><rect x="144.1" fill="#d9e6e6"/><rect x="149.7" fill="#d4e4e4"/><rect x="155.2" fill="#d4e3e3"/><rect x="160.8" fill="#d9e7e7"/><rect x="166.3" fill="#c9dcdc"/><rect x="171.9" fill="#d9e7e7"/><rect x="177.4" fill="#ccdede"/><rect x="183" fill="#d8e6e6"/><rect x="188.5" fill="#d9e7e7"/><rect x="194" fill="#ccdede"/><rect x="199.6" fill="#d9e7e7"/><rect x="205.1" fill="#d6e5e5"/><rect x="210.7" fill="#cee0e0"/><rect x="216.2" fill="#d7e6e6"/><rect x="221.8" fill="#cbdede"/><rect x="227.3" fill="#d3e3e3"/><rect x="232.8" fill="#dfeaea"/><rect x="238.4" fill="#d9e6e6"/><rect x="243.9" fill="#ccdfdf"/><rect x="249.5" fill="#e0ebeb"/><rect x="255" fill="#dce9e9"/><rect x="260.6" fill="#d2e2e2"/><rect x="266.1" fill="#cedfdf"/><rect x="271.7" fill="#d9e7e7"/>
</g>
<g transform="translate(390.00 495.44)">
<rect x="0" fill="#a3c1c3"/><rect x="5.544" fill="#0e0e13"/><rect x="11.09" fill="#9fbcbf"/><rect x="16.63" fill="#aac9c9"/><rect x="22.18" fill="#171720"/><rect x="27.72" fill="#8da3ad"/><rect x="33.26" fill="#8fa5af"/><rect x="38.81" fill="#9ebabe"/><rect x="44.35" fill="#121218"/><rect x="49.9" fill="#0a0a0e"/><rect x="55.44" fill="#20202c"/><rect x="60.98" fill="#111118"/><rect x="66.53" fill="#16161f"/><rect x="72.07" fill="#16161f"/><rect x="77.62" fill="#0c0c10"/><rect x="83.16" fill="#a6c6c6"/><rect x="88.7" fill="#abc9c9"/><rect x="94.25" fill="#1e1e29"/><rect x="99.79" fill="#0b0b0f"/><rect x="105.3" fill="#9fbbbf"/><rect x="110.9" fill="#a2c0c2"/><rect x="116.4" fill="#16161f"/><rect x="122" fill="#9db9bd"/><rect x="127.5" fill="#5d617d"/><rect x="133.1" fill="#1b1b26"/><rect x="138.6" fill="#9fbcbf"/><rect x="144.1" fill="#1b1b26"/><rect x="149.7" fill="#0c0c10"/><rect x="155.2" fill="#0a0a0e"/><rect x="160.8" fill="#1f1f2b"/><rect x="166.3" fill="#a1bec1"/><rect x="171.9" fill="#899ea9"/><rect x="177.4" fill="#91a8b0"/><rect x="183" fill="#889ba7"/><rect x="188.5" fill="#1d1d29"/><rect x="194" fill="#a6c6c6"/><rect x="199.6" fill="#a1bec1"/><rect x="205.1" fill="#191923"/><rect x="210.7" fill="#a6c5c6"/><rect x="216.2" fill="#5e637e"/><rect x="221.8" fill="#90a7af"/><rect x="227.3" fill="#14141c"/><rect x="232.8" fill="#aac9c9"/><rect x="238.4" fill="#1c1c26"/><rect x="243.9" fill="#20202d"/><rect x="249.5" fill="#0c0c11"/><rect x="255" fill="#545574"/><rect x="260.6" fill="#5f637e"/><rect x="266.1" fill="#8ea4ae"/><rect x="271.7" fill="#575977"/>
</g>
<g transform="translate(390.00 502.72)">
<rect x="0" fill="#0d0d12"/><rect x="5.544" fill="#09090d"/><rect x="11.09" fill="#282837"/><rect x="16.63" fill="#242432"/><rect x="22.18" fill="#0e0e13"/><rect x="27.72" fill="#060609"/><rect x="33.26" fill="#08080b"/><rect x="38.81" fill="#232331"/><rect x="44.35" fill="#282837"/><rect x="49.9" fill="#2b2b3b"/><rect x="55.44" fill="#14141b"/><rect x="60.98" fill="#060608"/><rect x="66.53" fill="#0c0c11"/><rect x="72.07" fill="#14141c"/><rect x="77.62" fill="#20202d"/><rect x="83.16" fill="#2a2a3b"/><rect x="88.7" fill="#1b1b26"/><rect x="94.25" fill="#1c1c27"/><rect x="99.79" fill="#09090d"/><rect x="105.3" fill="#0d0d12"/><rect x="110.9" fill="#09090d"/><rect x="116.4" fill="#1d1d28"/><rect x="122" fill="#13131b"/><rect x="127.5" fill="#2a2a3a"/><rect x="133.1" fill="#252533"/><rect x="138.6" fill="#17171f"/><rect x="144.1" fill="#0c0c11"/><rect x="149.7" fill="#12121a"/><rect x="155.2" fill="#050507"/><rect x="160.8" fill="#1c1c26"/><rect x="166.3" fill="#242432"/><rect x="171.9" fill="#181821"/><rect x="177.4" fill="#09090d"/><rect x="183" fill="#07070a"/><rect x="188.5" fill="#060609"/><rect x="194" fill="#1f1f2c"/><rect x="199.6" fill="#262635"/><rect x="205.1" fill="#060609"/><rect x="210.7" fill="#040406"/><rect x="216.2" fill="#292939"/><rect x="221.8" fill="#0b0b0f"/><rect x="227.3" fill="#20202c"/><rect x="232.8" fill="#13131a"/><rect x="238.4" fill="#040406"/><rect x="243.9" fill="#232331"/><rect x="249.5" fill="#1e1e2a"/><rect x="255" fill="#1a1a24"/><rect x="260.6" fill="#16161f"/><rect x="266.1" fill="#191923"/><rect x="271.7" fill="#181821"/>
</g>
</g>
<path d="M390.0 400.78H667.2M390.0 408.06H667.2M390.0 415.34H667.2M390.0 422.62H667.2M390.0 429.91H667.2M390.0 437.19H667.2M390.0 444.47H667.2M390.0 451.75H667.2M390.0 459.03H667.2M390.0 466.31H667.2M390.0 473.59H667.2M390.0 480.88H667.2M390.0 488.16H667.2M390.0 495.44H667.2M390.0 502.72H667.2" stroke="#fff" stroke-opacity=".82" stroke-width=".9" fill="none"/>
<rect x="390.0" y="393.5" width="277.2" height="116.5" fill="none" stroke="#333" stroke-width=".7"/>
<path d="M392.8 393.5v1.6M442.7 393.5v1.6M498.1 393.5v1.6M553.5 393.5v1.6M609.0 393.5v1.6M664.4 393.5v1.6M390.0 397.1h1.8M390.0 433.5h1.8M390.0 470.0h1.8M390.0 506.4h1.8" stroke="#222" stroke-width=".6" fill="none"/>
<g shape-rendering="crispEdges" class="h">
<g transform="translate(390.00 512.20)">
<rect x="0" fill="#38384d"/><rect x="5.544" fill="#22222f"/><rect x="11.09" fill="#282837"/><rect x="16.63" fill="#1b1b25"/><rect x="22.18" fill="#0a0a0d"/><rect x="27.72" fill="#20202c"/><rect x="33.26" fill="#0e0e13"/><rect x="38.81" fill="#1a1a24"/><rect x="44.35" fill="#1d1d29"/><rect x="49.9" fill="#292939"/><rect x="55.44" fill="#07070a"/><rect x="60.98" fill="#0b0b10"/><rect x="66.53" fill="#282837"/><rect x="72.07" fill="#3e3e56"/><rect x="77.62" fill="#101016"/><rect x="83.16" fill="#121219"/><rect x="88.7" fill="#16161f"/><rect x="94.25" fill="#292939"/><rect x="99.79" fill="#1f1f2b"/><rect x="105.3" fill="#20202c"/><rect x="110.9" fill="#38384d"/><rect x="116.4" fill="#242432"/><rect x="122" fill="#101017"/><rect x="127.5" fill="#0b0b0f"/><rect x="133.1" fill="#272736"/><rect x="138.6" fill="#191923"/><rect x="144.1" fill="#21212e"/><rect x="149.7" fill="#1c1c27"/><rect x="155.2" fill="#0d0d12"/><rect x="160.8" fill="#050507"/><rect x="166.3" fill="#060608"/><rect x="171.9" fill="#15151e"/><rect x="177.4" fill="#262635"/><rect x="183" fill="#0f0f15"/><rect x="188.5" fill="#171720"/><rect x="194" fill="#08080b"/><rect x="199.6" fill="#0d0d13"/><rect x="205.1" fill="#060609"/><rect x="210.7" fill="#09090d"/><rect x="216.2" fill="#060608"/><rect x="221.8" fill="#07070a"/><rect x="227.3" fill="#242431"/><rect x="232.8" fill="#1a1a24"/><rect x="238.4" fill="#20202c"/><rect x="243.9" fill="#040406"/><rect x="249.5" fill="#0e0e14"/><rect x="255" fill="#1d1d28"/><rect x="260.6" fill="#050506"/><rect x="266.1" fill="#101017"/><rect x="271.7" fill="#050507"/>
</g>
<g transform="translate(390.00 519.52)">
<rect x="0" fill="#5f647f"/><rect x="5.544" fill="#585b78"/><rect x="11.09" fill="#9cb7bc"/><rect x="16.63" fill="#92aab2"/><rect x="22.18" fill="#0f0f15"/><rect x="27.72" fill="#9ebbbe"/><rect x="33.26" fill="#abc9c9"/><rect x="38.81" fill="#15151d"/><rect x="44.35" fill="#20202d"/><rect x="49.9" fill="#0d0d12"/><rect x="55.44" fill="#a4c3c4"/><rect x="60.98" fill="#20202c"/><rect x="66.53" fill="#8da3ad"/><rect x="72.07" fill="#9fbcbf"/><rect x="77.62" fill="#a7c7c7"/><rect x="83.16" fill="#9cb8bc"/><rect x="88.7" fill="#15151e"/><rect x="94.25" fill="#a2c0c2"/><rect x="99.79" fill="#9db9bd"/><rect x="105.3" fill="#1f1f2b"/><rect x="110.9" fill="#181821"/><rect x="116.4" fill="#a3c1c3"/><rect x="122" fill="#accaca"/><rect x="127.5" fill="#111118"/><rect x="133.1" fill="#aac9c9"/><rect x="138.6" fill="#101016"/><rect x="144.1" fill="#1c1c27"/><rect x="149.7" fill="#14141c"/><rect x="155.2" fill="#9cb8bc"/><rect x="160.8" fill="#15151d"/><rect x="166.3" fill="#aac9c9"/><rect x="171.9" fill="#9fbbbf"/><rect x="177.4" fill="#3b3b51"/><rect x="183" fill="#0a0a0e"/><rect x="188.5" fill="#889da8"/><rect x="194" fill="#595b79"/><rect x="199.6" fill="#a6c5c6"/><rect x="205.1" fill="#abc9c9"/><rect x="210.7" fill="#16161f"/><rect x="216.2" fill="#accaca"/><rect x="221.8" fill="#1b1b25"/><rect x="227.3" fill="#111118"/><rect x="232.8" fill="#191923"/><rect x="238.4" fill="#889ca8"/><rect x="243.9" fill="#91a9b1"/><rect x="249.5" fill="#14141b"/><rect x="255" fill="#a5c4c5"/><rect x="260.6" fill="#abc9c9"/><rect x="266.1" fill="#575977"/><rect x="271.7" fill="#191922"/>
</g>
<g transform="translate(390.00 526.84)">
<rect x="0" fill="#1a1a23"/><rect x="5.544" fill="#08080b"/><rect x="11.09" fill="#313144"/><rect x="16.63" fill="#2a2a3a"/><rect x="22.18" fill="#0a0a0e"/><rect x="27.72" fill="#1c1c27"/><rect x="33.26" fill="#13131b"/><rect x="38.81" fill="#2a2a3a"/><rect x="44.35" fill="#282838"/><rect x="49.9" fill="#1c1c27"/><rect x="55.44" fill="#09090c"/><rect x="60.98" fill="#191923"/><rect x="66.53" fill="#0c0c11"/><rect x="72.07" fill="#22222f"/><rect x="77.62" fill="#0e0e14"/><rect x="83.16" fill="#1b1b26"/><rect x="88.7" fill="#20202d"/><rect x="94.25" fill="#272736"/><rect x="99.79" fill="#262634"/><rect x="105.3" fill="#252533"/><rect x="110.9" fill="#22222f"/><rect x="116.4" fill="#181822"/><rect x="122" fill="#121218"/><rect x="127.5" fill="#1f1f2c"/><rect x="133.1" fill="#15151d"/><rect x="138.6" fill="#252534"/><rect x="144.1" fill="#0c0c11"/><rect x="149.7" fill="#272736"/><rect x="155.2" fill="#272736"/><rect x="160.8" fill="#13131a"/><rect x="166.3" fill="#0c0c11"/><rect x="171.9" fill="#232330"/><rect x="177.4" fill="#050507"/><rect x="183" fill="#1d1d29"/><rect x="188.5" fill="#333347"/><rect x="194" fill="#232331"/><rect x="199.6" fill="#272736"/><rect x="205.1" fill="#1e1e2a"/><rect x="210.7" fill="#3f3f57"/><rect x="216.2" fill="#0d0d12"/><rect x="221.8" fill="#13131a"/><rect x="227.3" fill="#272736"/><rect x="232.8" fill="#12121a"/><rect x="238.4" fill="#1d1d29"/><rect x="243.9" fill="#252534"/><rect x="249.5" fill="#050507"/><rect x="255" fill="#050507"/><rect x="260.6" fill="#1f1f2c"/><rect x="266.1" fill="#0d0d13"/><rect x="271.7" fill="#121219"/>
</g>
<g transform="translate(390.00 534.16)">
<rect x="0" fill="#111117"/><rect x="5.544" fill="#14141c"/><rect x="11.09" fill="#0f0f15"/><rect x="16.63" fill="#262635"/><rect x="22.18" fill="#7f8f9e"/><rect x="27.72" fill="#2a2a3a"/><rect x="33.26" fill="#232330"/><rect x="38.81" fill="#16161f"/><rect x="44.35" fill="#282838"/><rect x="49.9" fill="#22222f"/><rect x="55.44" fill="#292939"/><rect x="60.98" fill="#09090d"/><rect x="66.53" fill="#101016"/><rect x="72.07" fill="#07070a"/><rect x="77.62" fill="#040406"/><rect x="83.16" fill="#262634"/><rect x="88.7" fill="#0e0e13"/><rect x="94.25" fill="#101017"/><rect x="99.79" fill="#1c1c26"/><rect x="105.3" fill="#292939"/><rect x="110.9" fill="#0c0c11"/><rect x="116.4" fill="#333347"/><rect x="122" fill="#22222f"/><rect x="127.5" fill="#252533"/><rect x="133.1" fill="#20202d"/><rect x="138.6" fill="#060608"/><rect x="144.1" fill="#22222f"/><rect x="149.7" fill="#15151d"/><rect x="155.2" fill="#15151d"/><rect x="160.8" fill="#09090d"/><rect x="166.3" fill="#282838"/><rect x="171.9" fill="#1e1e2a"/><rect x="177.4" fill="#232331"/><rect x="183" fill="#3e3e56"/><rect x="188.5" fill="#272736"/><rect x="194" fill="#09090d"/><rect x="199.6" fill="#101016"/><rect x="205.1" fill="#171721"/><rect x="210.7" fill="#121218"/><rect x="216.2" fill="#21212e"/><rect x="221.8" fill="#3a3a50"/><rect x="227.3" fill="#13131b"/><rect x="232.8" fill="#14141c"/><rect x="238.4" fill="#1d1d28"/><rect x="243.9" fill="#1e1e29"/><rect x="249.5" fill="#13131b"/><rect x="255" fill="#111118"/><rect x="260.6" fill="#272735"/><rect x="266.1" fill="#1b1b25"/><rect x="271.7" fill="#0c0c10"/>
</g>
<g transform="translate(390.00 541.48)">
<rect x="0" fill="#1c1c27"/><rect x="5.544" fill="#050506"/><rect x="11.09" fill="#09090d"/><rect x="16.63" fill="#1b1b25"/><rect x="22.18" fill="#1a1a24"/><rect x="27.72" fill="#1f1f2b"/><rect x="33.26" fill="#20202d"/><rect x="38.81" fill="#060608"/><rect x="44.35" fill="#272735"/><rect x="49.9" fill="#060609"/><rect x="55.44" fill="#08080c"/><rect x="60.98" fill="#292939"/><rect x="66.53" fill="#292939"/><rect x="72.07" fill="#393950"/><rect x="77.62" fill="#040406"/><rect x="83.16" fill="#0d0d12"/><rect x="88.7" fill="#191923"/><rect x="94.25" fill="#1c1c27"/><rect x="99.79" fill="#303042"/><rect x="105.3" fill="#2a2a3b"/><rect x="110.9" fill="#181822"/><rect x="116.4" fill="#242433"/><rect x="122" fill="#292939"/><rect x="127.5" fill="#07070a"/><rect x="133.1" fill="#292939"/><rect x="138.6" fill="#252533"/><rect x="144.1" fill="#2a2a3a"/><rect x="149.7" fill="#0d0d12"/><rect x="155.2" fill="#07070a"/><rect x="160.8" fill="#1f1f2b"/><rect x="166.3" fill="#050506"/><rect x="171.9" fill="#0e0e14"/><rect x="177.4" fill="#292939"/><rect x="183" fill="#0c0c10"/><rect x="188.5" fill="#060608"/><rect x="194" fill="#222230"/><rect x="199.6" fill="#3e3e56"/><rect x="205.1" fill="#0e0e14"/><rect x="210.7" fill="#111117"/><rect x="216.2" fill="#060608"/><rect x="221.8" fill="#16161e"/><rect x="227.3" fill="#0f0f15"/><rect x="232.8" fill="#111117"/><rect x="238.4" fill="#14141c"/><rect x="243.9" fill="#2a2a3b"/><rect x="249.5" fill="#21212d"/><rect x="255" fill="#0e0e14"/><rect x="260.6" fill="#14141c"/><rect x="266.1" fill="#191923"/><rect x="271.7" fill="#13131a"/>
</g>
<g transform="translate(390.00 548.79)">
<rect x="0" fill="#0a0a0e"/><rect x="5.544" fill="#37374d"/><rect x="11.09" fill="#262635"/><rect x="16.63" fill="#232331"/><rect x="22.18" fill="#272736"/><rect x="27.72" fill="#1d1d28"/><rect x="33.26" fill="#0d0d12"/><rect x="38.81" fill="#171720"/><rect x="44.35" fill="#2a2a3a"/><rect x="49.9" fill="#1f1f2b"/><rect x="55.44" fill="#20202d"/><rect x="60.98" fill="#2a2a3b"/><rect x="66.53" fill="#242432"/><rect x="72.07" fill="#1e1e29"/><rect x="77.62" fill="#07070a"/><rect x="83.16" fill="#1c1c27"/><rect x="88.7" fill="#050507"/><rect x="94.25" fill="#3b3b52"/><rect x="99.79" fill="#14141b"/><rect x="105.3" fill="#1a1a23"/><rect x="110.9" fill="#1e1e2a"/><rect x="116.4" fill="#15151d"/><rect x="122" fill="#1e1e29"/><rect x="127.5" fill="#16161e"/><rect x="133.1" fill="#1a1a25"/><rect x="138.6" fill="#16161f"/><rect x="144.1" fill="#1d1d28"/><rect x="149.7" fill="#16161f"/><rect x="155.2" fill="#111118"/><rect x="160.8" fill="#191923"/><rect x="166.3" fill="#13131a"/><rect x="171.9" fill="#242432"/><rect x="177.4" fill="#303043"/><rect x="183" fill="#262634"/><rect x="188.5" fill="#121219"/><rect x="194" fill="#060609"/><rect x="199.6" fill="#2a2a3a"/><rect x="205.1" fill="#0e0e14"/><rect x="210.7" fill="#1d1d29"/><rect x="216.2" fill="#242432"/><rect x="221.8" fill="#07070a"/><rect x="227.3" fill="#232330"/><rect x="232.8" fill="#1e1e29"/><rect x="238.4" fill="#282837"/><rect x="243.9" fill="#22222f"/><rect x="249.5" fill="#0e0e14"/><rect x="255" fill="#242433"/><rect x="260.6" fill="#252533"/><rect x="266.1" fill="#111118"/><rect x="271.7" fill="#1b1b25"/>
</g>
<g transform="translate(390.00 556.11)">
<rect x="0" fill="#1a1a24"/><rect x="5.544" fill="#2b2b3b"/><rect x="11.09" fill="#070709"/><rect x="16.63" fill="#21212e"/><rect x="22.18" fill="#121219"/><rect x="27.72" fill="#37374c"/><rect x="33.26" fill="#0b0b0f"/><rect x="38.81" fill="#121219"/><rect x="44.35" fill="#1e1e2a"/><rect x="49.9" fill="#0a0a0e"/><rect x="55.44" fill="#1e1e29"/><rect x="60.98" fill="#0b0b0f"/><rect x="66.53" fill="#292938"/><rect x="72.07" fill="#252533"/><rect x="77.62" fill="#1d1d28"/><rect x="83.16" fill="#272736"/><rect x="88.7" fill="#101017"/><rect x="94.25" fill="#121219"/><rect x="99.79" fill="#252534"/><rect x="105.3" fill="#15151d"/><rect x="110.9" fill="#14141c"/><rect x="116.4" fill="#1f1f2b"/><rect x="122" fill="#12121a"/><rect x="127.5" fill="#121219"/><rect x="133.1" fill="#1e1e29"/><rect x="138.6" fill="#181822"/><rect x="144.1" fill="#101016"/><rect x="149.7" fill="#1e1e29"/><rect x="155.2" fill="#0f0f14"/><rect x="160.8" fill="#0f0f15"/><rect x="166.3" fill="#15151d"/><rect x="171.9" fill="#08080c"/><rect x="177.4" fill="#1d1d28"/><rect x="183" fill="#20202d"/><rect x="188.5" fill="#0b0b0f"/><rect x="194" fill="#181821"/><rect x="199.6" fill="#040406"/><rect x="205.1" fill="#42425b"/><rect x="210.7" fill="#171720"/><rect x="216.2" fill="#1d1d29"/><rect x="221.8" fill="#1c1c27"/><rect x="227.3" fill="#181822"/><rect x="232.8" fill="#232330"/><rect x="238.4" fill="#0e0e13"/><rect x="243.9" fill="#191923"/><rect x="249.5" fill="#040406"/><rect x="255" fill="#313144"/><rect x="260.6" fill="#1b1b25"/><rect x="266.1" fill="#101016"/><rect x="271.7" fill="#191923"/>
</g>
<g transform="translate(390.00 563.43)">
<rect x="0" fill="#272737"/><rect x="5.544" fill="#0e0e13"/><rect x="11.09" fill="#0e0e14"/><rect x="16.63" fill="#15151d"/><rect x="22.18" fill="#181822"/><rect x="27.72" fill="#171720"/><rect x="33.26" fill="#07070a"/><rect x="38.81" fill="#09090d"/><rect x="44.35" fill="#292939"/><rect x="49.9" fill="#0f0f15"/><rect x="55.44" fill="#22222f"/><rect x="60.98" fill="#282837"/><rect x="66.53" fill="#20202c"/><rect x="72.07" fill="#12121a"/><rect x="77.62" fill="#42425c"/><rect x="83.16" fill="#21212e"/><rect x="88.7" fill="#292939"/><rect x="94.25" fill="#15151d"/><rect x="99.79" fill="#1b1b26"/><rect x="105.3" fill="#0e0e13"/><rect x="110.9" fill="#0d0d12"/><rect x="116.4" fill="#252533"/><rect x="122" fill="#09090d"/><rect x="127.5" fill="#1c1c27"/><rect x="133.1" fill="#2a2a3a"/><rect x="138.6" fill="#252533"/><rect x="144.1" fill="#404058"/><rect x="149.7" fill="#060609"/><rect x="155.2" fill="#0c0c11"/><rect x="160.8" fill="#252534"/><rect x="166.3" fill="#07070a"/><rect x="171.9" fill="#15151d"/><rect x="177.4" fill="#13131b"/><rect x="183" fill="#14141c"/><rect x="188.5" fill="#282838"/><rect x="194" fill="#1d1d28"/><rect x="199.6" fill="#232330"/><rect x="205.1" fill="#08080b"/><rect x="210.7" fill="#1a1a24"/><rect x="216.2" fill="#282838"/><rect x="221.8" fill="#1f1f2b"/><rect x="227.3" fill="#15151d"/><rect x="232.8" fill="#3f3f57"/><rect x="238.4" fill="#0b0b0f"/><rect x="243.9" fill="#060609"/><rect x="249.5" fill="#13131b"/><rect x="255" fill="#09090d"/><rect x="260.6" fill="#21212e"/><rect x="266.1" fill="#040406"/><rect x="271.7" fill="#0d0d12"/>
</g>
<g transform="translate(390.00 570.75)">
<rect x="0" fill="#a1bfc1"/><rect x="5.544" fill="#a0bec0"/><rect x="11.09" fill="#a8c7c7"/><rect x="16.63" fill="#a3c1c3"/><rect x="22.18" fill="#535373"/><rect x="27.72" fill="#5f647f"/><rect x="33.26" fill="#a5c4c5"/><rect x="38.81" fill="#8ba1ab"/><rect x="44.35" fill="#121219"/><rect x="49.9" fill="#9ebbbe"/><rect x="55.44" fill="#aac9c9"/><rect x="60.98" fill="#9cb8bc"/><rect x="66.53" fill="#0f0f15"/><rect x="72.07" fill="#8ca1ac"/><rect x="77.62" fill="#181822"/><rect x="83.16" fill="#91a8b0"/><rect x="88.7" fill="#121219"/><rect x="94.25" fill="#0a0a0e"/><rect x="99.79" fill="#a2bfc1"/><rect x="105.3" fill="#a6c6c6"/><rect x="110.9" fill="#121219"/><rect x="116.4" fill="#a8c8c8"/><rect x="122" fill="#91a8b0"/><rect x="127.5" fill="#8699a6"/><rect x="133.1" fill="#585a78"/><rect x="138.6" fill="#9cb8bc"/><rect x="144.1" fill="#a4c2c3"/><rect x="149.7" fill="#191923"/><rect x="155.2" fill="#101016"/><rect x="160.8" fill="#171720"/><rect x="166.3" fill="#a1bfc1"/><rect x="171.9" fill="#20202c"/><rect x="177.4" fill="#aac9c9"/><rect x="183" fill="#aac9c9"/><rect x="188.5" fill="#42425c"/><rect x="194" fill="#171720"/><rect x="199.6" fill="#a9c8c8"/><rect x="205.1" fill="#1c1c27"/><rect x="210.7" fill="#a6c6c6"/><rect x="216.2" fill="#abc9c9"/><rect x="221.8" fill="#869aa6"/><rect x="227.3" fill="#879aa6"/><rect x="232.8" fill="#8fa5af"/><rect x="238.4" fill="#1a1a24"/><rect x="243.9" fill="#0b0b10"/><rect x="249.5" fill="#121219"/><rect x="255" fill="#90a8b0"/><rect x="260.6" fill="#a8c7c7"/><rect x="266.1" fill="#90a8b0"/><rect x="271.7" fill="#8a9faa"/>
</g>
<g transform="translate(390.00 578.07)">
<rect x="0" fill="#1f1f2c"/><rect x="5.544" fill="#09090d"/><rect x="11.09" fill="#282837"/><rect x="16.63" fill="#111118"/><rect x="22.18" fill="#3a3a51"/><rect x="27.72" fill="#1f1f2b"/><rect x="33.26" fill="#1e1e29"/><rect x="38.81" fill="#20202d"/><rect x="44.35" fill="#040406"/><rect x="49.9" fill="#070709"/><rect x="55.44" fill="#292938"/><rect x="60.98" fill="#242432"/><rect x="66.53" fill="#050508"/><rect x="72.07" fill="#0c0c11"/><rect x="77.62" fill="#15151d"/><rect x="83.16" fill="#0c0c10"/><rect x="88.7" fill="#0c0c11"/><rect x="94.25" fill="#2a2a3a"/><rect x="99.79" fill="#1c1c26"/><rect x="105.3" fill="#14141b"/><rect x="110.9" fill="#20202d"/><rect x="116.4" fill="#0c0c11"/><rect x="122" fill="#0c0c11"/><rect x="127.5" fill="#0b0b0f"/><rect x="133.1" fill="#252533"/><rect x="138.6" fill="#09090c"/><rect x="144.1" fill="#09090d"/><rect x="149.7" fill="#262635"/><rect x="155.2" fill="#232331"/><rect x="160.8" fill="#171720"/><rect x="166.3" fill="#42425b"/><rect x="171.9" fill="#20202c"/><rect x="177.4" fill="#20202d"/><rect x="183" fill="#0a0a0e"/><rect x="188.5" fill="#0d0d11"/><rect x="194" fill="#20202c"/><rect x="199.6" fill="#21212e"/><rect x="205.1" fill="#232330"/><rect x="210.7" fill="#191922"/><rect x="216.2" fill="#0a0a0e"/><rect x="221.8" fill="#22222f"/><rect x="227.3" fill="#37374d"/><rect x="232.8" fill="#181821"/><rect x="238.4" fill="#16161f"/><rect x="243.9" fill="#0c0c10"/><rect x="249.5" fill="#08080b"/><rect x="255" fill="#060608"/><rect x="260.6" fill="#0d0d12"/><rect x="266.1" fill="#242432"/><rect x="271.7" fill="#1f1f2b"/>
</g>
<g transform="translate(390.00 585.39)">
<rect x="0" fill="#14141c"/><rect x="5.544" fill="#101017"/><rect x="11.09" fill="#aac8c8"/><rect x="16.63" fill="#a6c6c6"/><rect x="22.18" fill="#0c0c11"/><rect x="27.72" fill="#5c607c"/><rect x="33.26" fill="#121219"/><rect x="38.81" fill="#1e1e2a"/><rect x="44.35" fill="#0f0f15"/><rect x="49.9" fill="#0d0d13"/><rect x="55.44" fill="#a6c5c6"/><rect x="60.98" fill="#abc9c9"/><rect x="66.53" fill="#0a0a0e"/><rect x="72.07" fill="#9cb7bc"/><rect x="77.62" fill="#16161f"/><rect x="83.16" fill="#879ba7"/><rect x="88.7" fill="#13131a"/><rect x="94.25" fill="#9fbcbf"/><rect x="99.79" fill="#a7c6c6"/><rect x="105.3" fill="#a8c7c7"/><rect x="110.9" fill="#5b5f7b"/><rect x="116.4" fill="#91a8b0"/><rect x="122" fill="#8699a6"/><rect x="127.5" fill="#879ba7"/><rect x="133.1" fill="#1d1d28"/><rect x="138.6" fill="#0e0e14"/><rect x="144.1" fill="#0b0b10"/><rect x="149.7" fill="#0f0f15"/><rect x="155.2" fill="#09090d"/><rect x="160.8" fill="#3b3b52"/><rect x="166.3" fill="#92aab2"/><rect x="171.9" fill="#a1bfc1"/><rect x="177.4" fill="#a0bdc0"/><rect x="183" fill="#a5c5c5"/><rect x="188.5" fill="#91a8b1"/><rect x="194" fill="#a1bfc1"/><rect x="199.6" fill="#aac9c9"/><rect x="205.1" fill="#191923"/><rect x="210.7" fill="#a7c7c7"/><rect x="216.2" fill="#a5c4c5"/><rect x="221.8" fill="#15151d"/><rect x="227.3" fill="#171720"/><rect x="232.8" fill="#aac9c9"/><rect x="238.4" fill="#565776"/><rect x="243.9" fill="#111118"/><rect x="249.5" fill="#333346"/><rect x="255" fill="#5f637e"/><rect x="260.6" fill="#9db9bd"/><rect x="266.1" fill="#8497a4"/><rect x="271.7" fill="#a3c2c3"/>
</g>
<g transform="translate(390.00 592.71)">
<rect x="0" fill="#22222f"/><rect x="5.544" fill="#272736"/><rect x="11.09" fill="#1a1a25"/><rect x="16.63" fill="#101016"/><rect x="22.18" fill="#1a1a25"/><rect x="27.72" fill="#08080b"/><rect x="33.26" fill="#040406"/><rect x="38.81" fill="#353549"/><rect x="44.35" fill="#0a0a0e"/><rect x="49.9" fill="#101016"/><rect x="55.44" fill="#3d3d55"/><rect x="60.98" fill="#121218"/><rect x="66.53" fill="#17171f"/><rect x="72.07" fill="#111117"/><rect x="77.62" fill="#121219"/><rect x="83.16" fill="#08080c"/><rect x="88.7" fill="#242432"/><rect x="94.25" fill="#232331"/><rect x="99.79" fill="#20202c"/><rect x="105.3" fill="#16161e"/><rect x="110.9" fill="#21212e"/><rect x="116.4" fill="#08080c"/><rect x="122" fill="#0a0a0e"/><rect x="127.5" fill="#13131b"/><rect x="133.1" fill="#050508"/><rect x="138.6" fill="#333346"/><rect x="144.1" fill="#1a1a25"/><rect x="149.7" fill="#14141c"/><rect x="155.2" fill="#1f1f2b"/><rect x="160.8" fill="#14141c"/><rect x="166.3" fill="#242432"/><rect x="171.9" fill="#07070a"/><rect x="177.4" fill="#20202d"/><rect x="183" fill="#20202d"/><rect x="188.5" fill="#121219"/><rect x="194" fill="#1e1e29"/><rect x="199.6" fill="#07070a"/><rect x="205.1" fill="#040406"/><rect x="210.7" fill="#1d1d28"/><rect x="216.2" fill="#242432"/><rect x="221.8" fill="#101016"/><rect x="227.3" fill="#0e0e14"/><rect x="232.8" fill="#08080b"/><rect x="238.4" fill="#0d0d12"/><rect x="243.9" fill="#0a0a0e"/><rect x="249.5" fill="#0e0e14"/><rect x="255" fill="#191923"/><rect x="260.6" fill="#111117"/><rect x="266.1" fill="#0d0d13"/><rect x="271.7" fill="#1a1a24"/>
</g>
<g transform="translate(390.00 600.02)">
<rect x="0" fill="#060608"/><rect x="5.544" fill="#3e3e56"/><rect x="11.09" fill="#292938"/><rect x="16.63" fill="#0f0f15"/><rect x="22.18" fill="#191923"/><rect x="27.72" fill="#2a2a3a"/><rect x="33.26" fill="#272736"/><rect x="38.81" fill="#20202c"/><rect x="44.35" fill="#191922"/><rect x="49.9" fill="#0d0d12"/><rect x="55.44" fill="#08080b"/><rect x="60.98" fill="#08080b"/><rect x="66.53" fill="#060609"/><rect x="72.07" fill="#232330"/><rect x="77.62" fill="#1f1f2b"/><rect x="83.16" fill="#0c0c11"/><rect x="88.7" fill="#21212d"/><rect x="94.25" fill="#07070a"/><rect x="99.79" fill="#0b0b0f"/><rect x="105.3" fill="#242433"/><rect x="110.9" fill="#2b2b3b"/><rect x="116.4" fill="#14141c"/><rect x="122" fill="#1c1c27"/><rect x="127.5" fill="#08080c"/><rect x="133.1" fill="#1a1a24"/><rect x="138.6" fill="#09090c"/><rect x="144.1" fill="#1e1e29"/><rect x="149.7" fill="#0c0c11"/><rect x="155.2" fill="#3d3d55"/><rect x="160.8" fill="#22222f"/><rect x="166.3" fill="#181821"/><rect x="171.9" fill="#242431"/><rect x="177.4" fill="#242432"/><rect x="183" fill="#3e3e56"/><rect x="188.5" fill="#111118"/><rect x="194" fill="#08080b"/><rect x="199.6" fill="#0c0c11"/><rect x="205.1" fill="#22222f"/><rect x="210.7" fill="#0b0b0f"/><rect x="216.2" fill="#101016"/><rect x="221.8" fill="#07070a"/><rect x="227.3" fill="#21212e"/><rect x="232.8" fill="#1b1b25"/><rect x="238.4" fill="#0b0b0f"/><rect x="243.9" fill="#101017"/><rect x="249.5" fill="#282837"/><rect x="255" fill="#222230"/><rect x="260.6" fill="#050507"/><rect x="266.1" fill="#222230"/><rect x="271.7" fill="#0a0a0e"/>
</g>
<g transform="translate(390.00 607.34)">
<rect x="0" fill="#181821"/><rect x="5.544" fill="#0a0a0f"/><rect x="11.09" fill="#232330"/><rect x="16.63" fill="#22222f"/><rect x="22.18" fill="#0c0c11"/><rect x="27.72" fill="#282837"/><rect x="33.26" fill="#1e1e2a"/><rect x="38.81" fill="#1f1f2c"/><rect x="44.35" fill="#070709"/><rect x="49.9" fill="#040406"/><rect x="55.44" fill="#262635"/><rect x="60.98" fill="#050508"/><rect x="66.53" fill="#42425b"/><rect x="72.07" fill="#111117"/><rect x="77.62" fill="#070709"/><rect x="83.16" fill="#1b1b26"/><rect x="88.7" fill="#3d3d54"/><rect x="94.25" fill="#252534"/><rect x="99.79" fill="#060608"/><rect x="105.3" fill="#121219"/><rect x="110.9" fill="#14141c"/><rect x="116.4" fill="#1d1d28"/><rect x="122" fill="#2a2a3a"/><rect x="127.5" fill="#1b1b25"/><rect x="133.1" fill="#232331"/><rect x="138.6" fill="#171720"/><rect x="144.1" fill="#22222f"/><rect x="149.7" fill="#171720"/><rect x="155.2" fill="#0e0e14"/><rect x="160.8" fill="#1f1f2b"/><rect x="166.3" fill="#101016"/><rect x="171.9" fill="#060608"/><rect x="177.4" fill="#16161f"/><rect x="183" fill="#222230"/><rect x="188.5" fill="#1e1e2a"/><rect x="194" fill="#0a0a0e"/><rect x="199.6" fill="#13131a"/><rect x="205.1" fill="#1d1d28"/><rect x="210.7" fill="#282838"/><rect x="216.2" fill="#181821"/><rect x="221.8" fill="#21212e"/><rect x="227.3" fill="#1b1b25"/><rect x="232.8" fill="#1d1d29"/><rect x="238.4" fill="#1c1c27"/><rect x="243.9" fill="#070709"/><rect x="249.5" fill="#22222f"/><rect x="255" fill="#232331"/><rect x="260.6" fill="#21212e"/><rect x="266.1" fill="#252533"/><rect x="271.7" fill="#3a3a50"/>
</g>
<g transform="translate(390.00 614.66)">
<rect x="0" fill="#1b1b25"/><rect x="5.544" fill="#2f2f42"/><rect x="11.09" fill="#262635"/><rect x="16.63" fill="#1a1a24"/><rect x="22.18" fill="#282838"/><rect x="27.72" fill="#262635"/><rect x="33.26" fill="#060608"/><rect x="38.81" fill="#1e1e29"/><rect x="44.35" fill="#13131b"/><rect x="49.9" fill="#1c1c27"/><rect x="55.44" fill="#22222f"/><rect x="60.98" fill="#111118"/><rect x="66.53" fill="#13131a"/><rect x="72.07" fill="#292938"/><rect x="77.62" fill="#0d0d12"/><rect x="83.16" fill="#1e1e2a"/><rect x="88.7" fill="#232330"/><rect x="94.25" fill="#1e1e29"/><rect x="99.79" fill="#272736"/><rect x="105.3" fill="#14141c"/><rect x="110.9" fill="#101016"/><rect x="116.4" fill="#101016"/><rect x="122" fill="#1b1b26"/><rect x="127.5" fill="#292938"/><rect x="133.1" fill="#262635"/><rect x="138.6" fill="#16161f"/><rect x="144.1" fill="#14141c"/><rect x="149.7" fill="#101016"/><rect x="155.2" fill="#0a0a0d"/><rect x="160.8" fill="#191923"/><rect x="166.3" fill="#07070a"/><rect x="171.9" fill="#13131b"/><rect x="177.4" fill="#16161f"/><rect x="183" fill="#050507"/><rect x="188.5" fill="#111118"/><rect x="194" fill="#2a2a3b"/><rect x="199.6" fill="#0b0b10"/><rect x="205.1" fill="#262635"/><rect x="210.7" fill="#14141b"/><rect x="216.2" fill="#191922"/><rect x="221.8" fill="#0d0d13"/><rect x="227.3" fill="#0c0c11"/><rect x="232.8" fill="#1c1c27"/><rect x="238.4" fill="#12121a"/><rect x="243.9" fill="#272736"/><rect x="249.5" fill="#13131a"/><rect x="255" fill="#36364b"/><rect x="260.6" fill="#3b3b52"/><rect x="266.1" fill="#0a0a0f"/><rect x="271.7" fill="#121218"/>
</g>
<g transform="translate(390.00 621.98)">
<rect x="0" fill="#3b3b52"/><rect x="5.544" fill="#262635"/><rect x="11.09" fill="#292939"/><rect x="16.63" fill="#101016"/><rect x="22.18" fill="#101017"/><rect x="27.72" fill="#262634"/><rect x="33.26" fill="#232330"/><rect x="38.81" fill="#1b1b26"/><rect x="44.35" fill="#252533"/><rect x="49.9" fill="#292939"/><rect x="55.44" fill="#13131b"/><rect x="60.98" fill="#040406"/><rect x="66.53" fill="#252533"/><rect x="72.07" fill="#08080b"/><rect x="77.62" fill="#0d0d13"/><rect x="83.16" fill="#1a1a24"/><rect x="88.7" fill="#1d1d29"/><rect x="94.25" fill="#20202d"/><rect x="99.79" fill="#1e1e2a"/><rect x="105.3" fill="#2a2a3a"/><rect x="110.9" fill="#20202d"/><rect x="116.4" fill="#21212e"/><rect x="122" fill="#1e1e29"/><rect x="127.5" fill="#09090d"/><rect x="133.1" fill="#21212e"/><rect x="138.6" fill="#0e0e13"/><rect x="144.1" fill="#3d3d55"/><rect x="149.7" fill="#181821"/><rect x="155.2" fill="#111117"/><rect x="160.8" fill="#0e0e14"/><rect x="166.3" fill="#0f0f15"/><rect x="171.9" fill="#101016"/><rect x="177.4" fill="#1f1f2c"/><rect x="183" fill="#1f1f2a"/><rect x="188.5" fill="#282838"/><rect x="194" fill="#232331"/><rect x="199.6" fill="#060609"/><rect x="205.1" fill="#1d1d29"/><rect x="210.7" fill="#171720"/><rect x="216.2" fill="#1f1f2b"/><rect x="221.8" fill="#050507"/><rect x="227.3" fill="#343448"/><rect x="232.8" fill="#262635"/><rect x="238.4" fill="#09090c"/><rect x="243.9" fill="#13131a"/><rect x="249.5" fill="#101016"/><rect x="255" fill="#181821"/><rect x="260.6" fill="#0a0a0e"/><rect x="266.1" fill="#1b1b26"/><rect x="271.7" fill="#16161e"/>
</g>
</g>
<path d="M390.0 519.52H667.2M390.0 526.84H667.2M390.0 534.16H667.2M390.0 541.48H667.2M390.0 548.79H667.2M390.0 556.11H667.2M390.0 563.43H667.2M390.0 570.75H667.2M390.0 578.07H667.2M390.0 585.39H667.2M390.0 592.71H667.2M390.0 600.02H667.2M390.0 607.34H667.2M390.0 614.66H667.2M390.0 621.98H667.2" stroke="#fff" stroke-opacity=".82" stroke-width=".9" fill="none"/>
<rect x="390.0" y="512.2" width="277.2" height="117.1" fill="none" stroke="#333" stroke-width=".7"/>
<path d="M392.8 512.2v1.6M442.7 512.2v1.6M498.1 512.2v1.6M553.5 512.2v1.6M609.0 512.2v1.6M664.4 512.2v1.6M390.0 515.9h1.8M390.0 552.5h1.8M390.0 589.0h1.8M390.0 625.6h1.8" stroke="#222" stroke-width=".6" fill="none"/>
<text x="39.6" y="388.0" font-family='"Liberation Serif","DejaVu Serif",serif' font-size="11.5" fill="#222" text-anchor="middle" >1</text>
<text x="39.6" y="646.5" font-family='"Liberation Serif","DejaVu Serif",serif' font-size="11.5" fill="#222" text-anchor="middle" >1</text>
<text x="89.4" y="388.0" font-family='"Liberation Serif","DejaVu Serif",serif' font-size="11.5" fill="#222" text-anchor="middle" >10</text>
<text x="89.4" y="646.5" font-family='"Liberation Serif","DejaVu Serif",serif' font-size="11.5" fill="#222" text-anchor="middle" >10</text>
<text x="144.8" y="388.0" font-family='"Liberation Serif","DejaVu Serif",serif' font-size="11.5" fill="#222" text-anchor="middle" >20</text>
<text x="144.8" y="646.5" font-family='"Liberation Serif","DejaVu Serif",serif' font-size="11.5" fill="#222" text-anchor="middle" >20</text>
<text x="200.1" y="388.0" font-family='"Liberation Serif","DejaVu Serif",serif' font-size="11.5" fill="#222" text-anchor="middle" >30</text>
<text x="200.1" y="646.5" font-family='"Liberation Serif","DejaVu Serif",serif' font-size="11.5" fill="#222" text-anchor="middle" >30</text>
<text x="255.5" y="388.0" font-family='"Liberation Serif","DejaVu Serif",serif' font-size="11.5" fill="#222" text-anchor="middle" >40</text>
<text x="255.5" y="646.5" font-family='"Liberation Serif","DejaVu Serif",serif' font-size="11.5" fill="#222" text-anchor="middle" >40</text>
<text x="310.8" y="388.0" font-family='"Liberation Serif","DejaVu Serif",serif' font-size="11.5" fill="#222" text-anchor="middle" >50</text>
<text x="310.8" y="646.5" font-family='"Liberation Serif","DejaVu Serif",serif' font-size="11.5" fill="#222" text-anchor="middle" >50</text>
<text x="34.8" y="401.0" font-family='"Liberation Serif","DejaVu Serif",serif' font-size="11.8" fill="#222" text-anchor="end" >1</text>
<text x="34.8" y="437.4" font-family='"Liberation Serif","DejaVu Serif",serif' font-size="11.8" fill="#222" text-anchor="end" >6</text>
<text x="34.8" y="473.9" font-family='"Liberation Serif","DejaVu Serif",serif' font-size="11.8" fill="#222" text-anchor="end" >11</text>
<text x="34.8" y="510.3" font-family='"Liberation Serif","DejaVu Serif",serif' font-size="11.8" fill="#222" text-anchor="end" >16</text>
<text x="34.8" y="519.8" font-family='"Liberation Serif","DejaVu Serif",serif' font-size="11.8" fill="#222" text-anchor="end" >1</text>
<text x="34.8" y="556.4" font-family='"Liberation Serif","DejaVu Serif",serif' font-size="11.8" fill="#222" text-anchor="end" >6</text>
<text x="34.8" y="592.9" font-family='"Liberation Serif","DejaVu Serif",serif' font-size="11.8" fill="#222" text-anchor="end" >11</text>
<text x="34.8" y="629.5" font-family='"Liberation Serif","DejaVu Serif",serif' font-size="11.8" fill="#222" text-anchor="end" >16</text>
<text x="172.6" y="371.1" font-family='"Liberation Serif","DejaVu Serif",serif' font-size="14.3" fill="#222" text-anchor="middle" letter-spacing=".4">Norm(log<tspan font-size="9.5" dy="2.8">10</tspan><tspan dy="-2.8">)</tspan></text>
<text x="172.8" y="663.5" font-family='"Liberation Serif","DejaVu Serif",serif' font-size="14.3" fill="#222" text-anchor="middle" letter-spacing=".95">Testing target matrix</text>
<text x="392.8" y="388.0" font-family='"Liberation Serif","DejaVu Serif",serif' font-size="11.5" fill="#222" text-anchor="middle" >1</text>
<text x="392.8" y="646.5" font-family='"Liberation Serif","DejaVu Serif",serif' font-size="11.5" fill="#222" text-anchor="middle" >1</text>
<text x="442.7" y="388.0" font-family='"Liberation Serif","DejaVu Serif",serif' font-size="11.5" fill="#222" text-anchor="middle" >10</text>
<text x="442.7" y="646.5" font-family='"Liberation Serif","DejaVu Serif",serif' font-size="11.5" fill="#222" text-anchor="middle" >10</text>
<text x="498.1" y="388.0" font-family='"Liberation Serif","DejaVu Serif",serif' font-size="11.5" fill="#222" text-anchor="middle" >20</text>
<text x="498.1" y="646.5" font-family='"Liberation Serif","DejaVu Serif",serif' font-size="11.5" fill="#222" text-anchor="middle" >20</text>
<text x="553.5" y="388.0" font-family='"Liberation Serif","DejaVu Serif",serif' font-size="11.5" fill="#222" text-anchor="middle" >30</text>
<text x="553.5" y="646.5" font-family='"Liberation Serif","DejaVu Serif",serif' font-size="11.5" fill="#222" text-anchor="middle" >30</text>
<text x="609.0" y="388.0" font-family='"Liberation Serif","DejaVu Serif",serif' font-size="11.5" fill="#222" text-anchor="middle" >40</text>
<text x="609.0" y="646.5" font-family='"Liberation Serif","DejaVu Serif",serif' font-size="11.5" fill="#222" text-anchor="middle" >40</text>
<text x="664.4" y="388.0" font-family='"Liberation Serif","DejaVu Serif",serif' font-size="11.5" fill="#222" text-anchor="middle" >50</text>
<text x="664.4" y="646.5" font-family='"Liberation Serif","DejaVu Serif",serif' font-size="11.5" fill="#222" text-anchor="middle" >50</text>
<text x="388.0" y="401.0" font-family='"Liberation Serif","DejaVu Serif",serif' font-size="11.8" fill="#222" text-anchor="end" >1</text>
<text x="388.0" y="437.4" font-family='"Liberation Serif","DejaVu Serif",serif' font-size="11.8" fill="#222" text-anchor="end" >6</text>
<text x="388.0" y="473.9" font-family='"Liberation Serif","DejaVu Serif",serif' font-size="11.8" fill="#222" text-anchor="end" >11</text>
<text x="388.0" y="510.3" font-family='"Liberation Serif","DejaVu Serif",serif' font-size="11.8" fill="#222" text-anchor="end" >16</text>
<text x="388.0" y="519.8" font-family='"Liberation Serif","DejaVu Serif",serif' font-size="11.8" fill="#222" text-anchor="end" >1</text>
<text x="388.0" y="556.4" font-family='"Liberation Serif","DejaVu Serif",serif' font-size="11.8" fill="#222" text-anchor="end" >6</text>
<text x="388.0" y="592.9" font-family='"Liberation Serif","DejaVu Serif",serif' font-size="11.8" fill="#222" text-anchor="end" >11</text>
<text x="388.0" y="629.5" font-family='"Liberation Serif","DejaVu Serif",serif' font-size="11.8" fill="#222" text-anchor="end" >16</text>
<text x="526.0" y="371.1" font-family='"Liberation Serif","DejaVu Serif",serif' font-size="14.3" fill="#222" text-anchor="middle" letter-spacing=".4">Norm(log<tspan font-size="9.5" dy="2.8">10</tspan><tspan dy="-2.8">)</tspan></text>
<text x="526.2" y="663.5" font-family='"Liberation Serif","DejaVu Serif",serif' font-size="14.3" fill="#222" text-anchor="middle" letter-spacing=".95">Testing target matrix</text>
<g transform="translate(14.7 469.2) rotate(-90)" font-family='"Liberation Serif","DejaVu Serif",serif' fill="#222">
<text x="0" y="0" font-size="15.5" font-style="italic" font-weight="bold">e</text>
<text x="7.9" y="-8" font-size="8" font-weight="bold" textLength="9.2" lengthAdjust="spacingAndGlyphs">iA</text>
<text x="17.4" y="-6.3" font-size="7" font-style="italic">j</text>
<text x="29.3" y="-.5" font-size="12.8" font-weight="bold">(j)</text>
</g>
<g transform="translate(14.7 587.6) rotate(-90)" font-family='"Liberation Serif","DejaVu Serif",serif' fill="#222">
<text x="0" y="0" font-size="15.5" font-style="italic" font-weight="bold">e</text>
<text x="7.9" y="-8" font-size="8" font-weight="bold" textLength="9.2" lengthAdjust="spacingAndGlyphs">iD</text>
<text x="17.4" y="-6.3" font-size="7" font-style="italic">j</text>
<text x="29.3" y="-.5" font-size="12.8" font-weight="bold">(j)</text>
</g>
<g transform="translate(368.6 468.2) rotate(-90)" font-family='"Liberation Serif","DejaVu Serif",serif' fill="#222">
<text x="0" y="0" font-size="15.5" font-style="italic" font-weight="bold">e</text>
<text x="7.9" y="-8" font-size="8" font-weight="bold" textLength="9.2" lengthAdjust="spacingAndGlyphs">iB</text>
<text x="17.4" y="-6.3" font-size="7" font-style="italic">j</text>
<text x="29.3" y="-.5" font-size="12.8" font-weight="bold">(j)</text>
</g>
<g transform="translate(368.6 587.6) rotate(-90)" font-family='"Liberation Serif","DejaVu Serif",serif' fill="#222">
<text x="0" y="0" font-size="15.5" font-style="italic" font-weight="bold">e</text>
<text x="7.9" y="-8" font-size="8" font-weight="bold" textLength="9.2" lengthAdjust="spacingAndGlyphs">iC</text>
<text x="17.4" y="-6.3" font-size="7" font-style="italic">j</text>
<text x="29.3" y="-.5" font-size="12.8" font-weight="bold">(j)</text>
</g>
<text x="15.5" y="366.3" font-family='"Liberation Sans","DejaVu Sans",sans-serif' font-size="15.5" fill="#000" text-anchor="start" font-weight="bold" textLength="17" lengthAdjust="spacingAndGlyphs">(b)</text>
<rect x="327.4" y="436.5" width="9.1" height="147" fill="url(#gbone)" stroke="#444" stroke-width=".5"/>
<text x="339.6" y="439.9" font-family='"Liberation Sans","DejaVu Sans",sans-serif' font-size="9.4" fill="#222" text-anchor="start" >0</text>
<text x="339.6" y="490.4" font-family='"Liberation Sans","DejaVu Sans",sans-serif' font-size="9.4" fill="#222" text-anchor="start" >-5</text>
<text x="339.6" y="538.8" font-family='"Liberation Sans","DejaVu Sans",sans-serif' font-size="9.4" fill="#222" text-anchor="start" >-10</text>
<text x="339.6" y="588.4" font-family='"Liberation Sans","DejaVu Sans",sans-serif' font-size="9.4" fill="#222" text-anchor="start" >-15</text>
<path d="M336.5 485.5h2M336.5 534.5h2M336.5 583.5h2M336.5 436.5h2" stroke="#444" stroke-width=".5"/>
<rect x="46.5" y="688.1" width="16.4" height="125.8" rx="1.5" fill="#e7e7e7" stroke="#c4c4c4" stroke-width=".7" stroke-dasharray="2.2 1.6"/>
<rect x="79.1" y="688.1" width="16.4" height="125.8" rx="1.5" fill="#e7e7e7" stroke="#c4c4c4" stroke-width=".7" stroke-dasharray="2.2 1.6"/>
<rect x="111.6" y="688.1" width="16.4" height="125.8" rx="1.5" fill="#e7e7e7" stroke="#c4c4c4" stroke-width=".7" stroke-dasharray="2.2 1.6"/>
<rect x="144.2" y="688.1" width="16.4" height="125.8" rx="1.5" fill="#e7e7e7" stroke="#c4c4c4" stroke-width=".7" stroke-dasharray="2.2 1.6"/>
<rect x="176.7" y="688.1" width="16.4" height="125.8" rx="1.5" fill="#e7e7e7" stroke="#c4c4c4" stroke-width=".7" stroke-dasharray="2.2 1.6"/>
<rect x="209.3" y="688.1" width="16.4" height="125.8" rx="1.5" fill="#e7e7e7" stroke="#c4c4c4" stroke-width=".7" stroke-dasharray="2.2 1.6"/>
<rect x="241.9" y="688.1" width="16.4" height="125.8" rx="1.5" fill="#e7e7e7" stroke="#c4c4c4" stroke-width=".7" stroke-dasharray="2.2 1.6"/>
<rect x="274.4" y="688.1" width="16.4" height="125.8" rx="1.5" fill="#e7e7e7" stroke="#c4c4c4" stroke-width=".7" stroke-dasharray="2.2 1.6"/>
<path d="M38.2 723.1H315.4" stroke="#9db4d8" stroke-width="1.1"/>
<path d="M38.2 782.2H315.4" stroke="#f0a58f" stroke-width="1.1"/>
<path d="M50.7 751.0V736.2" stroke="#6f93d0" stroke-opacity=".6" stroke-width="2.3"/>
<path d="M50.7 751.0V760.0" stroke="#e8714a" stroke-opacity=".55" stroke-width="2.3"/>
<path d="M58.7 751.0V702.4" stroke="#7f9ccc" stroke-width=".8" stroke-dasharray="2.9 2.6"/>
<path d="M58.7 751.0V761.8" stroke="#e8714a" stroke-opacity=".55" stroke-width="2.3"/>
<path d="M67.0 751.0V732.8" stroke="#6f93d0" stroke-opacity=".6" stroke-width="2.3"/>
<path d="M67.0 751.0V766.8" stroke="#e8714a" stroke-opacity=".55" stroke-width="2.3"/>
<path d="M75.0 751.0V724.4" stroke="#6f93d0" stroke-opacity=".6" stroke-width="2.3"/>
<path d="M75.0 751.0V797.2" stroke="#ee8f78" stroke-width=".8" stroke-dasharray="2.9 2.6"/>
<path d="M83.3 751.0V733.5" stroke="#6f93d0" stroke-opacity=".6" stroke-width="2.3"/>
<path d="M83.3 751.0V782.0" stroke="#e8714a" stroke-opacity=".55" stroke-width="2.3"/>
<path d="M91.3 751.0V720.1" stroke="#7f9ccc" stroke-width=".8" stroke-dasharray="2.9 2.6"/>
<path d="M91.3 751.0V798.0" stroke="#ee8f78" stroke-width=".8" stroke-dasharray="2.9 2.6"/>
<path d="M99.5 751.0V734.2" stroke="#6f93d0" stroke-opacity=".6" stroke-width="2.3"/>
<path d="M99.5 751.0V770.7" stroke="#e8714a" stroke-opacity=".55" stroke-width="2.3"/>
<path d="M107.5 751.0V740.8" stroke="#6f93d0" stroke-opacity=".6" stroke-width="2.3"/>
<path d="M107.5 751.0V775.8" stroke="#e8714a" stroke-opacity=".55" stroke-width="2.3"/>
<path d="M115.8 751.0V740.3" stroke="#6f93d0" stroke-opacity=".6" stroke-width="2.3"/>
<path d="M115.8 751.0V764.0" stroke="#e8714a" stroke-opacity=".55" stroke-width="2.3"/>
<path d="M123.8 751.0V709.1" stroke="#7f9ccc" stroke-width=".8" stroke-dasharray="2.9 2.6"/>
<path d="M123.8 751.0V785.7" stroke="#ee8f78" stroke-width=".8" stroke-dasharray="2.9 2.6"/>
<path d="M132.1 751.0V738.0" stroke="#6f93d0" stroke-opacity=".6" stroke-width="2.3"/>
<path d="M132.1 751.0V778.4" stroke="#e8714a" stroke-opacity=".55" stroke-width="2.3"/>
<path d="M140.1 751.0V714.9" stroke="#7f9ccc" stroke-width=".8" stroke-dasharray="2.9 2.6"/>
<path d="M140.1 751.0V795.3" stroke="#ee8f78" stroke-width=".8" stroke-dasharray="2.9 2.6"/>
<path d="M148.4 751.0V738.2" stroke="#6f93d0" stroke-opacity=".6" stroke-width="2.3"/>
<path d="M148.4 751.0V772.7" stroke="#e8714a" stroke-opacity=".55" stroke-width="2.3"/>
<path d="M156.4 751.0V731.8" stroke="#6f93d0" stroke-opacity=".6" stroke-width="2.3"/>
<path d="M156.4 751.0V774.7" stroke="#e8714a" stroke-opacity=".55" stroke-width="2.3"/>
<path d="M164.7 751.0V744.5" stroke="#6f93d0" stroke-opacity=".6" stroke-width="2.3"/>
<path d="M164.7 751.0V768.0" stroke="#e8714a" stroke-opacity=".55" stroke-width="2.3"/>
<path d="M172.7 751.0V703.5" stroke="#7f9ccc" stroke-width=".8" stroke-dasharray="2.9 2.6"/>
<path d="M172.7 751.0V767.2" stroke="#e8714a" stroke-opacity=".55" stroke-width="2.3"/>
<path d="M180.9 751.0V736.4" stroke="#6f93d0" stroke-opacity=".6" stroke-width="2.3"/>
<path d="M180.9 751.0V790.1" stroke="#ee8f78" stroke-width=".8" stroke-dasharray="2.9 2.6"/>
<path d="M188.9 751.0V700.0" stroke="#7f9ccc" stroke-width=".8" stroke-dasharray="2.9 2.6"/>
<path d="M188.9 751.0V753.2" stroke="#e8714a" stroke-opacity=".55" stroke-width="2.3"/>
<path d="M197.2 751.0V741.9" stroke="#6f93d0" stroke-opacity=".6" stroke-width="2.3"/>
<path d="M197.2 751.0V768.8" stroke="#e8714a" stroke-opacity=".55" stroke-width="2.3"/>
<path d="M205.2 751.0V738.7" stroke="#6f93d0" stroke-opacity=".6" stroke-width="2.3"/>
<path d="M205.2 751.0V787.4" stroke="#ee8f78" stroke-width=".8" stroke-dasharray="2.9 2.6"/>
<path d="M213.5 751.0V736.8" stroke="#6f93d0" stroke-opacity=".6" stroke-width="2.3"/>
<path d="M213.5 751.0V776.9" stroke="#e8714a" stroke-opacity=".55" stroke-width="2.3"/>
<path d="M221.5 751.0V726.1" stroke="#6f93d0" stroke-opacity=".6" stroke-width="2.3"/>
<path d="M221.5 751.0V794.0" stroke="#ee8f78" stroke-width=".8" stroke-dasharray="2.9 2.6"/>
<path d="M229.8 751.0V743.9" stroke="#6f93d0" stroke-opacity=".6" stroke-width="2.3"/>
<path d="M229.8 751.0V760.0" stroke="#e8714a" stroke-opacity=".55" stroke-width="2.3"/>
<path d="M237.8 751.0V729.0" stroke="#6f93d0" stroke-opacity=".6" stroke-width="2.3"/>
<path d="M237.8 751.0V790.5" stroke="#ee8f78" stroke-width=".8" stroke-dasharray="2.9 2.6"/>
<path d="M246.1 751.0V739.9" stroke="#6f93d0" stroke-opacity=".6" stroke-width="2.3"/>
<path d="M246.1 751.0V770.7" stroke="#e8714a" stroke-opacity=".55" stroke-width="2.3"/>
<path d="M254.1 751.0V713.8" stroke="#7f9ccc" stroke-width=".8" stroke-dasharray="2.9 2.6"/>
<path d="M254.1 751.0V792.8" stroke="#ee8f78" stroke-width=".8" stroke-dasharray="2.9 2.6"/>
<path d="M262.3 751.0V737.7" stroke="#6f93d0" stroke-opacity=".6" stroke-width="2.3"/>
<path d="M262.3 751.0V758.7" stroke="#e8714a" stroke-opacity=".55" stroke-width="2.3"/>
<path d="M270.3 751.0V728.3" stroke="#6f93d0" stroke-opacity=".6" stroke-width="2.3"/>
<path d="M270.3 751.0V804.9" stroke="#ee8f78" stroke-width=".8" stroke-dasharray="2.9 2.6"/>
<path d="M278.6 751.0V729.5" stroke="#6f93d0" stroke-opacity=".6" stroke-width="2.3"/>
<path d="M278.6 751.0V776.2" stroke="#e8714a" stroke-opacity=".55" stroke-width="2.3"/>
<path d="M286.6 751.0V719.5" stroke="#7f9ccc" stroke-width=".8" stroke-dasharray="2.9 2.6"/>
<path d="M286.6 751.0V790.3" stroke="#ee8f78" stroke-width=".8" stroke-dasharray="2.9 2.6"/>
<path d="M294.9 751.0V734.5" stroke="#6f93d0" stroke-opacity=".6" stroke-width="2.3"/>
<path d="M294.9 751.0V778.8" stroke="#e8714a" stroke-opacity=".55" stroke-width="2.3"/>
<path d="M302.9 751.0V734.5" stroke="#6f93d0" stroke-opacity=".6" stroke-width="2.3"/>
<path d="M302.9 751.0V787.8" stroke="#ee8f78" stroke-width=".8" stroke-dasharray="2.9 2.6"/>
<path d="M38.2 751.0H315.4" stroke="#555" stroke-width="1.1"/>
<polygon points="50.70,732.25 51.74,735.02 54.69,735.15 52.38,737.00 53.17,739.85 50.70,738.22 48.23,739.85 49.02,737.00 46.71,735.15 49.66,735.02" fill="#000"/>
<polygon points="50.70,756.12 51.74,758.89 54.69,759.02 52.38,760.86 53.17,763.71 50.70,762.08 48.23,763.71 49.02,760.86 46.71,759.02 49.66,758.89" fill="#000"/>
<path d="M58.7 699.3L61.8 702.4L58.7 705.5L55.6 702.4Z" fill="#000"/>
<path d="M58.7 758.7L61.8 761.8L58.7 764.9L55.6 761.8Z" fill="#000"/>
<polygon points="66.98,728.91 68.02,731.68 70.97,731.81 68.66,733.65 69.45,736.51 66.98,734.87 64.51,736.51 65.30,733.65 62.99,731.81 65.94,731.68" fill="#000"/>
<polygon points="66.98,762.93 68.02,765.70 70.97,765.83 68.66,767.67 69.45,770.53 66.98,768.89 64.51,770.53 65.30,767.67 62.99,765.83 65.94,765.70" fill="#000"/>
<path d="M75.0 721.3L78.1 724.4L75.0 727.5L71.9 724.4Z" fill="#000"/>
<path d="M75.0 794.1L78.1 797.2L75.0 800.3L71.9 797.2Z" fill="#000"/>
<polygon points="83.26,729.59 84.30,732.37 87.25,732.50 84.94,734.34 85.73,737.19 83.26,735.56 80.79,737.19 81.58,734.34 79.27,732.50 82.22,732.37" fill="#000"/>
<polygon points="83.26,778.09 84.30,780.86 87.25,780.99 84.94,782.84 85.73,785.69 83.26,784.05 80.79,785.69 81.58,782.84 79.27,780.99 82.22,780.86" fill="#000"/>
<path d="M91.3 717.0L94.4 720.1L91.3 723.2L88.2 720.1Z" fill="#000"/>
<path d="M91.3 794.9L94.4 798.0L91.3 801.1L88.2 798.0Z" fill="#000"/>
<polygon points="99.54,730.26 100.58,733.03 103.53,733.16 101.22,735.00 102.01,737.86 99.54,736.22 97.07,737.86 97.86,735.00 95.55,733.16 98.50,733.03" fill="#000"/>
<polygon points="99.54,766.77 100.58,769.54 103.53,769.67 101.22,771.52 102.01,774.37 99.54,772.73 97.07,774.37 97.86,771.52 95.55,769.67 98.50,769.54" fill="#000"/>
<path d="M107.5 737.7L110.6 740.8L107.5 743.9L104.4 740.8Z" fill="#000"/>
<path d="M107.5 772.7L110.6 775.8L107.5 778.9L104.4 775.8Z" fill="#000"/>
<polygon points="115.82,736.43 116.86,739.20 119.81,739.33 117.50,741.17 118.29,744.02 115.82,742.39 113.35,744.02 114.14,741.17 111.83,739.33 114.78,739.20" fill="#000"/>
<polygon points="115.82,760.11 116.86,762.88 119.81,763.01 117.50,764.86 118.29,767.71 115.82,766.08 113.35,767.71 114.14,764.86 111.83,763.01 114.78,762.88" fill="#000"/>
<path d="M123.8 706.0L126.9 709.1L123.8 712.2L120.7 709.1Z" fill="#000"/>
<path d="M123.8 782.6L126.9 785.7L123.8 788.8L120.7 785.7Z" fill="#000"/>
<polygon points="132.10,734.12 133.14,736.89 136.09,737.02 133.78,738.87 134.57,741.72 132.10,740.08 129.63,741.72 130.42,738.87 128.11,737.02 131.06,736.89" fill="#000"/>
<polygon points="132.10,774.51 133.14,777.28 136.09,777.41 133.78,779.25 134.57,782.10 132.10,780.47 129.63,782.10 130.42,779.25 128.11,777.41 131.06,777.28" fill="#000"/>
<path d="M140.1 711.8L143.2 714.9L140.1 718.0L137.0 714.9Z" fill="#000"/>
<path d="M140.1 792.2L143.2 795.3L140.1 798.4L137.0 795.3Z" fill="#000"/>
<polygon points="148.38,734.29 149.42,737.06 152.37,737.19 150.06,739.03 150.85,741.88 148.38,740.25 145.91,741.88 146.70,739.03 144.39,737.19 147.34,737.06" fill="#000"/>
<polygon points="148.38,768.82 149.42,771.59 152.37,771.72 150.06,773.56 150.85,776.42 148.38,774.78 145.91,776.42 146.70,773.56 144.39,771.72 147.34,771.59" fill="#000"/>
<path d="M156.4 728.7L159.5 731.8L156.4 734.9L153.3 731.8Z" fill="#000"/>
<path d="M156.4 771.6L159.5 774.7L156.4 777.8L153.3 774.7Z" fill="#000"/>
<polygon points="164.66,740.64 165.70,743.41 168.65,743.54 166.34,745.39 167.13,748.24 164.66,746.61 162.19,748.24 162.98,745.39 160.67,743.54 163.62,743.41" fill="#000"/>
<polygon points="164.66,764.11 165.70,766.88 168.65,767.01 166.34,768.85 167.13,771.70 164.66,770.07 162.19,771.70 162.98,768.85 160.67,767.01 163.62,766.88" fill="#000"/>
<path d="M172.7 700.4L175.8 703.5L172.7 706.6L169.6 703.5Z" fill="#000"/>
<path d="M172.7 764.1L175.8 767.2L172.7 770.3L169.6 767.2Z" fill="#000"/>
<polygon points="180.94,732.46 181.98,735.23 184.93,735.36 182.62,737.20 183.41,740.06 180.94,738.42 178.47,740.06 179.26,737.20 176.95,735.36 179.90,735.23" fill="#000"/>
<polygon points="180.94,786.18 181.98,788.96 184.93,789.09 182.62,790.93 183.41,793.78 180.94,792.15 178.47,793.78 179.26,790.93 176.95,789.09 179.90,788.96" fill="#000"/>
<path d="M188.9 696.9L192.0 700.0L188.9 703.1L185.8 700.0Z" fill="#000"/>
<path d="M188.9 750.1L192.0 753.2L188.9 756.3L185.8 753.2Z" fill="#000"/>
<polygon points="197.22,738.02 198.26,740.80 201.21,740.93 198.90,742.77 199.69,745.62 197.22,743.99 194.75,745.62 195.54,742.77 193.23,740.93 196.18,740.80" fill="#000"/>
<polygon points="197.22,764.87 198.26,767.65 201.21,767.78 198.90,769.62 199.69,772.47 197.22,770.84 194.75,772.47 195.54,769.62 193.23,767.78 196.18,767.65" fill="#000"/>
<path d="M205.2 735.6L208.3 738.7L205.2 741.8L202.1 738.7Z" fill="#000"/>
<path d="M205.2 784.3L208.3 787.4L205.2 790.5L202.1 787.4Z" fill="#000"/>
<polygon points="213.50,732.92 214.54,735.69 217.49,735.82 215.18,737.66 215.97,740.51 213.50,738.88 211.03,740.51 211.82,737.66 209.51,735.82 212.46,735.69" fill="#000"/>
<polygon points="213.50,772.97 214.54,775.74 217.49,775.87 215.18,777.71 215.97,780.57 213.50,778.93 211.03,780.57 211.82,777.71 209.51,775.87 212.46,775.74" fill="#000"/>
<path d="M221.5 723.0L224.6 726.1L221.5 729.2L218.4 726.1Z" fill="#000"/>
<path d="M221.5 790.9L224.6 794.0L221.5 797.1L218.4 794.0Z" fill="#000"/>
<polygon points="229.78,739.96 230.82,742.73 233.77,742.86 231.46,744.70 232.25,747.55 229.78,745.92 227.31,747.55 228.10,744.70 225.79,742.86 228.74,742.73" fill="#000"/>
<polygon points="229.78,756.12 230.82,758.89 233.77,759.02 231.46,760.86 232.25,763.71 229.78,762.08 227.31,763.71 228.10,760.86 225.79,759.02 228.74,758.89" fill="#000"/>
<path d="M237.8 725.9L240.9 729.0L237.8 732.1L234.7 729.0Z" fill="#000"/>
<path d="M237.8 787.4L240.9 790.5L237.8 793.6L234.7 790.5Z" fill="#000"/>
<polygon points="246.06,735.99 247.10,738.76 250.05,738.89 247.74,740.73 248.53,743.59 246.06,741.95 243.59,743.59 244.38,740.73 242.07,738.89 245.02,738.76" fill="#000"/>
<polygon points="246.06,766.77 247.10,769.54 250.05,769.67 247.74,771.52 248.53,774.37 246.06,772.73 243.59,774.37 244.38,771.52 242.07,769.67 245.02,769.54" fill="#000"/>
<path d="M254.1 710.7L257.2 713.8L254.1 716.9L251.0 713.8Z" fill="#000"/>
<path d="M254.1 789.7L257.2 792.8L254.1 795.9L251.0 792.8Z" fill="#000"/>
<polygon points="262.34,733.77 263.38,736.54 266.33,736.67 264.02,738.51 264.81,741.37 262.34,739.73 259.87,741.37 260.66,738.51 258.35,736.67 261.30,736.54" fill="#000"/>
<polygon points="262.34,754.83 263.38,757.61 266.33,757.74 264.02,759.58 264.81,762.43 262.34,760.80 259.87,762.43 260.66,759.58 258.35,757.74 261.30,757.61" fill="#000"/>
<path d="M270.3 725.2L273.4 728.3L270.3 731.4L267.2 728.3Z" fill="#000"/>
<path d="M270.3 801.8L273.4 804.9L270.3 808.0L267.2 804.9Z" fill="#000"/>
<polygon points="278.62,725.56 279.66,728.34 282.61,728.47 280.30,730.31 281.09,733.16 278.62,731.53 276.15,733.16 276.94,730.31 274.63,728.47 277.58,728.34" fill="#000"/>
<polygon points="278.62,772.30 279.66,775.08 282.61,775.20 280.30,777.05 281.09,779.90 278.62,778.27 276.15,779.90 276.94,777.05 274.63,775.20 277.58,775.08" fill="#000"/>
<path d="M286.6 716.4L289.7 719.5L286.6 722.6L283.5 719.5Z" fill="#000"/>
<path d="M286.6 787.2L289.7 790.3L286.6 793.4L283.5 790.3Z" fill="#000"/>
<polygon points="294.90,730.57 295.94,733.34 298.89,733.47 296.58,735.31 297.37,738.17 294.90,736.53 292.43,738.17 293.22,735.31 290.91,733.47 293.86,733.34" fill="#000"/>
<polygon points="294.90,774.86 295.94,777.64 298.89,777.77 296.58,779.61 297.37,782.46 294.90,780.83 292.43,782.46 293.22,779.61 290.91,777.77 293.86,777.64" fill="#000"/>
<path d="M302.9 731.4L306.0 734.5L302.9 737.6L299.8 734.5Z" fill="#000"/>
<path d="M302.9 784.7L306.0 787.8L302.9 790.9L299.8 787.8Z" fill="#000"/>
<rect x="38.2" y="681.8" width="277.2" height="138.5" fill="none" stroke="#6c6c6c" stroke-width="1.15"/>
<path d="M54.7 820.3v-6M71.0 820.3v-6M87.3 820.3v-6M103.5 820.3v-6M119.8 820.3v-6M136.1 820.3v-6M152.4 820.3v-6M168.7 820.3v-6M184.9 820.3v-6M201.2 820.3v-6M217.5 820.3v-6M233.8 820.3v-6M250.1 820.3v-6M266.3 820.3v-6M282.6 820.3v-6M298.9 820.3v-6M38.2 688.8h2.5M38.2 751.0h2.5M38.2 813.9h2.5" stroke="#6c6c6c" stroke-width="1" fill="none"/>
<text x="54.7" y="833.3" font-family='"Liberation Serif","DejaVu Serif",serif' font-size="12.0" fill="#6e6e6e" text-anchor="middle" >1</text>
<text x="87.3" y="833.3" font-family='"Liberation Serif","DejaVu Serif",serif' font-size="12.0" fill="#6e6e6e" text-anchor="middle" >3</text>
<text x="119.8" y="833.3" font-family='"Liberation Serif","DejaVu Serif",serif' font-size="12.0" fill="#6e6e6e" text-anchor="middle" >5</text>
<text x="152.4" y="833.3" font-family='"Liberation Serif","DejaVu Serif",serif' font-size="12.0" fill="#6e6e6e" text-anchor="middle" >7</text>
<text x="184.9" y="833.3" font-family='"Liberation Serif","DejaVu Serif",serif' font-size="12.0" fill="#6e6e6e" text-anchor="middle" >9</text>
<text x="217.5" y="833.3" font-family='"Liberation Serif","DejaVu Serif",serif' font-size="12.0" fill="#6e6e6e" text-anchor="middle" >11</text>
<text x="250.1" y="833.3" font-family='"Liberation Serif","DejaVu Serif",serif' font-size="12.0" fill="#6e6e6e" text-anchor="middle" >13</text>
<text x="282.6" y="833.3" font-family='"Liberation Serif","DejaVu Serif",serif' font-size="12.0" fill="#6e6e6e" text-anchor="middle" >15</text>
<text x="35.3" y="692.8" font-family='"Liberation Serif","DejaVu Serif",serif' font-size="12.0" fill="#6e6e6e" text-anchor="end" >1</text>
<text x="35.6" y="755.2" font-family='"Liberation Serif","DejaVu Serif",serif' font-size="12.0" fill="#6e6e6e" text-anchor="end" >0</text>
<text x="32.8" y="813.0" font-family='"Liberation Serif","DejaVu Serif",serif' font-size="8.5" fill="#6e6e6e" text-anchor="middle" >1</text>
<text x="32.8" y="821.7" font-family='"Liberation Serif","DejaVu Serif",serif' font-size="8.5" fill="#6e6e6e" text-anchor="middle" >4</text>
<path d="M30.5 813.9h4.6" stroke="#6e6e6e" stroke-width=".5"/>
<text x="30.5" y="721.5" font-family='"Liberation Serif","DejaVu Serif",serif' font-size="14.5" fill="#7d9bd0" text-anchor="middle" transform="rotate(-90 30.5 721.5)">N<tspan font-family='"Liberation Serif","DejaVu Serif",serif' font-style="italic">&#956;</tspan><tspan font-size="9.9" font-weight="normal" dx="-6.43" dy="-4.93">~</tspan><tspan font-family='"Liberation Serif","DejaVu Serif",serif' font-size="14.5" dy="4.93" dx="1.11">&#8203;</tspan></text>
<text x="30.5" y="783.0" font-family='"Liberation Serif","DejaVu Serif",serif' font-size="14.5" fill="#ee8a6a" text-anchor="middle" transform="rotate(-90 30.5 783.0)">N<tspan font-family='"Liberation Serif","DejaVu Serif",serif' font-style="italic">&#963;</tspan><tspan font-size="9.9" font-weight="normal" dx="-6.43" dy="-4.93">~</tspan><tspan font-family='"Liberation Serif","DejaVu Serif",serif' font-size="14.5" dy="4.93" dx="1.11">&#8203;</tspan></text>
<text x="317.3" y="727.6" font-family='"Liberation Serif","DejaVu Serif",serif' font-size="12.5" fill="#7a7a7a" text-anchor="start" >N<tspan font-family='"Liberation Serif","DejaVu Serif",serif' font-style="italic">&#956;</tspan><tspan font-size="8.5" font-weight="normal" dx="-5.54" dy="-4.25">~</tspan><tspan font-family='"Liberation Serif","DejaVu Serif",serif' font-size="8.6" dy="6.50" dx="1.26">th</tspan></text>
<text x="317.3" y="787.0" font-family='"Liberation Serif","DejaVu Serif",serif' font-size="12.5" fill="#7a7a7a" text-anchor="start" >N<tspan font-family='"Liberation Serif","DejaVu Serif",serif' font-style="italic">&#963;</tspan><tspan font-size="8.5" font-weight="normal" dx="-5.54" dy="-4.25">~</tspan><tspan font-family='"Liberation Serif","DejaVu Serif",serif' font-size="8.6" dy="6.50" dx="1.26">th</tspan></text>
<rect x="274.4" y="684.4" width="37.9" height="30.8" fill="#fff" stroke="#2f3e6e" stroke-width="1"/>
<rect x="389.5" y="688.1" width="16.4" height="125.8" rx="1.5" fill="#e7e7e7" stroke="#c4c4c4" stroke-width=".7" stroke-dasharray="2.2 1.6"/>
<rect x="422.1" y="688.1" width="16.4" height="125.8" rx="1.5" fill="#e7e7e7" stroke="#c4c4c4" stroke-width=".7" stroke-dasharray="2.2 1.6"/>
<rect x="454.6" y="688.1" width="16.4" height="125.8" rx="1.5" fill="#e7e7e7" stroke="#c4c4c4" stroke-width=".7" stroke-dasharray="2.2 1.6"/>
<rect x="487.2" y="688.1" width="16.4" height="125.8" rx="1.5" fill="#e7e7e7" stroke="#c4c4c4" stroke-width=".7" stroke-dasharray="2.2 1.6"/>
<rect x="519.7" y="688.1" width="16.4" height="125.8" rx="1.5" fill="#e7e7e7" stroke="#c4c4c4" stroke-width=".7" stroke-dasharray="2.2 1.6"/>
<rect x="552.3" y="688.1" width="16.4" height="125.8" rx="1.5" fill="#e7e7e7" stroke="#c4c4c4" stroke-width=".7" stroke-dasharray="2.2 1.6"/>
<rect x="584.9" y="688.1" width="16.4" height="125.8" rx="1.5" fill="#e7e7e7" stroke="#c4c4c4" stroke-width=".7" stroke-dasharray="2.2 1.6"/>
<rect x="617.4" y="688.1" width="16.4" height="125.8" rx="1.5" fill="#e7e7e7" stroke="#c4c4c4" stroke-width=".7" stroke-dasharray="2.2 1.6"/>
<path d="M381.2 723.1H658.4" stroke="#9db4d8" stroke-width="1.1"/>
<path d="M381.2 782.2H658.4" stroke="#f0a58f" stroke-width="1.1"/>
<path d="M393.7 751.0V736.1" stroke="#6f93d0" stroke-opacity=".6" stroke-width="2.3"/>
<path d="M393.7 751.0V777.3" stroke="#e8714a" stroke-opacity=".55" stroke-width="2.3"/>
<path d="M401.7 751.0V730.3" stroke="#6f93d0" stroke-opacity=".6" stroke-width="2.3"/>
<path d="M401.7 751.0V791.4" stroke="#ee8f78" stroke-width=".8" stroke-dasharray="2.9 2.6"/>
<path d="M410.0 751.0V729.6" stroke="#6f93d0" stroke-opacity=".6" stroke-width="2.3"/>
<path d="M410.0 751.0V781.2" stroke="#e8714a" stroke-opacity=".55" stroke-width="2.3"/>
<path d="M418.0 751.0V724.3" stroke="#6f93d0" stroke-opacity=".6" stroke-width="2.3"/>
<path d="M418.0 751.0V796.0" stroke="#ee8f78" stroke-width=".8" stroke-dasharray="2.9 2.6"/>
<path d="M426.3 751.0V738.3" stroke="#6f93d0" stroke-opacity=".6" stroke-width="2.3"/>
<path d="M426.3 751.0V767.1" stroke="#e8714a" stroke-opacity=".55" stroke-width="2.3"/>
<path d="M434.3 751.0V740.7" stroke="#6f93d0" stroke-opacity=".6" stroke-width="2.3"/>
<path d="M434.3 751.0V763.2" stroke="#e8714a" stroke-opacity=".55" stroke-width="2.3"/>
<path d="M442.5 751.0V734.4" stroke="#6f93d0" stroke-opacity=".6" stroke-width="2.3"/>
<path d="M442.5 751.0V769.9" stroke="#e8714a" stroke-opacity=".55" stroke-width="2.3"/>
<path d="M450.5 751.0V742.0" stroke="#6f93d0" stroke-opacity=".6" stroke-width="2.3"/>
<path d="M450.5 751.0V766.0" stroke="#e8714a" stroke-opacity=".55" stroke-width="2.3"/>
<path d="M458.8 751.0V744.5" stroke="#6f93d0" stroke-opacity=".6" stroke-width="2.3"/>
<path d="M458.8 751.0V757.8" stroke="#e8714a" stroke-opacity=".55" stroke-width="2.3"/>
<path d="M466.8 751.0V735.0" stroke="#6f93d0" stroke-opacity=".6" stroke-width="2.3"/>
<path d="M466.8 751.0V794.2" stroke="#ee8f78" stroke-width=".8" stroke-dasharray="2.9 2.6"/>
<path d="M475.1 751.0V740.2" stroke="#6f93d0" stroke-opacity=".6" stroke-width="2.3"/>
<path d="M475.1 751.0V767.7" stroke="#e8714a" stroke-opacity=".55" stroke-width="2.3"/>
<path d="M483.1 751.0V720.9" stroke="#7f9ccc" stroke-width=".8" stroke-dasharray="2.9 2.6"/>
<path d="M483.1 751.0V779.8" stroke="#e8714a" stroke-opacity=".55" stroke-width="2.3"/>
<path d="M491.4 751.0V739.2" stroke="#6f93d0" stroke-opacity=".6" stroke-width="2.3"/>
<path d="M491.4 751.0V779.2" stroke="#e8714a" stroke-opacity=".55" stroke-width="2.3"/>
<path d="M499.4 751.0V728.0" stroke="#6f93d0" stroke-opacity=".6" stroke-width="2.3"/>
<path d="M499.4 751.0V786.1" stroke="#ee8f78" stroke-width=".8" stroke-dasharray="2.9 2.6"/>
<path d="M507.7 751.0V738.3" stroke="#6f93d0" stroke-opacity=".6" stroke-width="2.3"/>
<path d="M507.7 751.0V778.5" stroke="#e8714a" stroke-opacity=".55" stroke-width="2.3"/>
<path d="M515.7 751.0V731.7" stroke="#6f93d0" stroke-opacity=".6" stroke-width="2.3"/>
<path d="M515.7 751.0V786.0" stroke="#ee8f78" stroke-width=".8" stroke-dasharray="2.9 2.6"/>
<path d="M523.9 751.0V734.5" stroke="#6f93d0" stroke-opacity=".6" stroke-width="2.3"/>
<path d="M523.9 751.0V789.7" stroke="#ee8f78" stroke-width=".8" stroke-dasharray="2.9 2.6"/>
<path d="M531.9 751.0V738.5" stroke="#6f93d0" stroke-opacity=".6" stroke-width="2.3"/>
<path d="M531.9 751.0V773.9" stroke="#e8714a" stroke-opacity=".55" stroke-width="2.3"/>
<path d="M540.2 751.0V736.1" stroke="#6f93d0" stroke-opacity=".6" stroke-width="2.3"/>
<path d="M540.2 751.0V770.8" stroke="#e8714a" stroke-opacity=".55" stroke-width="2.3"/>
<path d="M548.2 751.0V715.6" stroke="#7f9ccc" stroke-width=".8" stroke-dasharray="2.9 2.6"/>
<path d="M548.2 751.0V784.4" stroke="#ee8f78" stroke-width=".8" stroke-dasharray="2.9 2.6"/>
<path d="M556.5 751.0V731.5" stroke="#6f93d0" stroke-opacity=".6" stroke-width="2.3"/>
<path d="M556.5 751.0V782.3" stroke="#ee8f78" stroke-width=".8" stroke-dasharray="2.9 2.6"/>
<path d="M564.5 751.0V722.7" stroke="#7f9ccc" stroke-width=".8" stroke-dasharray="2.9 2.6"/>
<path d="M564.5 751.0V768.1" stroke="#e8714a" stroke-opacity=".55" stroke-width="2.3"/>
<path d="M572.8 751.0V742.8" stroke="#6f93d0" stroke-opacity=".6" stroke-width="2.3"/>
<path d="M572.8 751.0V758.1" stroke="#e8714a" stroke-opacity=".55" stroke-width="2.3"/>
<path d="M580.8 751.0V736.5" stroke="#6f93d0" stroke-opacity=".6" stroke-width="2.3"/>
<path d="M580.8 751.0V775.0" stroke="#e8714a" stroke-opacity=".55" stroke-width="2.3"/>
<path d="M589.1 751.0V732.6" stroke="#6f93d0" stroke-opacity=".6" stroke-width="2.3"/>
<path d="M589.1 751.0V766.9" stroke="#e8714a" stroke-opacity=".55" stroke-width="2.3"/>
<path d="M597.1 751.0V741.1" stroke="#6f93d0" stroke-opacity=".6" stroke-width="2.3"/>
<path d="M597.1 751.0V768.6" stroke="#e8714a" stroke-opacity=".55" stroke-width="2.3"/>
<path d="M605.3 751.0V737.4" stroke="#6f93d0" stroke-opacity=".6" stroke-width="2.3"/>
<path d="M605.3 751.0V774.4" stroke="#e8714a" stroke-opacity=".55" stroke-width="2.3"/>
<path d="M613.3 751.0V729.1" stroke="#6f93d0" stroke-opacity=".6" stroke-width="2.3"/>
<path d="M613.3 751.0V800.2" stroke="#ee8f78" stroke-width=".8" stroke-dasharray="2.9 2.6"/>
<path d="M621.6 751.0V738.7" stroke="#6f93d0" stroke-opacity=".6" stroke-width="2.3"/>
<path d="M621.6 751.0V757.8" stroke="#e8714a" stroke-opacity=".55" stroke-width="2.3"/>
<path d="M629.6 751.0V730.2" stroke="#6f93d0" stroke-opacity=".6" stroke-width="2.3"/>
<path d="M629.6 751.0V781.2" stroke="#e8714a" stroke-opacity=".55" stroke-width="2.3"/>
<path d="M637.9 751.0V739.2" stroke="#6f93d0" stroke-opacity=".6" stroke-width="2.3"/>
<path d="M637.9 751.0V769.9" stroke="#e8714a" stroke-opacity=".55" stroke-width="2.3"/>
<path d="M645.9 751.0V735.1" stroke="#6f93d0" stroke-opacity=".6" stroke-width="2.3"/>
<path d="M645.9 751.0V779.8" stroke="#e8714a" stroke-opacity=".55" stroke-width="2.3"/>
<path d="M381.2 751.0H658.4" stroke="#555" stroke-width="1.1"/>
<path d="M393.7 733.2L396.4 738.3L391.0 738.3Z" fill="#000"/>
<path d="M393.7 774.4L396.4 779.5L391.0 779.5Z" fill="#000"/>
<rect x="399.2" y="727.8" width="4.9" height="4.9" fill="#000"/>
<rect x="399.2" y="788.9" width="4.9" height="4.9" fill="#000"/>
<path d="M410.0 726.7L412.7 731.8L407.3 731.8Z" fill="#000"/>
<path d="M410.0 778.3L412.7 783.4L407.3 783.4Z" fill="#000"/>
<rect x="415.5" y="721.8" width="4.9" height="4.9" fill="#000"/>
<rect x="415.5" y="793.5" width="4.9" height="4.9" fill="#000"/>
<path d="M426.3 735.4L429.0 740.5L423.6 740.5Z" fill="#000"/>
<path d="M426.3 764.1L429.0 769.2L423.6 769.2Z" fill="#000"/>
<rect x="431.8" y="738.3" width="4.9" height="4.9" fill="#000"/>
<rect x="431.8" y="760.7" width="4.9" height="4.9" fill="#000"/>
<path d="M442.5 731.4L445.2 736.5L439.8 736.5Z" fill="#000"/>
<path d="M442.5 766.9L445.2 772.1L439.8 772.1Z" fill="#000"/>
<rect x="448.1" y="739.6" width="4.9" height="4.9" fill="#000"/>
<rect x="448.1" y="763.6" width="4.9" height="4.9" fill="#000"/>
<path d="M458.8 741.5L461.5 746.7L456.1 746.7Z" fill="#000"/>
<path d="M458.8 754.8L461.5 760.0L456.1 760.0Z" fill="#000"/>
<rect x="464.4" y="732.5" width="4.9" height="4.9" fill="#000"/>
<rect x="464.4" y="791.7" width="4.9" height="4.9" fill="#000"/>
<path d="M475.1 737.3L477.8 742.4L472.4 742.4Z" fill="#000"/>
<path d="M475.1 764.7L477.8 769.9L472.4 769.9Z" fill="#000"/>
<rect x="480.7" y="718.5" width="4.9" height="4.9" fill="#000"/>
<rect x="480.7" y="777.3" width="4.9" height="4.9" fill="#000"/>
<path d="M491.4 736.2L494.1 741.3L488.7 741.3Z" fill="#000"/>
<path d="M491.4 776.2L494.1 781.3L488.7 781.3Z" fill="#000"/>
<rect x="496.9" y="725.5" width="4.9" height="4.9" fill="#000"/>
<rect x="496.9" y="783.6" width="4.9" height="4.9" fill="#000"/>
<path d="M507.7 735.4L510.4 740.5L505.0 740.5Z" fill="#000"/>
<path d="M507.7 775.5L510.4 780.7L505.0 780.7Z" fill="#000"/>
<rect x="513.2" y="729.3" width="4.9" height="4.9" fill="#000"/>
<rect x="513.2" y="783.5" width="4.9" height="4.9" fill="#000"/>
<path d="M523.9 731.5L526.6 736.6L521.2 736.6Z" fill="#000"/>
<path d="M523.9 786.7L526.6 791.8L521.2 791.8Z" fill="#000"/>
<rect x="529.5" y="736.0" width="4.9" height="4.9" fill="#000"/>
<rect x="529.5" y="771.4" width="4.9" height="4.9" fill="#000"/>
<path d="M540.2 733.2L542.9 738.3L537.5 738.3Z" fill="#000"/>
<path d="M540.2 767.8L542.9 772.9L537.5 772.9Z" fill="#000"/>
<rect x="545.8" y="713.2" width="4.9" height="4.9" fill="#000"/>
<rect x="545.8" y="781.9" width="4.9" height="4.9" fill="#000"/>
<path d="M556.5 728.6L559.2 733.7L553.8 733.7Z" fill="#000"/>
<path d="M556.5 779.4L559.2 784.5L553.8 784.5Z" fill="#000"/>
<rect x="562.0" y="720.3" width="4.9" height="4.9" fill="#000"/>
<rect x="562.0" y="765.7" width="4.9" height="4.9" fill="#000"/>
<path d="M572.8 739.8L575.5 744.9L570.1 744.9Z" fill="#000"/>
<path d="M572.8 755.1L575.5 760.2L570.1 760.2Z" fill="#000"/>
<rect x="578.3" y="734.0" width="4.9" height="4.9" fill="#000"/>
<rect x="578.3" y="772.6" width="4.9" height="4.9" fill="#000"/>
<path d="M589.1 729.7L591.8 734.8L586.4 734.8Z" fill="#000"/>
<path d="M589.1 764.0L591.8 769.1L586.4 769.1Z" fill="#000"/>
<rect x="594.6" y="738.6" width="4.9" height="4.9" fill="#000"/>
<rect x="594.6" y="766.2" width="4.9" height="4.9" fill="#000"/>
<path d="M605.3 734.4L608.0 739.6L602.6 739.6Z" fill="#000"/>
<path d="M605.3 771.4L608.0 776.6L602.6 776.6Z" fill="#000"/>
<rect x="610.9" y="726.7" width="4.9" height="4.9" fill="#000"/>
<rect x="610.9" y="797.8" width="4.9" height="4.9" fill="#000"/>
<path d="M621.6 735.7L624.3 740.9L618.9 740.9Z" fill="#000"/>
<path d="M621.6 754.8L624.3 760.0L618.9 760.0Z" fill="#000"/>
<rect x="627.2" y="727.8" width="4.9" height="4.9" fill="#000"/>
<rect x="627.2" y="778.8" width="4.9" height="4.9" fill="#000"/>
<path d="M637.9 736.2L640.6 741.3L635.2 741.3Z" fill="#000"/>
<path d="M637.9 766.9L640.6 772.1L635.2 772.1Z" fill="#000"/>
<rect x="643.4" y="732.6" width="4.9" height="4.9" fill="#000"/>
<rect x="643.4" y="777.3" width="4.9" height="4.9" fill="#000"/>
<rect x="381.2" y="681.8" width="277.2" height="138.5" fill="none" stroke="#6c6c6c" stroke-width="1.15"/>
<path d="M397.7 820.3v-6M414.0 820.3v-6M430.3 820.3v-6M446.5 820.3v-6M462.8 820.3v-6M479.1 820.3v-6M495.4 820.3v-6M511.7 820.3v-6M527.9 820.3v-6M544.2 820.3v-6M560.5 820.3v-6M576.8 820.3v-6M593.1 820.3v-6M609.3 820.3v-6M625.6 820.3v-6M641.9 820.3v-6M381.2 688.8h2.5M381.2 751.0h2.5M381.2 813.9h2.5" stroke="#6c6c6c" stroke-width="1" fill="none"/>
<text x="397.7" y="833.3" font-family='"Liberation Serif","DejaVu Serif",serif' font-size="12.0" fill="#6e6e6e" text-anchor="middle" >1</text>
<text x="430.3" y="833.3" font-family='"Liberation Serif","DejaVu Serif",serif' font-size="12.0" fill="#6e6e6e" text-anchor="middle" >3</text>
<text x="462.8" y="833.3" font-family='"Liberation Serif","DejaVu Serif",serif' font-size="12.0" fill="#6e6e6e" text-anchor="middle" >5</text>
<text x="495.4" y="833.3" font-family='"Liberation Serif","DejaVu Serif",serif' font-size="12.0" fill="#6e6e6e" text-anchor="middle" >7</text>
<text x="527.9" y="833.3" font-family='"Liberation Serif","DejaVu Serif",serif' font-size="12.0" fill="#6e6e6e" text-anchor="middle" >9</text>
<text x="560.5" y="833.3" font-family='"Liberation Serif","DejaVu Serif",serif' font-size="12.0" fill="#6e6e6e" text-anchor="middle" >11</text>
<text x="593.1" y="833.3" font-family='"Liberation Serif","DejaVu Serif",serif' font-size="12.0" fill="#6e6e6e" text-anchor="middle" >13</text>
<text x="625.6" y="833.3" font-family='"Liberation Serif","DejaVu Serif",serif' font-size="12.0" fill="#6e6e6e" text-anchor="middle" >15</text>
<text x="378.3" y="692.8" font-family='"Liberation Serif","DejaVu Serif",serif' font-size="12.0" fill="#6e6e6e" text-anchor="end" >1</text>
<text x="378.6" y="755.2" font-family='"Liberation Serif","DejaVu Serif",serif' font-size="12.0" fill="#6e6e6e" text-anchor="end" >0</text>
<text x="375.8" y="813.0" font-family='"Liberation Serif","DejaVu Serif",serif' font-size="8.5" fill="#6e6e6e" text-anchor="middle" >1</text>
<text x="375.8" y="821.7" font-family='"Liberation Serif","DejaVu Serif",serif' font-size="8.5" fill="#6e6e6e" text-anchor="middle" >4</text>
<path d="M373.5 813.9h4.6" stroke="#6e6e6e" stroke-width=".5"/>
<text x="373.5" y="721.5" font-family='"Liberation Serif","DejaVu Serif",serif' font-size="14.5" fill="#7d9bd0" text-anchor="middle" transform="rotate(-90 373.5 721.5)">N<tspan font-family='"Liberation Serif","DejaVu Serif",serif' font-style="italic">&#956;</tspan><tspan font-size="9.9" font-weight="normal" dx="-6.43" dy="-4.93">~</tspan><tspan font-family='"Liberation Serif","DejaVu Serif",serif' font-size="14.5" dy="4.93" dx="1.11">&#8203;</tspan></text>
<text x="373.5" y="783.0" font-family='"Liberation Serif","DejaVu Serif",serif' font-size="14.5" fill="#ee8a6a" text-anchor="middle" transform="rotate(-90 373.5 783.0)">N<tspan font-family='"Liberation Serif","DejaVu Serif",serif' font-style="italic">&#963;</tspan><tspan font-size="9.9" font-weight="normal" dx="-6.43" dy="-4.93">~</tspan><tspan font-family='"Liberation Serif","DejaVu Serif",serif' font-size="14.5" dy="4.93" dx="1.11">&#8203;</tspan></text>
<text x="660.3" y="727.6" font-family='"Liberation Serif","DejaVu Serif",serif' font-size="12.5" fill="#7a7a7a" text-anchor="start" >N<tspan font-family='"Liberation Serif","DejaVu Serif",serif' font-style="italic">&#956;</tspan><tspan font-size="8.5" font-weight="normal" dx="-5.54" dy="-4.25">~</tspan><tspan font-family='"Liberation Serif","DejaVu Serif",serif' font-size="8.6" dy="6.50" dx="1.26">th</tspan></text>
<text x="660.3" y="787.0" font-family='"Liberation Serif","DejaVu Serif",serif' font-size="12.5" fill="#7a7a7a" text-anchor="start" >N<tspan font-family='"Liberation Serif","DejaVu Serif",serif' font-style="italic">&#963;</tspan><tspan font-size="8.5" font-weight="normal" dx="-5.54" dy="-4.25">~</tspan><tspan font-family='"Liberation Serif","DejaVu Serif",serif' font-size="8.6" dy="6.50" dx="1.26">th</tspan></text>
<rect x="617.4" y="684.4" width="37.9" height="30.8" fill="#fff" stroke="#2f3e6e" stroke-width="1"/>
<path d="M279.6 690.5L282.6 693.5L279.6 696.5L276.6 693.5Z" fill="#000"/>
<text font-family='"Liberation Sans","DejaVu Sans",sans-serif' font-style="italic" fill="#111"><tspan x="285.4" y="697.2" font-size="10.4">e</tspan><tspan x="292.6" y="693.7" font-size="7.0" font-weight="bold">i</tspan><tspan x="296.3" font-size="7.2" font-weight="bold">A</tspan><tspan x="303.4" y="695.8" font-size="7.0" font-weight="bold">j</tspan></text>
<polygon points="279.60,703.90 280.56,706.47 283.31,706.59 281.16,708.31 281.89,710.96 279.60,709.44 277.31,710.96 278.04,708.31 275.89,706.59 278.64,706.47" fill="#000"/>
<text font-family='"Liberation Sans","DejaVu Sans",sans-serif' font-style="italic" fill="#111"><tspan x="285.4" y="711.8" font-size="10.4">e</tspan><tspan x="292.6" y="708.3" font-size="7.0" font-weight="bold">i</tspan><tspan x="296.3" font-size="7.2" font-weight="bold">D</tspan><tspan x="303.4" y="710.4" font-size="7.0" font-weight="bold">j</tspan></text>
<rect x="620.1" y="691.0" width="5.0" height="5.0" fill="#000"/>
<text font-family='"Liberation Sans","DejaVu Sans",sans-serif' font-style="italic" fill="#111"><tspan x="628.4" y="697.2" font-size="10.4">e</tspan><tspan x="635.6" y="693.7" font-size="7.0" font-weight="bold">i</tspan><tspan x="639.3" font-size="7.2" font-weight="bold">B</tspan><tspan x="646.4" y="695.8" font-size="7.0" font-weight="bold">j</tspan></text>
<path d="M622.6 704.3L625.6 710.0L619.6 710.0Z" fill="#000"/>
<text font-family='"Liberation Sans","DejaVu Sans",sans-serif' font-style="italic" fill="#111"><tspan x="628.4" y="711.8" font-size="10.4">e</tspan><tspan x="635.6" y="708.3" font-size="7.0" font-weight="bold">i</tspan><tspan x="639.3" font-size="7.2" font-weight="bold">C</tspan><tspan x="646.4" y="710.4" font-size="7.0" font-weight="bold">j</tspan></text>
<text x="172.2" y="847.7" font-family='"Liberation Serif","DejaVu Serif",serif' font-size="14.2" fill="#333" text-anchor="middle" letter-spacing=".56">Matrix index (j)</text>
<text x="528.6" y="845.7" font-family='"Liberation Serif","DejaVu Serif",serif' font-size="14.2" fill="#333" text-anchor="middle" letter-spacing=".56">Matrix index (j)</text>
<text x="5.4" y="670.3" font-family='"Liberation Sans","DejaVu Sans",sans-serif' font-size="15.5" fill="#000" text-anchor="start" font-weight="bold" textLength="13.6" lengthAdjust="spacingAndGlyphs">(c)</text>
<path d="M365.3 814.3h5.9" stroke="#6e6e6e" stroke-width=".6"/>
</svg>
</body></html>
